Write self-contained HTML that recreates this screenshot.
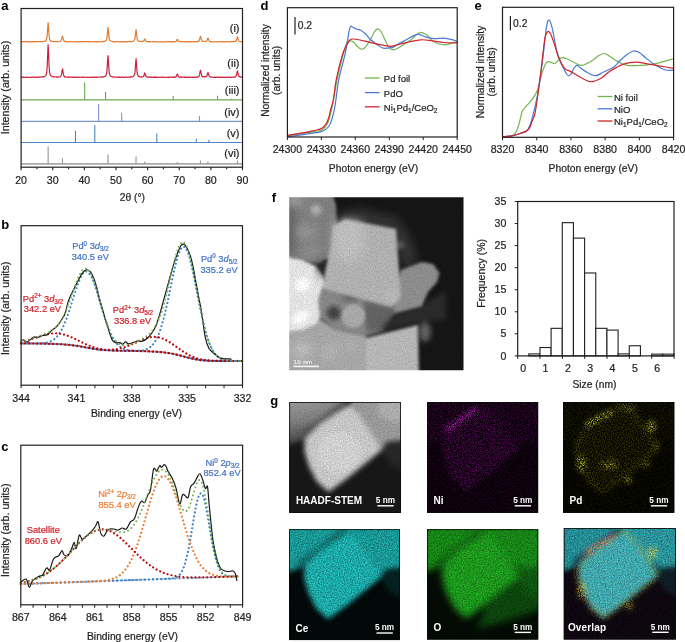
<!DOCTYPE html>
<html><head><meta charset="utf-8"><style>
html,body{margin:0;padding:0;background:#fff;}
body{width:685px;height:642px;overflow:hidden;position:relative;}
svg{position:absolute;left:0;top:0;font-family:"Liberation Sans", sans-serif;will-change:transform;}
</style></head><body>
<svg width="685" height="642" viewBox="0 0 685 642">
<defs><filter id="fh" x="-5%" y="-5%" width="110%" height="110%" color-interpolation-filters="sRGB"><feGaussianBlur in="SourceGraphic" stdDeviation="2.4" result="b"/><feTurbulence type="fractalNoise" baseFrequency="0.85" numOctaves="3" seed="11" result="t"/><feColorMatrix in="t" type="matrix" values="1 0 0 0 0  1 0 0 0 0  1 0 0 0 0  0 0 0 0 1" result="n"/><feComponentTransfer in="n" result="n2"><feFuncR type="linear" slope="0.3" intercept="0.35"/><feFuncG type="linear" slope="0.3" intercept="0.35"/><feFuncB type="linear" slope="0.3" intercept="0.35"/></feComponentTransfer><feComposite in="b" in2="n2" operator="arithmetic" k1="1.2" k2="0.4" k3="0" k4="0"/></filter><linearGradient id="gul" x1="0" y1="0" x2="0.25" y2="1"><stop offset="0" stop-color="#a0a0a0"/><stop offset="0.55" stop-color="#7a7a7a"/><stop offset="1" stop-color="#3a3a3a"/></linearGradient><filter id="fc" x="-5%" y="-5%" width="110%" height="110%" color-interpolation-filters="sRGB"><feGaussianBlur in="SourceGraphic" stdDeviation="2.8" result="b"/><feTurbulence type="fractalNoise" baseFrequency="0.85" numOctaves="3" seed="12" result="t"/><feColorMatrix in="t" type="matrix" values="1 0 0 0 0  1 0 0 0 0  1 0 0 0 0  0 0 0 0 1" result="n"/><feComponentTransfer in="n" result="n2"><feFuncR type="linear" slope="0.8" intercept="0.09999999999999998"/><feFuncG type="linear" slope="0.8" intercept="0.09999999999999998"/><feFuncB type="linear" slope="0.8" intercept="0.09999999999999998"/></feComponentTransfer><feComposite in="b" in2="n2" operator="arithmetic" k1="1.2" k2="0.4" k3="0" k4="0"/></filter><filter id="fo" x="-5%" y="-5%" width="110%" height="110%" color-interpolation-filters="sRGB"><feGaussianBlur in="SourceGraphic" stdDeviation="3.6" result="b"/><feTurbulence type="fractalNoise" baseFrequency="0.85" numOctaves="3" seed="13" result="t"/><feColorMatrix in="t" type="matrix" values="1 0 0 0 0  1 0 0 0 0  1 0 0 0 0  0 0 0 0 1" result="n"/><feComponentTransfer in="n" result="n2"><feFuncR type="linear" slope="0.8" intercept="0.09999999999999998"/><feFuncG type="linear" slope="0.8" intercept="0.09999999999999998"/><feFuncB type="linear" slope="0.8" intercept="0.09999999999999998"/></feComponentTransfer><feComposite in="b" in2="n2" operator="arithmetic" k1="1.2" k2="0.4" k3="0" k4="0"/></filter><filter id="fv" x="-5%" y="-5%" width="110%" height="110%" color-interpolation-filters="sRGB"><feGaussianBlur in="SourceGraphic" stdDeviation="2.8" result="b"/><feTurbulence type="fractalNoise" baseFrequency="0.85" numOctaves="3" seed="14" result="t"/><feColorMatrix in="t" type="matrix" values="1 0 0 0 0  1 0 0 0 0  1 0 0 0 0  0 0 0 0 1" result="n"/><feComponentTransfer in="n" result="n2"><feFuncR type="linear" slope="0.8" intercept="0.09999999999999998"/><feFuncG type="linear" slope="0.8" intercept="0.09999999999999998"/><feFuncB type="linear" slope="0.8" intercept="0.09999999999999998"/></feComponentTransfer><feComposite in="b" in2="n2" operator="arithmetic" k1="1.2" k2="0.4" k3="0" k4="0"/></filter><filter id="dn" x="-5%" y="-5%" width="110%" height="110%" color-interpolation-filters="sRGB"><feGaussianBlur in="SourceGraphic" stdDeviation="2.0" result="d"/><feTurbulence type="fractalNoise" baseFrequency="0.85" numOctaves="3" seed="21" result="t"/><feColorMatrix in="t" type="matrix" values="1 0 0 0 0  1 0 0 0 0  1 0 0 0 0  0 0 0 0 1" result="n"/><feComposite in="n" in2="d" operator="arithmetic" k1="6.0" k2="0" k3="-2.000" k4="0" result="m0"/><feGaussianBlur in="m0" stdDeviation="0.4" result="m"/><feColorMatrix in="m" type="matrix" values="0 0 0 0 0.8  0 0 0 0 0.1  0 0 0 0 0.8  1 0 0 0 0"/></filter><filter id="dp" x="-5%" y="-5%" width="110%" height="110%" color-interpolation-filters="sRGB"><feGaussianBlur in="SourceGraphic" stdDeviation="2.0" result="d"/><feTurbulence type="fractalNoise" baseFrequency="0.85" numOctaves="3" seed="22" result="t"/><feColorMatrix in="t" type="matrix" values="1 0 0 0 0  1 0 0 0 0  1 0 0 0 0  0 0 0 0 1" result="n"/><feComposite in="n" in2="d" operator="arithmetic" k1="6.0" k2="0" k3="-2.000" k4="0" result="m0"/><feGaussianBlur in="m0" stdDeviation="0.4" result="m"/><feColorMatrix in="m" type="matrix" values="0 0 0 0 0.8  0 0 0 0 0.78  0 0 0 0 0.08  1 0 0 0 0"/></filter><filter id="dn2" x="-5%" y="-5%" width="110%" height="110%" color-interpolation-filters="sRGB"><feGaussianBlur in="SourceGraphic" stdDeviation="2.0" result="d"/><feTurbulence type="fractalNoise" baseFrequency="0.85" numOctaves="3" seed="23" result="t"/><feColorMatrix in="t" type="matrix" values="1 0 0 0 0  1 0 0 0 0  1 0 0 0 0  0 0 0 0 1" result="n"/><feComposite in="n" in2="d" operator="arithmetic" k1="6.0" k2="0" k3="-2.000" k4="0" result="m0"/><feGaussianBlur in="m0" stdDeviation="0.4" result="m"/><feColorMatrix in="m" type="matrix" values="0 0 0 0 0.8  0 0 0 0 0.2  0 0 0 0 0.7  1 0 0 0 0"/></filter><filter id="dp2" x="-5%" y="-5%" width="110%" height="110%" color-interpolation-filters="sRGB"><feGaussianBlur in="SourceGraphic" stdDeviation="2.0" result="d"/><feTurbulence type="fractalNoise" baseFrequency="0.85" numOctaves="3" seed="24" result="t"/><feColorMatrix in="t" type="matrix" values="1 0 0 0 0  1 0 0 0 0  1 0 0 0 0  0 0 0 0 1" result="n"/><feComposite in="n" in2="d" operator="arithmetic" k1="6.0" k2="0" k3="-2.000" k4="0" result="m0"/><feGaussianBlur in="m0" stdDeviation="0.4" result="m"/><feColorMatrix in="m" type="matrix" values="0 0 0 0 0.95  0 0 0 0 0.8  0 0 0 0 0.2  1 0 0 0 0"/></filter><clipPath id="cf"><rect x="289.2" y="197.2" width="174.3" height="173.1"/></clipPath><filter id="bf4" x="-50%" y="-50%" width="200%" height="200%"><feGaussianBlur stdDeviation="4"/></filter><filter id="bf2" x="-50%" y="-50%" width="200%" height="200%"><feGaussianBlur stdDeviation="2"/></filter><filter id="bf6" x="-50%" y="-50%" width="200%" height="200%"><feGaussianBlur stdDeviation="6"/></filter><filter id="bf" x="-5%" y="-5%" width="110%" height="110%" color-interpolation-filters="sRGB"><feGaussianBlur in="SourceGraphic" stdDeviation="1.6" result="b"/><feTurbulence type="fractalNoise" baseFrequency="0.85" numOctaves="3" seed="31" result="t"/><feColorMatrix in="t" type="matrix" values="1 0 0 0 0  1 0 0 0 0  1 0 0 0 0  0 0 0 0 1" result="n"/><feComponentTransfer in="n" result="n2"><feFuncR type="linear" slope="0.25" intercept="0.375"/><feFuncG type="linear" slope="0.25" intercept="0.375"/><feFuncB type="linear" slope="0.25" intercept="0.375"/></feComponentTransfer><feComposite in="b" in2="n2" operator="arithmetic" k1="1.2" k2="0.4" k3="0" k4="0"/></filter><clipPath id="ch"><rect x="289.3" y="402" width="111.6" height="110.9"/></clipPath><clipPath id="cn"><rect x="427" y="402" width="111.2" height="110.9"/></clipPath><clipPath id="cp"><rect x="563" y="402" width="111.4" height="110.9"/></clipPath><clipPath id="cc"><rect x="289" y="529.3" width="111" height="110.8"/></clipPath><clipPath id="co"><rect x="427" y="529.3" width="111.2" height="110.2"/></clipPath><clipPath id="cv"><rect x="563.8" y="528.2" width="112" height="111.2"/></clipPath></defs>
<text x="1.2" y="9.9" font-size="13" text-anchor="start" fill="#000" font-weight="bold" >a</text>
<path d="M21.1,41.7 L21.6,41.61 L22.1,41.86 L22.6,41.57 L23.1,41.8 L23.6,41.72 L24.1,41.56 L24.6,41.79 L25.1,41.55 L25.6,41.75 L26.1,41.57 L26.6,41.58 L27.1,41.74 L27.6,41.94 L28.1,41.59 L28.6,41.64 L29.1,41.84 L29.6,42 L30.1,41.81 L30.6,41.72 L31.1,42.01 L31.6,41.54 L32.1,41.95 L32.6,41.66 L33.1,41.59 L33.6,41.57 L34.1,41.66 L34.6,41.92 L35.1,41.59 L35.6,41.79 L36.1,41.82 L36.6,41.68 L37.1,41.76 L37.6,41.51 L38.1,41.51 L38.6,41.57 L39.1,41.8 L39.6,41.66 L40.1,41.59 L40.6,41.71 L41.1,41.63 L41.6,41.53 L42.1,41.75 L42.6,41.67 L43.1,41.4 L43.6,41.5 L44.1,41.39 L44.6,41.44 L45.1,41.19 L45.6,40.68 L46.1,40.52 L46.6,39 L47.1,36.29 L47.6,29.8 L48.1,22.48 L48.6,28.17 L49.1,35.28 L49.6,38.96 L50.1,40.28 L50.6,40.75 L51.1,41.21 L51.6,41.13 L52.1,41.44 L52.6,41.48 L53.1,41.54 L53.6,41.52 L54.1,41.74 L54.6,41.82 L55.1,41.6 L55.6,41.71 L56.1,41.42 L56.6,41.74 L57.1,41.71 L57.6,41.88 L58.1,41.78 L58.6,41.49 L59.1,41.5 L59.6,41.59 L60.1,41.16 L60.6,41.19 L61.1,40.6 L61.6,39.38 L62.1,36.96 L62.6,36.28 L63.1,38.36 L63.6,40.21 L64.1,41.01 L64.6,41.53 L65.1,41.28 L65.6,41.54 L66.1,41.64 L66.6,41.85 L67.1,41.84 L67.6,41.88 L68.1,41.6 L68.6,41.68 L69.1,41.66 L69.6,41.93 L70.1,41.97 L70.6,41.57 L71.1,41.59 L71.6,41.62 L72.1,41.63 L72.6,41.75 L73.1,41.81 L73.6,41.65 L74.1,41.52 L74.6,41.73 L75.1,41.71 L75.6,41.8 L76.1,42 L76.6,41.87 L77.1,41.78 L77.6,41.83 L78.1,41.86 L78.6,41.55 L79.1,41.98 L79.6,41.92 L80.1,41.96 L80.6,41.93 L81.1,41.72 L81.6,41.73 L82.1,41.58 L82.6,41.85 L83.1,41.56 L83.6,41.56 L84.1,41.63 L84.6,41.61 L85.1,41.7 L85.6,41.55 L86.1,41.53 L86.6,41.6 L87.1,41.58 L87.6,41.71 L88.1,41.54 L88.6,41.96 L89.1,41.83 L89.6,41.6 L90.1,41.65 L90.6,41.7 L91.1,41.7 L91.6,41.58 L92.1,41.94 L92.6,42.02 L93.1,41.75 L93.6,41.76 L94.1,41.56 L94.6,41.56 L95.1,41.68 L95.6,41.64 L96.1,41.92 L96.6,41.58 L97.1,41.51 L97.6,41.97 L98.1,41.75 L98.6,41.55 L99.1,41.75 L99.6,41.48 L100.1,41.72 L100.6,41.93 L101.1,41.86 L101.6,41.76 L102.1,41.52 L102.6,41.55 L103.1,41.41 L103.6,41.66 L104.1,41.47 L104.6,41.49 L105.1,41.11 L105.6,40.81 L106.1,40.64 L106.6,39.68 L107.1,36.81 L107.6,30.94 L108.1,27.45 L108.6,33.19 L109.1,37.75 L109.6,39.91 L110.1,40.6 L110.6,40.81 L111.1,41.02 L111.6,41.28 L112.1,41.36 L112.6,41.64 L113.1,41.81 L113.6,41.59 L114.1,41.86 L114.6,41.91 L115.1,41.91 L115.6,41.63 L116.1,41.56 L116.6,41.58 L117.1,41.57 L117.6,41.58 L118.1,41.79 L118.6,41.93 L119.1,41.91 L119.6,41.73 L120.1,41.82 L120.6,41.89 L121.1,41.54 L121.6,41.83 L122.1,41.95 L122.6,41.89 L123.1,41.87 L123.6,41.73 L124.1,41.58 L124.6,41.89 L125.1,41.66 L125.6,41.89 L126.1,41.97 L126.6,41.68 L127.1,41.67 L127.6,41.94 L128.1,41.82 L128.6,41.53 L129.1,41.5 L129.6,41.5 L130.1,41.86 L130.6,41.79 L131.1,41.42 L131.6,41.72 L132.1,41.74 L132.6,41.49 L133.1,41.21 L133.6,41.1 L134.1,40.52 L134.6,39.61 L135.1,37.83 L135.6,32.84 L136.1,29.48 L136.6,34.38 L137.1,38.32 L137.6,40.32 L138.1,40.97 L138.6,40.98 L139.1,41.18 L139.6,41.31 L140.1,41.35 L140.6,41.56 L141.1,41.42 L141.6,41.51 L142.1,41.35 L142.6,41.68 L143.1,41.28 L143.6,40.99 L144.1,40.17 L144.6,39.13 L145.1,39.39 L145.6,40.85 L146.1,41.25 L146.6,41.5 L147.1,41.59 L147.6,41.4 L148.1,41.64 L148.6,41.54 L149.1,41.47 L149.6,41.87 L150.1,41.57 L150.6,41.73 L151.1,41.86 L151.6,41.78 L152.1,41.67 L152.6,41.77 L153.1,41.79 L153.6,41.91 L154.1,41.57 L154.6,41.8 L155.1,41.65 L155.6,41.66 L156.1,41.91 L156.6,41.78 L157.1,41.81 L157.6,41.91 L158.1,41.98 L158.6,41.75 L159.1,41.84 L159.6,41.78 L160.1,41.79 L160.6,41.88 L161.1,41.76 L161.6,41.8 L162.1,41.77 L162.6,42 L163.1,41.88 L163.6,41.97 L164.1,42 L164.6,41.66 L165.1,41.81 L165.6,42 L166.1,41.95 L166.6,41.6 L167.1,41.59 L167.6,41.75 L168.1,41.56 L168.6,41.65 L169.1,41.56 L169.6,41.86 L170.1,41.91 L170.6,41.97 L171.1,41.59 L171.6,41.87 L172.1,41.84 L172.6,41.57 L173.1,41.93 L173.6,41.96 L174.1,41.57 L174.6,41.9 L175.1,41.57 L175.6,41.52 L176.1,41.52 L176.6,40.8 L177.1,39.38 L177.6,39.53 L178.1,40.66 L178.6,41.2 L179.1,41.37 L179.6,41.53 L180.1,41.79 L180.6,41.47 L181.1,41.75 L181.6,41.71 L182.1,41.51 L182.6,41.67 L183.1,41.82 L183.6,41.77 L184.1,41.55 L184.6,42.01 L185.1,41.91 L185.6,42.01 L186.1,41.57 L186.6,41.65 L187.1,41.54 L187.6,41.91 L188.1,41.66 L188.6,41.58 L189.1,41.73 L189.6,41.97 L190.1,41.93 L190.6,41.64 L191.1,41.59 L191.6,41.97 L192.1,41.79 L192.6,41.85 L193.1,41.54 L193.6,41.52 L194.1,41.83 L194.6,41.69 L195.1,41.5 L195.6,41.92 L196.1,41.74 L196.6,41.8 L197.1,41.39 L197.6,41.71 L198.1,41.21 L198.6,41.4 L199.1,40.71 L199.6,39.37 L200.1,37.03 L200.6,36.47 L201.1,38.61 L201.6,40.22 L202.1,41.09 L202.6,41.21 L203.1,41.26 L203.6,41.35 L204.1,41.33 L204.6,41.41 L205.1,41.44 L205.6,41.39 L206.1,41.49 L206.6,40.95 L207.1,40.22 L207.6,38.45 L208.1,38.08 L208.6,39.54 L209.1,40.76 L209.6,41.09 L210.1,41.62 L210.6,41.62 L211.1,41.49 L211.6,41.67 L212.1,41.92 L212.6,41.52 L213.1,41.89 L213.6,41.71 L214.1,41.74 L214.6,41.92 L215.1,41.7 L215.6,41.76 L216.1,41.86 L216.6,42.01 L217.1,41.69 L217.6,41.94 L218.1,41.88 L218.6,41.84 L219.1,41.73 L219.6,41.7 L220.1,41.55 L220.6,41.59 L221.1,41.56 L221.6,41.9 L222.1,41.66 L222.6,41.61 L223.1,41.57 L223.6,41.95 L224.1,41.96 L224.6,41.86 L225.1,41.67 L225.6,41.65 L226.1,41.67 L226.6,41.76 L227.1,41.6 L227.6,41.75 L228.1,41.65 L228.6,42 L229.1,42 L229.6,41.79 L230.1,41.63 L230.6,41.99 L231.1,41.66 L231.6,41.67 L232.1,41.48 L232.6,41.66 L233.1,41.69 L233.6,41.68 L234.1,41.5 L234.6,41.59 L235.1,41.25 L235.6,41.22 L236.1,40.73 L236.6,39.84 L237.1,37.64 L237.6,36.98 L238.1,39.16 L238.6,40.53 L239.1,41.28 L239.6,41.47 L240.1,41.69 L240.6,41.71 L241.1,41.78 L241.6,41.89 L242.1,41.66" fill="none" stroke="#e27b32" stroke-width="1.2" stroke-linejoin="round" />
<path d="M21.1,77.19 L21.6,77.52 L22.1,77.1 L22.6,77.39 L23.1,77.35 L23.6,77.05 L24.1,77.44 L24.6,77.47 L25.1,77.34 L25.6,77.39 L26.1,77.43 L26.6,77.09 L27.1,77.28 L27.6,77.27 L28.1,77.43 L28.6,77.42 L29.1,77.43 L29.6,77.3 L30.1,77.45 L30.6,77.35 L31.1,77.35 L31.6,77.12 L32.1,77.01 L32.6,77.06 L33.1,77.17 L33.6,77.04 L34.1,77.4 L34.6,77.26 L35.1,77.29 L35.6,77.28 L36.1,77.3 L36.6,77.2 L37.1,76.95 L37.6,77.34 L38.1,77.3 L38.6,77.16 L39.1,77.17 L39.6,77.21 L40.1,76.89 L40.6,77.2 L41.1,76.93 L41.6,76.8 L42.1,76.85 L42.6,77.03 L43.1,76.69 L43.6,76.85 L44.1,76.82 L44.6,76.38 L45.1,76.02 L45.6,75.58 L46.1,74.82 L46.6,73.02 L47.1,68.1 L47.6,56.85 L48.1,44.68 L48.6,54.06 L49.1,66.53 L49.6,72.48 L50.1,74.41 L50.6,75.5 L51.1,75.75 L51.6,76.1 L52.1,76.42 L52.6,76.77 L53.1,76.89 L53.6,76.95 L54.1,76.82 L54.6,76.97 L55.1,76.98 L55.6,77 L56.1,76.84 L56.6,77.24 L57.1,76.89 L57.6,77.27 L58.1,77.24 L58.6,76.74 L59.1,76.91 L59.6,77.01 L60.1,76.93 L60.6,76.39 L61.1,75.64 L61.6,73.84 L62.1,70.66 L62.6,68.76 L63.1,72.52 L63.6,74.94 L64.1,76.22 L64.6,76.85 L65.1,76.65 L65.6,77.11 L66.1,77.03 L66.6,77.27 L67.1,77.22 L67.6,77.01 L68.1,77.36 L68.6,77.18 L69.1,76.96 L69.6,76.96 L70.1,77.21 L70.6,77.2 L71.1,77.13 L71.6,77.05 L72.1,77.16 L72.6,77.15 L73.1,77.41 L73.6,77 L74.1,77.38 L74.6,77.42 L75.1,77.06 L75.6,77.47 L76.1,77.36 L76.6,77.46 L77.1,77.16 L77.6,77.2 L78.1,77.21 L78.6,77.51 L79.1,77.31 L79.6,77.19 L80.1,77.23 L80.6,77.15 L81.1,77.04 L81.6,77.07 L82.1,77.43 L82.6,77.16 L83.1,77.48 L83.6,77.14 L84.1,77.15 L84.6,77.27 L85.1,77.11 L85.6,77.2 L86.1,77.49 L86.6,77.46 L87.1,77.42 L87.6,77.33 L88.1,77.47 L88.6,77.48 L89.1,77.29 L89.6,77.37 L90.1,77.03 L90.6,77.37 L91.1,77.23 L91.6,77.38 L92.1,77.33 L92.6,77.14 L93.1,77.02 L93.6,77.46 L94.1,77.06 L94.6,77.23 L95.1,77.16 L95.6,77.13 L96.1,77.35 L96.6,77.46 L97.1,77.1 L97.6,77.29 L98.1,77.11 L98.6,77.22 L99.1,77.13 L99.6,77.01 L100.1,76.99 L100.6,76.99 L101.1,77.32 L101.6,77.09 L102.1,76.92 L102.6,77.22 L103.1,77.21 L103.6,76.86 L104.1,76.59 L104.6,76.47 L105.1,76.18 L105.6,75.92 L106.1,75.1 L106.6,73.58 L107.1,69.35 L107.6,60.63 L108.1,55.48 L108.6,64.18 L109.1,71.32 L109.6,74.38 L110.1,75.61 L110.6,76.09 L111.1,76.39 L111.6,76.46 L112.1,76.7 L112.6,77.14 L113.1,76.79 L113.6,77.03 L114.1,77.13 L114.6,77.28 L115.1,76.98 L115.6,77.02 L116.1,77.03 L116.6,77.12 L117.1,77.15 L117.6,77.41 L118.1,77.37 L118.6,77.39 L119.1,76.97 L119.6,76.97 L120.1,77.32 L120.6,77.41 L121.1,77.2 L121.6,77.26 L122.1,76.97 L122.6,77.16 L123.1,77.43 L123.6,77.38 L124.1,77.39 L124.6,77.45 L125.1,77.08 L125.6,77.01 L126.1,77.03 L126.6,77.2 L127.1,77.28 L127.6,77.4 L128.1,77.28 L128.6,77.22 L129.1,77.27 L129.6,77.09 L130.1,77.11 L130.6,76.82 L131.1,77.14 L131.6,76.81 L132.1,77.06 L132.6,76.8 L133.1,76.44 L133.6,76.04 L134.1,75.54 L134.6,74.46 L135.1,71.12 L135.6,63.62 L136.1,58.68 L136.6,65.93 L137.1,72.2 L137.6,74.76 L138.1,75.68 L138.6,76.34 L139.1,76.31 L139.6,76.62 L140.1,76.8 L140.6,77.11 L141.1,76.99 L141.6,77.12 L142.1,76.89 L142.6,76.69 L143.1,76.51 L143.6,76.35 L144.1,74.93 L144.6,72.95 L145.1,73.55 L145.6,75.58 L146.1,76.57 L146.6,76.79 L147.1,76.86 L147.6,77.14 L148.1,77.32 L148.6,77.01 L149.1,76.94 L149.6,77.11 L150.1,77.16 L150.6,77.31 L151.1,77.07 L151.6,77.38 L152.1,77.36 L152.6,77.24 L153.1,77.1 L153.6,77.48 L154.1,77.16 L154.6,77.41 L155.1,77.12 L155.6,77.12 L156.1,77.39 L156.6,77.16 L157.1,77.49 L157.6,77.26 L158.1,77.11 L158.6,77.13 L159.1,77.23 L159.6,77.35 L160.1,77.5 L160.6,77.09 L161.1,77.22 L161.6,77.13 L162.1,77.51 L162.6,77.09 L163.1,77.05 L163.6,77.05 L164.1,77.22 L164.6,77.47 L165.1,77.46 L165.6,77.39 L166.1,77.52 L166.6,77.49 L167.1,77.19 L167.6,77.11 L168.1,77.49 L168.6,77.39 L169.1,77.03 L169.6,77.35 L170.1,77.2 L170.6,77.19 L171.1,77.17 L171.6,77.08 L172.1,76.99 L172.6,77.12 L173.1,77.15 L173.6,77.43 L174.1,76.99 L174.6,77.37 L175.1,76.92 L175.6,76.86 L176.1,76.77 L176.6,75.92 L177.1,74.29 L177.6,74.12 L178.1,75.77 L178.6,76.55 L179.1,77.15 L179.6,76.91 L180.1,77.07 L180.6,77.37 L181.1,76.97 L181.6,77.17 L182.1,77.39 L182.6,77.37 L183.1,77.02 L183.6,77.02 L184.1,77.03 L184.6,77.47 L185.1,77.14 L185.6,77.38 L186.1,77.46 L186.6,77.18 L187.1,77.15 L187.6,77.49 L188.1,77.32 L188.6,77.14 L189.1,77.37 L189.6,77.17 L190.1,77.14 L190.6,77 L191.1,77.38 L191.6,77.45 L192.1,77.31 L192.6,77.46 L193.1,76.99 L193.6,77.09 L194.1,77.2 L194.6,77.43 L195.1,77.41 L195.6,77.11 L196.1,77.01 L196.6,77.06 L197.1,77.04 L197.6,77.17 L198.1,76.65 L198.6,76.7 L199.1,76.04 L199.6,74.42 L200.1,71.23 L200.6,70.19 L201.1,73.23 L201.6,75.41 L202.1,76.3 L202.6,76.84 L203.1,76.64 L203.6,76.78 L204.1,77.1 L204.6,76.85 L205.1,76.73 L205.6,76.64 L206.1,76.73 L206.6,76.19 L207.1,75.38 L207.6,73.13 L208.1,72.56 L208.6,74.43 L209.1,75.85 L209.6,76.46 L210.1,76.9 L210.6,77.12 L211.1,77.06 L211.6,77 L212.1,77.13 L212.6,77.25 L213.1,77.29 L213.6,77.34 L214.1,77.4 L214.6,77.32 L215.1,77.05 L215.6,77.42 L216.1,77.15 L216.6,77.29 L217.1,77.2 L217.6,77.38 L218.1,77.11 L218.6,77.14 L219.1,77.14 L219.6,77.09 L220.1,77.46 L220.6,77.31 L221.1,77.18 L221.6,77.22 L222.1,77.52 L222.6,77.28 L223.1,77.14 L223.6,77.43 L224.1,77.35 L224.6,77.52 L225.1,77.07 L225.6,77.26 L226.1,77.43 L226.6,77.44 L227.1,77.47 L227.6,77.03 L228.1,77.16 L228.6,77.07 L229.1,77.1 L229.6,77.49 L230.1,77.29 L230.6,77.46 L231.1,77.17 L231.6,77.41 L232.1,77.18 L232.6,77.07 L233.1,77.31 L233.6,77.36 L234.1,76.89 L234.6,77.06 L235.1,76.96 L235.6,76.53 L236.1,76.07 L236.6,74.53 L237.1,71.83 L237.6,70.98 L238.1,73.91 L238.6,75.84 L239.1,76.39 L239.6,76.59 L240.1,76.9 L240.6,77.16 L241.1,76.97 L241.6,77.07 L242.1,77.04" fill="none" stroke="#cf1f3f" stroke-width="1.2" stroke-linejoin="round" />
<line x1="21.1" y1="99.8" x2="242.5" y2="99.8" stroke="#6aa84f" stroke-width="1.2" />
<line x1="84.67" y1="99.8" x2="84.67" y2="82.5" stroke="#6aa84f" stroke-width="1.1" />
<line x1="105.55" y1="99.8" x2="105.55" y2="92" stroke="#6aa84f" stroke-width="1.1" />
<line x1="173.23" y1="99.8" x2="173.23" y2="96.1" stroke="#6aa84f" stroke-width="1.1" />
<line x1="217.51" y1="99.8" x2="217.51" y2="95.7" stroke="#6aa84f" stroke-width="1.1" />
<line x1="231.75" y1="99.8" x2="231.75" y2="98.4" stroke="#6aa84f" stroke-width="1.1" />
<line x1="21.1" y1="121.3" x2="242.5" y2="121.3" stroke="#7b95c8" stroke-width="1.2" />
<line x1="98.59" y1="121.3" x2="98.59" y2="103.9" stroke="#7b95c8" stroke-width="1.1" />
<line x1="121.68" y1="121.3" x2="121.68" y2="112.8" stroke="#7b95c8" stroke-width="1.1" />
<line x1="199.49" y1="121.3" x2="199.49" y2="116" stroke="#7b95c8" stroke-width="1.1" />
<line x1="21.1" y1="142.5" x2="242.5" y2="142.5" stroke="#4a86c8" stroke-width="1.2" />
<line x1="75.5" y1="142.5" x2="75.5" y2="130.8" stroke="#4a86c8" stroke-width="1.1" />
<line x1="94.79" y1="142.5" x2="94.79" y2="125.1" stroke="#4a86c8" stroke-width="1.1" />
<line x1="156.79" y1="142.5" x2="156.79" y2="133.5" stroke="#4a86c8" stroke-width="1.1" />
<line x1="196.32" y1="142.5" x2="196.32" y2="138.8" stroke="#4a86c8" stroke-width="1.1" />
<line x1="208.97" y1="142.5" x2="208.97" y2="139.8" stroke="#4a86c8" stroke-width="1.1" />
<line x1="21.1" y1="163.8" x2="242.5" y2="163.8" stroke="#aaaaaa" stroke-width="1.8" />
<line x1="48.14" y1="163.8" x2="48.14" y2="146.4" stroke="#929292" stroke-width="1.1" />
<line x1="62.47" y1="163.8" x2="62.47" y2="158.3" stroke="#929292" stroke-width="1.1" />
<line x1="108.02" y1="163.8" x2="108.02" y2="154.5" stroke="#929292" stroke-width="1.1" />
<line x1="136.04" y1="163.8" x2="136.04" y2="156.5" stroke="#929292" stroke-width="1.1" />
<line x1="144.74" y1="163.8" x2="144.74" y2="161.5" stroke="#929292" stroke-width="1.1" />
<line x1="177.35" y1="163.8" x2="177.35" y2="162" stroke="#929292" stroke-width="1.1" />
<line x1="200.43" y1="163.8" x2="200.43" y2="160.6" stroke="#929292" stroke-width="1.1" />
<line x1="207.93" y1="163.8" x2="207.93" y2="161.5" stroke="#929292" stroke-width="1.1" />
<line x1="237.44" y1="163.8" x2="237.44" y2="160.6" stroke="#929292" stroke-width="1.1" />
<rect x="21.1" y="8.5" width="221.4" height="158.7" stroke="#231f20" stroke-width="1.2" fill="none" />
<line x1="21.1" y1="167.2" x2="21.1" y2="170.2" stroke="#231f20" stroke-width="1.1" />
<line x1="36.91" y1="167.2" x2="36.91" y2="169.2" stroke="#231f20" stroke-width="1.1" />
<line x1="52.73" y1="167.2" x2="52.73" y2="170.2" stroke="#231f20" stroke-width="1.1" />
<line x1="68.54" y1="167.2" x2="68.54" y2="169.2" stroke="#231f20" stroke-width="1.1" />
<line x1="84.36" y1="167.2" x2="84.36" y2="170.2" stroke="#231f20" stroke-width="1.1" />
<line x1="100.17" y1="167.2" x2="100.17" y2="169.2" stroke="#231f20" stroke-width="1.1" />
<line x1="115.99" y1="167.2" x2="115.99" y2="170.2" stroke="#231f20" stroke-width="1.1" />
<line x1="131.8" y1="167.2" x2="131.8" y2="169.2" stroke="#231f20" stroke-width="1.1" />
<line x1="147.61" y1="167.2" x2="147.61" y2="170.2" stroke="#231f20" stroke-width="1.1" />
<line x1="163.43" y1="167.2" x2="163.43" y2="169.2" stroke="#231f20" stroke-width="1.1" />
<line x1="179.24" y1="167.2" x2="179.24" y2="170.2" stroke="#231f20" stroke-width="1.1" />
<line x1="195.06" y1="167.2" x2="195.06" y2="169.2" stroke="#231f20" stroke-width="1.1" />
<line x1="210.87" y1="167.2" x2="210.87" y2="170.2" stroke="#231f20" stroke-width="1.1" />
<line x1="226.69" y1="167.2" x2="226.69" y2="169.2" stroke="#231f20" stroke-width="1.1" />
<line x1="242.5" y1="167.2" x2="242.5" y2="170.2" stroke="#231f20" stroke-width="1.1" />
<text x="21.1" y="184" font-size="10.6" text-anchor="middle" fill="#231f20" font-weight="normal" stroke="#231f20" stroke-width="0.22" >20</text>
<text x="52.73" y="184" font-size="10.6" text-anchor="middle" fill="#231f20" font-weight="normal" stroke="#231f20" stroke-width="0.22" >30</text>
<text x="84.36" y="184" font-size="10.6" text-anchor="middle" fill="#231f20" font-weight="normal" stroke="#231f20" stroke-width="0.22" >40</text>
<text x="115.99" y="184" font-size="10.6" text-anchor="middle" fill="#231f20" font-weight="normal" stroke="#231f20" stroke-width="0.22" >50</text>
<text x="147.61" y="184" font-size="10.6" text-anchor="middle" fill="#231f20" font-weight="normal" stroke="#231f20" stroke-width="0.22" >60</text>
<text x="179.24" y="184" font-size="10.6" text-anchor="middle" fill="#231f20" font-weight="normal" stroke="#231f20" stroke-width="0.22" >70</text>
<text x="210.87" y="184" font-size="10.6" text-anchor="middle" fill="#231f20" font-weight="normal" stroke="#231f20" stroke-width="0.22" >80</text>
<text x="242.5" y="184" font-size="10.6" text-anchor="middle" fill="#231f20" font-weight="normal" stroke="#231f20" stroke-width="0.22" >90</text>
<text x="239.5" y="32" font-size="11" text-anchor="end" fill="#231f20" font-weight="normal" stroke="#231f20" stroke-width="0.22" >(i)</text>
<text x="239.5" y="67.1" font-size="11" text-anchor="end" fill="#231f20" font-weight="normal" stroke="#231f20" stroke-width="0.22" >(ii)</text>
<text x="239.5" y="94.3" font-size="11" text-anchor="end" fill="#231f20" font-weight="normal" stroke="#231f20" stroke-width="0.22" >(iii)</text>
<text x="239.5" y="115.8" font-size="11" text-anchor="end" fill="#231f20" font-weight="normal" stroke="#231f20" stroke-width="0.22" >(iv)</text>
<text x="239.5" y="136.5" font-size="11" text-anchor="end" fill="#231f20" font-weight="normal" stroke="#231f20" stroke-width="0.22" >(v)</text>
<text x="239.5" y="156.5" font-size="11" text-anchor="end" fill="#231f20" font-weight="normal" stroke="#231f20" stroke-width="0.22" >(vi)</text>
<text x="132.4" y="201" font-size="10.3" text-anchor="middle" fill="#231f20" font-weight="normal" stroke="#231f20" stroke-width="0.22" >2θ (°)</text>
<text x="0" y="0" font-size="10.65" text-anchor="middle" fill="#231f20" font-weight="normal" stroke="#231f20" stroke-width="0.22" transform="translate(8.5,87.5) rotate(-90)">Intensity (arb. units)</text>
<text x="1.2" y="229.2" font-size="13" text-anchor="start" fill="#000" font-weight="bold" >b</text>
<path d="M21.1,343.4 L21.42,343.4 L21.73,343.4 L22.05,343.4 L22.37,343.41 L22.68,343.41 L23,343.41 L23.32,343.41 L23.63,343.41 L23.95,343.41 L24.27,343.42 L24.58,343.42 L24.9,343.42 L25.22,343.42 L25.53,343.42 L25.85,343.43 L26.17,343.43 L26.48,343.43 L26.8,343.43 L27.12,343.43 L27.43,343.44 L27.75,343.44 L28.07,343.44 L28.38,343.44 L28.7,343.45 L29.02,343.45 L29.34,343.45 L29.65,343.46 L29.97,343.46 L30.29,343.46 L30.6,343.46 L30.92,343.47 L31.24,343.47 L31.55,343.47 L31.87,343.48 L32.19,343.48 L32.5,343.48 L32.82,343.49 L33.14,343.49 L33.45,343.5 L33.77,343.5 L34.09,343.5 L34.4,343.51 L34.72,343.51 L35.04,343.52 L35.35,343.52 L35.67,343.52 L35.99,343.53 L36.3,343.53 L36.62,343.54 L36.94,343.54 L37.25,343.55 L37.57,343.55 L37.89,343.56 L38.2,343.56 L38.52,343.57 L38.84,343.57 L39.15,343.58 L39.47,343.58 L39.79,343.59 L40.1,343.59 L40.42,343.6 L40.74,343.6 L41.05,343.61 L41.37,343.62 L41.69,343.62 L42,343.63 L42.32,343.64 L42.64,343.64 L42.95,343.65 L43.27,343.65 L43.59,343.66 L43.91,343.67 L44.22,343.67 L44.54,343.68 L44.86,343.69 L45.17,343.7 L45.49,343.7 L45.81,343.71 L46.12,343.72 L46.44,343.73 L46.76,343.73 L47.07,343.74 L47.39,343.75 L47.71,343.76 L48.02,343.77 L48.34,343.77 L48.66,343.78 L48.97,343.79 L49.29,343.8 L49.61,343.81 L49.92,343.82 L50.24,343.83 L50.56,343.84 L50.87,343.85 L51.19,343.86 L51.51,343.86 L51.82,343.87 L52.14,343.88 L52.46,343.9 L52.77,343.91 L53.09,343.92 L53.41,343.93 L53.72,343.94 L54.04,343.95 L54.36,343.96 L54.67,343.97 L54.99,343.98 L55.31,344 L55.62,344.01 L55.94,344.02 L56.26,344.03 L56.57,344.05 L56.89,344.06 L57.21,344.07 L57.52,344.09 L57.84,344.1 L58.16,344.12 L58.48,344.13 L58.79,344.14 L59.11,344.16 L59.43,344.18 L59.74,344.19 L60.06,344.21 L60.38,344.22 L60.69,344.24 L61.01,344.26 L61.33,344.28 L61.64,344.29 L61.96,344.31 L62.28,344.33 L62.59,344.35 L62.91,344.37 L63.23,344.39 L63.54,344.41 L63.86,344.43 L64.18,344.46 L64.49,344.48 L64.81,344.5 L65.13,344.52 L65.44,344.55 L65.76,344.57 L66.08,344.6 L66.39,344.62 L66.71,344.65 L67.03,344.68 L67.34,344.7 L67.66,344.73 L67.98,344.76 L68.29,344.79 L68.61,344.82 L68.93,344.85 L69.24,344.88 L69.56,344.91 L69.88,344.95 L70.19,344.98 L70.51,345.01 L70.83,345.05 L71.14,345.08 L71.46,345.12 L71.78,345.16 L72.09,345.19 L72.41,345.23 L72.73,345.27 L73.05,345.31 L73.36,345.35 L73.68,345.39 L74,345.43 L74.31,345.48 L74.63,345.52 L74.95,345.56 L75.26,345.61 L75.58,345.65 L75.9,345.7 L76.21,345.74 L76.53,345.79 L76.85,345.84 L77.16,345.89 L77.48,345.94 L77.8,345.99 L78.11,346.04 L78.43,346.09 L78.75,346.14 L79.06,346.19 L79.38,346.24 L79.7,346.3 L80.01,346.35 L80.33,346.41 L80.65,346.46 L80.96,346.52 L81.28,346.57 L81.6,346.63 L81.91,346.68 L82.23,346.74 L82.55,346.8 L82.86,346.86 L83.18,346.91 L83.5,346.97 L83.81,347.03 L84.13,347.09 L84.45,347.15 L84.76,347.2 L85.08,347.26 L85.4,347.32 L85.71,347.38 L86.03,347.44 L86.35,347.5 L86.66,347.56 L86.98,347.62 L87.3,347.68 L87.62,347.74 L87.93,347.8 L88.25,347.85 L88.57,347.91 L88.88,347.97 L89.2,348.03 L89.52,348.09 L89.83,348.14 L90.15,348.2 L90.47,348.26 L90.78,348.31 L91.1,348.37 L91.42,348.43 L91.73,348.48 L92.05,348.54 L92.37,348.59 L92.68,348.64 L93,348.7 L93.32,348.75 L93.63,348.8 L93.95,348.85 L94.27,348.9 L94.58,348.95 L94.9,349 L95.22,349.05 L95.53,349.1 L95.85,349.15 L96.17,349.19 L96.48,349.24 L96.8,349.28 L97.12,349.33 L97.43,349.37 L97.75,349.41 L98.07,349.46 L98.38,349.5 L98.7,349.54 L99.02,349.58 L99.33,349.62 L99.65,349.66 L99.97,349.69 L100.28,349.73 L100.6,349.76 L100.92,349.8 L101.23,349.83 L101.55,349.87 L101.87,349.9 L102.18,349.93 L102.5,349.96 L102.82,349.99 L103.14,350.02 L103.45,350.05 L103.77,350.08 L104.09,350.1 L104.4,350.13 L104.72,350.16 L105.04,350.18 L105.35,350.2 L105.67,350.23 L105.99,350.25 L106.3,350.27 L106.62,350.29 L106.94,350.31 L107.25,350.33 L107.57,350.35 L107.89,350.37 L108.2,350.39 L108.52,350.41 L108.84,350.42 L109.15,350.44 L109.47,350.46 L109.79,350.47 L110.1,350.49 L110.42,350.5 L110.74,350.51 L111.05,350.53 L111.37,350.54 L111.69,350.55 L112,350.56 L112.32,350.58 L112.64,350.59 L112.95,350.6 L113.27,350.61 L113.59,350.62 L113.9,350.63 L114.22,350.63 L114.54,350.64 L114.85,350.65 L115.17,350.66 L115.49,350.67 L115.8,350.68 L116.12,350.68 L116.44,350.69 L116.75,350.7 L117.07,350.7 L117.39,350.71 L117.71,350.72 L118.02,350.72 L118.34,350.73 L118.66,350.73 L118.97,350.74 L119.29,350.74 L119.61,350.75 L119.92,350.75 L120.24,350.76 L120.56,350.76 L120.87,350.77 L121.19,350.77 L121.51,350.78 L121.82,350.78 L122.14,350.79 L122.46,350.79 L122.77,350.79 L123.09,350.8 L123.41,350.8 L123.72,350.81 L124.04,350.81 L124.36,350.81 L124.67,350.82 L124.99,350.82 L125.31,350.83 L125.62,350.83 L125.94,350.83 L126.26,350.84 L126.57,350.84 L126.89,350.85 L127.21,350.85 L127.52,350.86 L127.84,350.86 L128.16,350.86 L128.47,350.87 L128.79,350.87 L129.11,350.88 L129.42,350.88 L129.74,350.89 L130.06,350.89 L130.37,350.9 L130.69,350.9 L131.01,350.9 L131.32,350.91 L131.64,350.91 L131.96,350.92 L132.28,350.92 L132.59,350.93 L132.91,350.94 L133.23,350.94 L133.54,350.95 L133.86,350.95 L134.18,350.96 L134.49,350.96 L134.81,350.97 L135.13,350.98 L135.44,350.98 L135.76,350.99 L136.08,351 L136.39,351 L136.71,351.01 L137.03,351.02 L137.34,351.02 L137.66,351.03 L137.98,351.04 L138.29,351.04 L138.61,351.05 L138.93,351.06 L139.24,351.07 L139.56,351.07 L139.88,351.08 L140.19,351.09 L140.51,351.1 L140.83,351.11 L141.14,351.12 L141.46,351.12 L141.78,351.13 L142.09,351.14 L142.41,351.15 L142.73,351.16 L143.04,351.17 L143.36,351.18 L143.68,351.19 L143.99,351.2 L144.31,351.21 L144.63,351.22 L144.94,351.23 L145.26,351.24 L145.58,351.25 L145.89,351.26 L146.21,351.27 L146.53,351.28 L146.85,351.29 L147.16,351.31 L147.48,351.32 L147.8,351.33 L148.11,351.34 L148.43,351.35 L148.75,351.37 L149.06,351.38 L149.38,351.39 L149.7,351.41 L150.01,351.42 L150.33,351.43 L150.65,351.45 L150.96,351.46 L151.28,351.47 L151.6,351.49 L151.91,351.5 L152.23,351.52 L152.55,351.54 L152.86,351.55 L153.18,351.57 L153.5,351.58 L153.81,351.6 L154.13,351.62 L154.45,351.64 L154.76,351.65 L155.08,351.67 L155.4,351.69 L155.71,351.71 L156.03,351.73 L156.35,351.75 L156.66,351.77 L156.98,351.79 L157.3,351.81 L157.61,351.83 L157.93,351.86 L158.25,351.88 L158.56,351.9 L158.88,351.93 L159.2,351.95 L159.51,351.98 L159.83,352 L160.15,352.03 L160.46,352.06 L160.78,352.08 L161.1,352.11 L161.42,352.14 L161.73,352.17 L162.05,352.2 L162.37,352.23 L162.68,352.26 L163,352.3 L163.32,352.33 L163.63,352.37 L163.95,352.4 L164.27,352.44 L164.58,352.47 L164.9,352.51 L165.22,352.55 L165.53,352.59 L165.85,352.63 L166.17,352.67 L166.48,352.72 L166.8,352.76 L167.12,352.81 L167.43,352.85 L167.75,352.9 L168.07,352.95 L168.38,352.99 L168.7,353.04 L169.02,353.1 L169.33,353.15 L169.65,353.2 L169.97,353.26 L170.28,353.31 L170.6,353.37 L170.92,353.42 L171.23,353.48 L171.55,353.54 L171.87,353.6 L172.18,353.66 L172.5,353.73 L172.82,353.79 L173.13,353.86 L173.45,353.92 L173.77,353.99 L174.08,354.06 L174.4,354.13 L174.72,354.2 L175.03,354.27 L175.35,354.34 L175.67,354.41 L175.98,354.49 L176.3,354.56 L176.62,354.64 L176.94,354.71 L177.25,354.79 L177.57,354.87 L177.89,354.95 L178.2,355.02 L178.52,355.1 L178.84,355.19 L179.15,355.27 L179.47,355.35 L179.79,355.43 L180.1,355.51 L180.42,355.6 L180.74,355.68 L181.05,355.77 L181.37,355.85 L181.69,355.93 L182,356.02 L182.32,356.11 L182.64,356.19 L182.95,356.28 L183.27,356.36 L183.59,356.45 L183.9,356.53 L184.22,356.62 L184.54,356.7 L184.85,356.79 L185.17,356.87 L185.49,356.96 L185.8,357.04 L186.12,357.13 L186.44,357.21 L186.75,357.3 L187.07,357.38 L187.39,357.46 L187.7,357.54 L188.02,357.63 L188.34,357.71 L188.65,357.79 L188.97,357.87 L189.29,357.94 L189.6,358.02 L189.92,358.1 L190.24,358.18 L190.55,358.25 L190.87,358.33 L191.19,358.4 L191.51,358.47 L191.82,358.54 L192.14,358.61 L192.46,358.68 L192.77,358.75 L193.09,358.82 L193.41,358.89 L193.72,358.95 L194.04,359.01 L194.36,359.08 L194.67,359.14 L194.99,359.2 L195.31,359.26 L195.62,359.32 L195.94,359.37 L196.26,359.43 L196.57,359.48 L196.89,359.54 L197.21,359.59 L197.52,359.64 L197.84,359.69 L198.16,359.74 L198.47,359.78 L198.79,359.83 L199.11,359.87 L199.42,359.92 L199.74,359.96 L200.06,360 L200.37,360.04 L200.69,360.08 L201.01,360.12 L201.32,360.15 L201.64,360.19 L201.96,360.22 L202.27,360.26 L202.59,360.29 L202.91,360.32 L203.22,360.35 L203.54,360.38 L203.86,360.41 L204.17,360.43 L204.49,360.46 L204.81,360.48 L205.12,360.51 L205.44,360.53 L205.76,360.55 L206.08,360.58 L206.39,360.6 L206.71,360.62 L207.03,360.63 L207.34,360.65 L207.66,360.67 L207.98,360.69 L208.29,360.7 L208.61,360.72 L208.93,360.73 L209.24,360.75 L209.56,360.76 L209.88,360.77 L210.19,360.79 L210.51,360.8 L210.83,360.81 L211.14,360.82 L211.46,360.83 L211.78,360.84 L212.09,360.85 L212.41,360.86 L212.73,360.87 L213.04,360.87 L213.36,360.88 L213.68,360.89 L213.99,360.89 L214.31,360.9 L214.63,360.91 L214.94,360.91 L215.26,360.92 L215.58,360.92 L215.89,360.93 L216.21,360.93 L216.53,360.94 L216.84,360.94 L217.16,360.94 L217.48,360.95 L217.79,360.95 L218.11,360.96 L218.43,360.96 L218.74,360.96 L219.06,360.96 L219.38,360.97 L219.69,360.97 L220.01,360.97 L220.33,360.97 L220.65,360.97 L220.96,360.98 L221.28,360.98 L221.6,360.98 L221.91,360.98 L222.23,360.98 L222.55,360.98 L222.86,360.98 L223.18,360.99 L223.5,360.99 L223.81,360.99 L224.13,360.99 L224.45,360.99 L224.76,360.99 L225.08,360.99 L225.4,360.99 L225.71,360.99 L226.03,360.99 L226.35,360.99 L226.66,360.99 L226.98,360.99 L227.3,361 L227.61,361 L227.93,361 L228.25,361 L228.56,361 L228.88,361 L229.2,361 L229.51,361 L229.83,361 L230.15,361 L230.46,361 L230.78,361 L231.1,361 L231.41,361 L231.73,361 L232.05,361 L232.36,361 L232.68,361 L233,361 L233.31,361 L233.63,361 L233.95,361 L234.26,361 L234.58,361 L234.9,361 L235.22,361 L235.53,361 L235.85,361 L236.17,361 L236.48,361 L236.8,361 L237.12,361 L237.43,361 L237.75,361 L238.07,361 L238.38,361 L238.7,361 L239.02,361 L239.33,361 L239.65,361 L239.97,361 L240.28,361 L240.6,361 L240.92,361 L241.23,361 L241.55,361 L241.87,361 L242.18,361 L242.5,361" fill="none" stroke="#bfbfbf" stroke-width="0.8" stroke-linejoin="round" />
<path d="M21.1,343.4 L21.42,343.4 L21.73,343.4 L22.05,343.4 L22.37,343.4 L22.68,343.41 L23,343.41 L23.32,343.41 L23.63,343.41 L23.95,343.41 L24.27,343.41 L24.58,343.41 L24.9,343.42 L25.22,343.42 L25.53,343.42 L25.85,343.42 L26.17,343.42 L26.48,343.42 L26.8,343.43 L27.12,343.43 L27.43,343.43 L27.75,343.43 L28.07,343.43 L28.38,343.43 L28.7,343.44 L29.02,343.44 L29.34,343.44 L29.65,343.44 L29.97,343.44 L30.29,343.44 L30.6,343.45 L30.92,343.45 L31.24,343.45 L31.55,343.45 L31.87,343.45 L32.19,343.45 L32.5,343.45 L32.82,343.45 L33.14,343.45 L33.45,343.45 L33.77,343.45 L34.09,343.45 L34.4,343.45 L34.72,343.45 L35.04,343.45 L35.35,343.45 L35.67,343.44 L35.99,343.44 L36.3,343.44 L36.62,343.43 L36.94,343.43 L37.25,343.43 L37.57,343.42 L37.89,343.41 L38.2,343.41 L38.52,343.4 L38.84,343.39 L39.15,343.38 L39.47,343.37 L39.79,343.36 L40.1,343.34 L40.42,343.33 L40.74,343.31 L41.05,343.3 L41.37,343.28 L41.69,343.26 L42,343.23 L42.32,343.21 L42.64,343.18 L42.95,343.16 L43.27,343.13 L43.59,343.09 L43.91,343.06 L44.22,343.02 L44.54,342.98 L44.86,342.93 L45.17,342.89 L45.49,342.84 L45.81,342.78 L46.12,342.72 L46.44,342.66 L46.76,342.6 L47.07,342.53 L47.39,342.45 L47.71,342.37 L48.02,342.29 L48.34,342.2 L48.66,342.1 L48.97,342 L49.29,341.89 L49.61,341.78 L49.92,341.66 L50.24,341.53 L50.56,341.4 L50.87,341.26 L51.19,341.11 L51.51,340.95 L51.82,340.79 L52.14,340.62 L52.46,340.43 L52.77,340.24 L53.09,340.04 L53.41,339.83 L53.72,339.6 L54.04,339.37 L54.36,339.13 L54.67,338.87 L54.99,338.61 L55.31,338.33 L55.62,338.04 L55.94,337.73 L56.26,337.42 L56.57,337.09 L56.89,336.74 L57.21,336.39 L57.52,336.01 L57.84,335.63 L58.16,335.23 L58.48,334.81 L58.79,334.38 L59.11,333.93 L59.43,333.47 L59.74,332.99 L60.06,332.49 L60.38,331.98 L60.69,331.45 L61.01,330.91 L61.33,330.34 L61.64,329.76 L61.96,329.16 L62.28,328.55 L62.59,327.92 L62.91,327.27 L63.23,326.6 L63.54,325.92 L63.86,325.21 L64.18,324.49 L64.49,323.76 L64.81,323 L65.13,322.23 L65.44,321.45 L65.76,320.64 L66.08,319.82 L66.39,318.99 L66.71,318.14 L67.03,317.28 L67.34,316.4 L67.66,315.5 L67.98,314.6 L68.29,313.68 L68.61,312.75 L68.93,311.8 L69.24,310.85 L69.56,309.88 L69.88,308.91 L70.19,307.93 L70.51,306.94 L70.83,305.94 L71.14,304.94 L71.46,303.93 L71.78,302.92 L72.09,301.9 L72.41,300.88 L72.73,299.86 L73.05,298.84 L73.36,297.83 L73.68,296.81 L74,295.8 L74.31,294.79 L74.63,293.79 L74.95,292.8 L75.26,291.81 L75.58,290.83 L75.9,289.87 L76.21,288.91 L76.53,287.97 L76.85,287.05 L77.16,286.14 L77.48,285.24 L77.8,284.37 L78.11,283.52 L78.43,282.68 L78.75,281.87 L79.06,281.08 L79.38,280.32 L79.7,279.58 L80.01,278.86 L80.33,278.18 L80.65,277.52 L80.96,276.9 L81.28,276.3 L81.6,275.74 L81.91,275.21 L82.23,274.71 L82.55,274.25 L82.86,273.82 L83.18,273.43 L83.5,273.07 L83.81,272.76 L84.13,272.48 L84.45,272.23 L84.76,272.03 L85.08,271.87 L85.4,271.74 L85.71,271.66 L86.03,271.61 L86.35,271.61 L86.66,271.64 L86.98,271.71 L87.3,271.83 L87.62,271.98 L87.93,272.18 L88.25,272.41 L88.57,272.68 L88.88,273 L89.2,273.35 L89.52,273.73 L89.83,274.16 L90.15,274.62 L90.47,275.12 L90.78,275.65 L91.1,276.22 L91.42,276.82 L91.73,277.46 L92.05,278.13 L92.37,278.82 L92.68,279.55 L93,280.31 L93.32,281.09 L93.63,281.91 L93.95,282.74 L94.27,283.61 L94.58,284.49 L94.9,285.4 L95.22,286.33 L95.53,287.28 L95.85,288.25 L96.17,289.23 L96.48,290.23 L96.8,291.25 L97.12,292.28 L97.43,293.32 L97.75,294.37 L98.07,295.43 L98.38,296.5 L98.7,297.58 L99.02,298.66 L99.33,299.75 L99.65,300.84 L99.97,301.93 L100.28,303.03 L100.6,304.12 L100.92,305.21 L101.23,306.31 L101.55,307.39 L101.87,308.48 L102.18,309.55 L102.5,310.62 L102.82,311.69 L103.14,312.74 L103.45,313.79 L103.77,314.82 L104.09,315.85 L104.4,316.86 L104.72,317.87 L105.04,318.85 L105.35,319.83 L105.67,320.79 L105.99,321.74 L106.3,322.67 L106.62,323.59 L106.94,324.49 L107.25,325.37 L107.57,326.24 L107.89,327.09 L108.2,327.92 L108.52,328.74 L108.84,329.53 L109.15,330.31 L109.47,331.07 L109.79,331.81 L110.1,332.54 L110.42,333.24 L110.74,333.93 L111.05,334.6 L111.37,335.25 L111.69,335.88 L112,336.5 L112.32,337.09 L112.64,337.67 L112.95,338.23 L113.27,338.78 L113.59,339.3 L113.9,339.81 L114.22,340.3 L114.54,340.78 L114.85,341.24 L115.17,341.68 L115.49,342.1 L115.8,342.52 L116.12,342.91 L116.44,343.29 L116.75,343.66 L117.07,344.01 L117.39,344.35 L117.71,344.68 L118.02,344.99 L118.34,345.29 L118.66,345.57 L118.97,345.85 L119.29,346.11 L119.61,346.36 L119.92,346.6 L120.24,346.83 L120.56,347.05 L120.87,347.26 L121.19,347.46 L121.51,347.65 L121.82,347.83 L122.14,348.01 L122.46,348.17 L122.77,348.33 L123.09,348.47 L123.41,348.62 L123.72,348.75 L124.04,348.88 L124.36,349 L124.67,349.11 L124.99,349.22 L125.31,349.33 L125.62,349.42 L125.94,349.52 L126.26,349.61 L126.57,349.69 L126.89,349.77 L127.21,349.84 L127.52,349.91 L127.84,349.98 L128.16,350.04 L128.47,350.1 L128.79,350.16 L129.11,350.21 L129.42,350.26 L129.74,350.31 L130.06,350.35 L130.37,350.39 L130.69,350.44 L131.01,350.47 L131.32,350.51 L131.64,350.54 L131.96,350.57 L132.28,350.61 L132.59,350.63 L132.91,350.66 L133.23,350.69 L133.54,350.71 L133.86,350.74 L134.18,350.76 L134.49,350.78 L134.81,350.8 L135.13,350.82 L135.44,350.84 L135.76,350.85 L136.08,350.87 L136.39,350.89 L136.71,350.9 L137.03,350.92 L137.34,350.93 L137.66,350.95 L137.98,350.96 L138.29,350.98 L138.61,350.99 L138.93,351 L139.24,351.01 L139.56,351.03 L139.88,351.04 L140.19,351.05 L140.51,351.06 L140.83,351.07 L141.14,351.08 L141.46,351.1 L141.78,351.11 L142.09,351.12 L142.41,351.13 L142.73,351.14 L143.04,351.15 L143.36,351.16 L143.68,351.17 L143.99,351.18 L144.31,351.2 L144.63,351.21 L144.94,351.22 L145.26,351.23 L145.58,351.24 L145.89,351.25 L146.21,351.26 L146.53,351.28 L146.85,351.29 L147.16,351.3 L147.48,351.31 L147.8,351.33 L148.11,351.34 L148.43,351.35 L148.75,351.36 L149.06,351.38 L149.38,351.39 L149.7,351.4 L150.01,351.42 L150.33,351.43 L150.65,351.44 L150.96,351.46 L151.28,351.47 L151.6,351.49 L151.91,351.5 L152.23,351.52 L152.55,351.53 L152.86,351.55 L153.18,351.57 L153.5,351.58 L153.81,351.6 L154.13,351.62 L154.45,351.64 L154.76,351.65 L155.08,351.67 L155.4,351.69 L155.71,351.71 L156.03,351.73 L156.35,351.75 L156.66,351.77 L156.98,351.79 L157.3,351.81 L157.61,351.83 L157.93,351.86 L158.25,351.88 L158.56,351.9 L158.88,351.93 L159.2,351.95 L159.51,351.98 L159.83,352 L160.15,352.03 L160.46,352.06 L160.78,352.08 L161.1,352.11 L161.42,352.14 L161.73,352.17 L162.05,352.2 L162.37,352.23 L162.68,352.26 L163,352.3 L163.32,352.33 L163.63,352.37 L163.95,352.4 L164.27,352.44 L164.58,352.47 L164.9,352.51 L165.22,352.55 L165.53,352.59 L165.85,352.63 L166.17,352.67 L166.48,352.72 L166.8,352.76 L167.12,352.81 L167.43,352.85 L167.75,352.9 L168.07,352.95 L168.38,352.99 L168.7,353.04 L169.02,353.1 L169.33,353.15 L169.65,353.2 L169.97,353.26 L170.28,353.31 L170.6,353.37 L170.92,353.42 L171.23,353.48 L171.55,353.54 L171.87,353.6 L172.18,353.66 L172.5,353.73 L172.82,353.79 L173.13,353.86 L173.45,353.92 L173.77,353.99 L174.08,354.06 L174.4,354.13 L174.72,354.2 L175.03,354.27 L175.35,354.34 L175.67,354.41 L175.98,354.49 L176.3,354.56 L176.62,354.64 L176.94,354.71 L177.25,354.79 L177.57,354.87 L177.89,354.95 L178.2,355.02 L178.52,355.1 L178.84,355.19 L179.15,355.27 L179.47,355.35 L179.79,355.43 L180.1,355.51 L180.42,355.6 L180.74,355.68 L181.05,355.77 L181.37,355.85 L181.69,355.93 L182,356.02 L182.32,356.11 L182.64,356.19 L182.95,356.28 L183.27,356.36 L183.59,356.45 L183.9,356.53 L184.22,356.62 L184.54,356.7 L184.85,356.79 L185.17,356.87 L185.49,356.96 L185.8,357.04 L186.12,357.13 L186.44,357.21 L186.75,357.3 L187.07,357.38 L187.39,357.46 L187.7,357.54 L188.02,357.63 L188.34,357.71 L188.65,357.79 L188.97,357.87 L189.29,357.94 L189.6,358.02 L189.92,358.1 L190.24,358.18 L190.55,358.25 L190.87,358.33 L191.19,358.4 L191.51,358.47 L191.82,358.54 L192.14,358.61 L192.46,358.68 L192.77,358.75 L193.09,358.82 L193.41,358.89 L193.72,358.95 L194.04,359.01 L194.36,359.08 L194.67,359.14 L194.99,359.2 L195.31,359.26 L195.62,359.32 L195.94,359.37 L196.26,359.43 L196.57,359.48 L196.89,359.54 L197.21,359.59 L197.52,359.64 L197.84,359.69 L198.16,359.74 L198.47,359.78 L198.79,359.83 L199.11,359.87 L199.42,359.92 L199.74,359.96 L200.06,360 L200.37,360.04 L200.69,360.08 L201.01,360.12 L201.32,360.15 L201.64,360.19 L201.96,360.22 L202.27,360.26 L202.59,360.29 L202.91,360.32 L203.22,360.35 L203.54,360.38 L203.86,360.41 L204.17,360.43 L204.49,360.46 L204.81,360.48 L205.12,360.51 L205.44,360.53 L205.76,360.55 L206.08,360.58 L206.39,360.6 L206.71,360.62 L207.03,360.63 L207.34,360.65 L207.66,360.67 L207.98,360.69 L208.29,360.7 L208.61,360.72 L208.93,360.73 L209.24,360.75 L209.56,360.76 L209.88,360.77 L210.19,360.79 L210.51,360.8 L210.83,360.81 L211.14,360.82 L211.46,360.83 L211.78,360.84 L212.09,360.85 L212.41,360.86 L212.73,360.87 L213.04,360.87 L213.36,360.88 L213.68,360.89 L213.99,360.89 L214.31,360.9 L214.63,360.91 L214.94,360.91 L215.26,360.92 L215.58,360.92 L215.89,360.93 L216.21,360.93 L216.53,360.94 L216.84,360.94 L217.16,360.94 L217.48,360.95 L217.79,360.95 L218.11,360.96 L218.43,360.96 L218.74,360.96 L219.06,360.96 L219.38,360.97 L219.69,360.97 L220.01,360.97 L220.33,360.97 L220.65,360.97 L220.96,360.98 L221.28,360.98 L221.6,360.98 L221.91,360.98 L222.23,360.98 L222.55,360.98 L222.86,360.98 L223.18,360.99 L223.5,360.99 L223.81,360.99 L224.13,360.99 L224.45,360.99 L224.76,360.99 L225.08,360.99 L225.4,360.99 L225.71,360.99 L226.03,360.99 L226.35,360.99 L226.66,360.99 L226.98,360.99 L227.3,361 L227.61,361 L227.93,361 L228.25,361 L228.56,361 L228.88,361 L229.2,361 L229.51,361 L229.83,361 L230.15,361 L230.46,361 L230.78,361 L231.1,361 L231.41,361 L231.73,361 L232.05,361 L232.36,361 L232.68,361 L233,361 L233.31,361 L233.63,361 L233.95,361 L234.26,361 L234.58,361 L234.9,361 L235.22,361 L235.53,361 L235.85,361 L236.17,361 L236.48,361 L236.8,361 L237.12,361 L237.43,361 L237.75,361 L238.07,361 L238.38,361 L238.7,361 L239.02,361 L239.33,361 L239.65,361 L239.97,361 L240.28,361 L240.6,361 L240.92,361 L241.23,361 L241.55,361 L241.87,361 L242.18,361 L242.5,361" fill="none" stroke="#3d85c6" stroke-width="2.2" stroke-dasharray="0.01 4.0" stroke-linejoin="round" stroke-linecap="round" stroke-dashoffset="2"/>
<path d="M21.1,343.4 L21.42,343.4 L21.73,343.4 L22.05,343.4 L22.37,343.41 L22.68,343.41 L23,343.41 L23.32,343.41 L23.63,343.41 L23.95,343.41 L24.27,343.42 L24.58,343.42 L24.9,343.42 L25.22,343.42 L25.53,343.42 L25.85,343.43 L26.17,343.43 L26.48,343.43 L26.8,343.43 L27.12,343.43 L27.43,343.44 L27.75,343.44 L28.07,343.44 L28.38,343.44 L28.7,343.45 L29.02,343.45 L29.34,343.45 L29.65,343.46 L29.97,343.46 L30.29,343.46 L30.6,343.46 L30.92,343.47 L31.24,343.47 L31.55,343.47 L31.87,343.48 L32.19,343.48 L32.5,343.48 L32.82,343.49 L33.14,343.49 L33.45,343.5 L33.77,343.5 L34.09,343.5 L34.4,343.51 L34.72,343.51 L35.04,343.52 L35.35,343.52 L35.67,343.52 L35.99,343.53 L36.3,343.53 L36.62,343.54 L36.94,343.54 L37.25,343.55 L37.57,343.55 L37.89,343.56 L38.2,343.56 L38.52,343.57 L38.84,343.57 L39.15,343.58 L39.47,343.58 L39.79,343.59 L40.1,343.59 L40.42,343.6 L40.74,343.6 L41.05,343.61 L41.37,343.62 L41.69,343.62 L42,343.63 L42.32,343.64 L42.64,343.64 L42.95,343.65 L43.27,343.65 L43.59,343.66 L43.91,343.67 L44.22,343.67 L44.54,343.68 L44.86,343.69 L45.17,343.7 L45.49,343.7 L45.81,343.71 L46.12,343.72 L46.44,343.73 L46.76,343.73 L47.07,343.74 L47.39,343.75 L47.71,343.76 L48.02,343.77 L48.34,343.77 L48.66,343.78 L48.97,343.79 L49.29,343.8 L49.61,343.81 L49.92,343.82 L50.24,343.83 L50.56,343.84 L50.87,343.85 L51.19,343.86 L51.51,343.86 L51.82,343.87 L52.14,343.88 L52.46,343.9 L52.77,343.91 L53.09,343.92 L53.41,343.93 L53.72,343.94 L54.04,343.95 L54.36,343.96 L54.67,343.97 L54.99,343.98 L55.31,344 L55.62,344.01 L55.94,344.02 L56.26,344.03 L56.57,344.05 L56.89,344.06 L57.21,344.07 L57.52,344.09 L57.84,344.1 L58.16,344.12 L58.48,344.13 L58.79,344.14 L59.11,344.16 L59.43,344.18 L59.74,344.19 L60.06,344.21 L60.38,344.22 L60.69,344.24 L61.01,344.26 L61.33,344.28 L61.64,344.29 L61.96,344.31 L62.28,344.33 L62.59,344.35 L62.91,344.37 L63.23,344.39 L63.54,344.41 L63.86,344.43 L64.18,344.46 L64.49,344.48 L64.81,344.5 L65.13,344.52 L65.44,344.55 L65.76,344.57 L66.08,344.6 L66.39,344.62 L66.71,344.65 L67.03,344.68 L67.34,344.7 L67.66,344.73 L67.98,344.76 L68.29,344.79 L68.61,344.82 L68.93,344.85 L69.24,344.88 L69.56,344.91 L69.88,344.95 L70.19,344.98 L70.51,345.01 L70.83,345.05 L71.14,345.08 L71.46,345.12 L71.78,345.16 L72.09,345.19 L72.41,345.23 L72.73,345.27 L73.05,345.31 L73.36,345.35 L73.68,345.39 L74,345.43 L74.31,345.48 L74.63,345.52 L74.95,345.56 L75.26,345.61 L75.58,345.65 L75.9,345.7 L76.21,345.74 L76.53,345.79 L76.85,345.84 L77.16,345.89 L77.48,345.94 L77.8,345.99 L78.11,346.04 L78.43,346.09 L78.75,346.14 L79.06,346.19 L79.38,346.24 L79.7,346.3 L80.01,346.35 L80.33,346.41 L80.65,346.46 L80.96,346.52 L81.28,346.57 L81.6,346.63 L81.91,346.68 L82.23,346.74 L82.55,346.8 L82.86,346.86 L83.18,346.91 L83.5,346.97 L83.81,347.03 L84.13,347.09 L84.45,347.15 L84.76,347.2 L85.08,347.26 L85.4,347.32 L85.71,347.38 L86.03,347.44 L86.35,347.5 L86.66,347.56 L86.98,347.62 L87.3,347.68 L87.62,347.74 L87.93,347.8 L88.25,347.85 L88.57,347.91 L88.88,347.97 L89.2,348.03 L89.52,348.09 L89.83,348.14 L90.15,348.2 L90.47,348.26 L90.78,348.31 L91.1,348.37 L91.42,348.43 L91.73,348.48 L92.05,348.54 L92.37,348.59 L92.68,348.64 L93,348.7 L93.32,348.75 L93.63,348.8 L93.95,348.85 L94.27,348.9 L94.58,348.95 L94.9,349 L95.22,349.05 L95.53,349.1 L95.85,349.15 L96.17,349.19 L96.48,349.24 L96.8,349.28 L97.12,349.33 L97.43,349.37 L97.75,349.41 L98.07,349.46 L98.38,349.5 L98.7,349.54 L99.02,349.58 L99.33,349.62 L99.65,349.66 L99.97,349.69 L100.28,349.73 L100.6,349.76 L100.92,349.8 L101.23,349.83 L101.55,349.87 L101.87,349.9 L102.18,349.93 L102.5,349.96 L102.82,349.99 L103.14,350.02 L103.45,350.05 L103.77,350.08 L104.09,350.1 L104.4,350.13 L104.72,350.16 L105.04,350.18 L105.35,350.2 L105.67,350.23 L105.99,350.25 L106.3,350.27 L106.62,350.29 L106.94,350.31 L107.25,350.33 L107.57,350.35 L107.89,350.37 L108.2,350.39 L108.52,350.41 L108.84,350.42 L109.15,350.44 L109.47,350.46 L109.79,350.47 L110.1,350.49 L110.42,350.5 L110.74,350.51 L111.05,350.53 L111.37,350.54 L111.69,350.55 L112,350.56 L112.32,350.58 L112.64,350.59 L112.95,350.6 L113.27,350.61 L113.59,350.62 L113.9,350.63 L114.22,350.63 L114.54,350.64 L114.85,350.65 L115.17,350.66 L115.49,350.67 L115.8,350.68 L116.12,350.68 L116.44,350.69 L116.75,350.7 L117.07,350.7 L117.39,350.71 L117.71,350.72 L118.02,350.72 L118.34,350.73 L118.66,350.73 L118.97,350.74 L119.29,350.74 L119.61,350.75 L119.92,350.75 L120.24,350.76 L120.56,350.76 L120.87,350.77 L121.19,350.77 L121.51,350.78 L121.82,350.78 L122.14,350.78 L122.46,350.79 L122.77,350.79 L123.09,350.8 L123.41,350.8 L123.72,350.8 L124.04,350.81 L124.36,350.81 L124.67,350.81 L124.99,350.82 L125.31,350.82 L125.62,350.82 L125.94,350.83 L126.26,350.83 L126.57,350.83 L126.89,350.84 L127.21,350.84 L127.52,350.84 L127.84,350.85 L128.16,350.85 L128.47,350.85 L128.79,350.85 L129.11,350.86 L129.42,350.86 L129.74,350.86 L130.06,350.86 L130.37,350.86 L130.69,350.87 L131.01,350.87 L131.32,350.87 L131.64,350.87 L131.96,350.87 L132.28,350.87 L132.59,350.87 L132.91,350.87 L133.23,350.87 L133.54,350.87 L133.86,350.87 L134.18,350.86 L134.49,350.86 L134.81,350.86 L135.13,350.85 L135.44,350.85 L135.76,350.84 L136.08,350.83 L136.39,350.83 L136.71,350.82 L137.03,350.81 L137.34,350.8 L137.66,350.78 L137.98,350.77 L138.29,350.75 L138.61,350.74 L138.93,350.72 L139.24,350.7 L139.56,350.67 L139.88,350.65 L140.19,350.62 L140.51,350.59 L140.83,350.56 L141.14,350.52 L141.46,350.48 L141.78,350.44 L142.09,350.39 L142.41,350.34 L142.73,350.29 L143.04,350.23 L143.36,350.17 L143.68,350.11 L143.99,350.03 L144.31,349.96 L144.63,349.88 L144.94,349.79 L145.26,349.69 L145.58,349.59 L145.89,349.49 L146.21,349.37 L146.53,349.25 L146.85,349.12 L147.16,348.98 L147.48,348.83 L147.8,348.68 L148.11,348.51 L148.43,348.33 L148.75,348.15 L149.06,347.95 L149.38,347.74 L149.7,347.52 L150.01,347.29 L150.33,347.04 L150.65,346.78 L150.96,346.51 L151.28,346.22 L151.6,345.92 L151.91,345.6 L152.23,345.27 L152.55,344.92 L152.86,344.55 L153.18,344.16 L153.5,343.76 L153.81,343.34 L154.13,342.9 L154.45,342.43 L154.76,341.95 L155.08,341.45 L155.4,340.92 L155.71,340.38 L156.03,339.81 L156.35,339.22 L156.66,338.6 L156.98,337.96 L157.3,337.3 L157.61,336.61 L157.93,335.89 L158.25,335.15 L158.56,334.39 L158.88,333.6 L159.2,332.78 L159.51,331.93 L159.83,331.06 L160.15,330.16 L160.46,329.24 L160.78,328.29 L161.1,327.31 L161.42,326.3 L161.73,325.26 L162.05,324.2 L162.37,323.11 L162.68,322 L163,320.86 L163.32,319.69 L163.63,318.49 L163.95,317.27 L164.27,316.03 L164.58,314.76 L164.9,313.47 L165.22,312.16 L165.53,310.82 L165.85,309.46 L166.17,308.08 L166.48,306.68 L166.8,305.27 L167.12,303.83 L167.43,302.38 L167.75,300.92 L168.07,299.44 L168.38,297.95 L168.7,296.45 L169.02,294.94 L169.33,293.42 L169.65,291.89 L169.97,290.36 L170.28,288.83 L170.6,287.29 L170.92,285.76 L171.23,284.23 L171.55,282.7 L171.87,281.18 L172.18,279.67 L172.5,278.16 L172.82,276.67 L173.13,275.2 L173.45,273.73 L173.77,272.29 L174.08,270.87 L174.4,269.47 L174.72,268.09 L175.03,266.74 L175.35,265.42 L175.67,264.13 L175.98,262.87 L176.3,261.64 L176.62,260.46 L176.94,259.3 L177.25,258.19 L177.57,257.13 L177.89,256.1 L178.2,255.12 L178.52,254.19 L178.84,253.3 L179.15,252.47 L179.47,251.69 L179.79,250.96 L180.1,250.29 L180.42,249.67 L180.74,249.1 L181.05,248.6 L181.37,248.15 L181.69,247.77 L182,247.44 L182.32,247.17 L182.64,246.97 L182.95,246.83 L183.27,246.75 L183.59,246.73 L183.9,246.77 L184.22,246.88 L184.54,247.05 L184.85,247.28 L185.17,247.58 L185.49,247.94 L185.8,248.35 L186.12,248.83 L186.44,249.37 L186.75,249.97 L187.07,250.62 L187.39,251.33 L187.7,252.1 L188.02,252.93 L188.34,253.8 L188.65,254.73 L188.97,255.71 L189.29,256.74 L189.6,257.82 L189.92,258.94 L190.24,260.11 L190.55,261.31 L190.87,262.56 L191.19,263.85 L191.51,265.18 L191.82,266.54 L192.14,267.93 L192.46,269.36 L192.77,270.81 L193.09,272.29 L193.41,273.8 L193.72,275.33 L194.04,276.88 L194.36,278.44 L194.67,280.03 L194.99,281.63 L195.31,283.24 L195.62,284.86 L195.94,286.49 L196.26,288.12 L196.57,289.76 L196.89,291.4 L197.21,293.05 L197.52,294.69 L197.84,296.33 L198.16,297.96 L198.47,299.59 L198.79,301.21 L199.11,302.82 L199.42,304.42 L199.74,306 L200.06,307.57 L200.37,309.13 L200.69,310.67 L201.01,312.19 L201.32,313.69 L201.64,315.17 L201.96,316.64 L202.27,318.07 L202.59,319.49 L202.91,320.88 L203.22,322.25 L203.54,323.59 L203.86,324.9 L204.17,326.19 L204.49,327.46 L204.81,328.69 L205.12,329.9 L205.44,331.08 L205.76,332.23 L206.08,333.35 L206.39,334.44 L206.71,335.51 L207.03,336.54 L207.34,337.55 L207.66,338.53 L207.98,339.48 L208.29,340.4 L208.61,341.29 L208.93,342.16 L209.24,343 L209.56,343.81 L209.88,344.59 L210.19,345.35 L210.51,346.08 L210.83,346.78 L211.14,347.46 L211.46,348.11 L211.78,348.74 L212.09,349.35 L212.41,349.93 L212.73,350.49 L213.04,351.02 L213.36,351.54 L213.68,352.03 L213.99,352.5 L214.31,352.95 L214.63,353.38 L214.94,353.8 L215.26,354.19 L215.58,354.57 L215.89,354.93 L216.21,355.27 L216.53,355.59 L216.84,355.9 L217.16,356.2 L217.48,356.48 L217.79,356.75 L218.11,357 L218.43,357.24 L218.74,357.47 L219.06,357.69 L219.38,357.89 L219.69,358.08 L220.01,358.27 L220.33,358.44 L220.65,358.6 L220.96,358.76 L221.28,358.9 L221.6,359.04 L221.91,359.17 L222.23,359.29 L222.55,359.41 L222.86,359.51 L223.18,359.62 L223.5,359.71 L223.81,359.8 L224.13,359.88 L224.45,359.96 L224.76,360.04 L225.08,360.1 L225.4,360.17 L225.71,360.23 L226.03,360.28 L226.35,360.34 L226.66,360.39 L226.98,360.43 L227.3,360.47 L227.61,360.51 L227.93,360.55 L228.25,360.59 L228.56,360.62 L228.88,360.65 L229.2,360.67 L229.51,360.7 L229.83,360.72 L230.15,360.75 L230.46,360.77 L230.78,360.79 L231.1,360.8 L231.41,360.82 L231.73,360.83 L232.05,360.85 L232.36,360.86 L232.68,360.87 L233,360.88 L233.31,360.89 L233.63,360.9 L233.95,360.91 L234.26,360.92 L234.58,360.93 L234.9,360.93 L235.22,360.94 L235.53,360.94 L235.85,360.95 L236.17,360.95 L236.48,360.96 L236.8,360.96 L237.12,360.96 L237.43,360.97 L237.75,360.97 L238.07,360.97 L238.38,360.98 L238.7,360.98 L239.02,360.98 L239.33,360.98 L239.65,360.98 L239.97,360.99 L240.28,360.99 L240.6,360.99 L240.92,360.99 L241.23,360.99 L241.55,360.99 L241.87,360.99 L242.18,360.99 L242.5,360.99" fill="none" stroke="#3d85c6" stroke-width="2.2" stroke-dasharray="0.01 4.0" stroke-linejoin="round" stroke-linecap="round" stroke-dashoffset="2"/>
<path d="M21.1,341.57 L21.42,341.52 L21.73,341.46 L22.05,341.4 L22.37,341.34 L22.68,341.28 L23,341.21 L23.32,341.15 L23.63,341.08 L23.95,341.01 L24.27,340.95 L24.58,340.88 L24.9,340.8 L25.22,340.73 L25.53,340.66 L25.85,340.58 L26.17,340.51 L26.48,340.43 L26.8,340.35 L27.12,340.27 L27.43,340.19 L27.75,340.11 L28.07,340.02 L28.38,339.94 L28.7,339.85 L29.02,339.76 L29.34,339.68 L29.65,339.59 L29.97,339.5 L30.29,339.41 L30.6,339.31 L30.92,339.22 L31.24,339.12 L31.55,339.03 L31.87,338.93 L32.19,338.84 L32.5,338.74 L32.82,338.64 L33.14,338.54 L33.45,338.44 L33.77,338.34 L34.09,338.24 L34.4,338.14 L34.72,338.03 L35.04,337.93 L35.35,337.83 L35.67,337.73 L35.99,337.62 L36.3,337.52 L36.62,337.41 L36.94,337.31 L37.25,337.21 L37.57,337.1 L37.89,337 L38.2,336.89 L38.52,336.79 L38.84,336.69 L39.15,336.58 L39.47,336.48 L39.79,336.38 L40.1,336.28 L40.42,336.17 L40.74,336.07 L41.05,335.97 L41.37,335.88 L41.69,335.78 L42,335.68 L42.32,335.58 L42.64,335.49 L42.95,335.39 L43.27,335.3 L43.59,335.21 L43.91,335.12 L44.22,335.03 L44.54,334.94 L44.86,334.86 L45.17,334.78 L45.49,334.69 L45.81,334.61 L46.12,334.53 L46.44,334.46 L46.76,334.38 L47.07,334.31 L47.39,334.24 L47.71,334.17 L48.02,334.11 L48.34,334.04 L48.66,333.98 L48.97,333.92 L49.29,333.87 L49.61,333.81 L49.92,333.76 L50.24,333.71 L50.56,333.67 L50.87,333.62 L51.19,333.58 L51.51,333.54 L51.82,333.51 L52.14,333.48 L52.46,333.45 L52.77,333.42 L53.09,333.4 L53.41,333.38 L53.72,333.36 L54.04,333.35 L54.36,333.34 L54.67,333.33 L54.99,333.33 L55.31,333.33 L55.62,333.33 L55.94,333.34 L56.26,333.34 L56.57,333.36 L56.89,333.37 L57.21,333.39 L57.52,333.41 L57.84,333.44 L58.16,333.47 L58.48,333.5 L58.79,333.53 L59.11,333.57 L59.43,333.61 L59.74,333.66 L60.06,333.71 L60.38,333.76 L60.69,333.81 L61.01,333.87 L61.33,333.93 L61.64,334 L61.96,334.06 L62.28,334.13 L62.59,334.21 L62.91,334.28 L63.23,334.36 L63.54,334.45 L63.86,334.53 L64.18,334.62 L64.49,334.71 L64.81,334.8 L65.13,334.9 L65.44,335 L65.76,335.1 L66.08,335.21 L66.39,335.31 L66.71,335.42 L67.03,335.53 L67.34,335.65 L67.66,335.76 L67.98,335.88 L68.29,336 L68.61,336.13 L68.93,336.25 L69.24,336.38 L69.56,336.51 L69.88,336.64 L70.19,336.77 L70.51,336.91 L70.83,337.04 L71.14,337.18 L71.46,337.32 L71.78,337.46 L72.09,337.61 L72.41,337.75 L72.73,337.9 L73.05,338.04 L73.36,338.19 L73.68,338.34 L74,338.49 L74.31,338.64 L74.63,338.79 L74.95,338.95 L75.26,339.1 L75.58,339.25 L75.9,339.41 L76.21,339.56 L76.53,339.72 L76.85,339.88 L77.16,340.03 L77.48,340.19 L77.8,340.35 L78.11,340.5 L78.43,340.66 L78.75,340.82 L79.06,340.98 L79.38,341.13 L79.7,341.29 L80.01,341.45 L80.33,341.61 L80.65,341.76 L80.96,341.92 L81.28,342.07 L81.6,342.23 L81.91,342.38 L82.23,342.54 L82.55,342.69 L82.86,342.84 L83.18,343 L83.5,343.15 L83.81,343.3 L84.13,343.44 L84.45,343.59 L84.76,343.74 L85.08,343.89 L85.4,344.03 L85.71,344.17 L86.03,344.32 L86.35,344.46 L86.66,344.6 L86.98,344.73 L87.3,344.87 L87.62,345.01 L87.93,345.14 L88.25,345.27 L88.57,345.4 L88.88,345.53 L89.2,345.66 L89.52,345.79 L89.83,345.91 L90.15,346.04 L90.47,346.16 L90.78,346.28 L91.1,346.39 L91.42,346.51 L91.73,346.62 L92.05,346.74 L92.37,346.85 L92.68,346.96 L93,347.06 L93.32,347.17 L93.63,347.27 L93.95,347.37 L94.27,347.47 L94.58,347.57 L94.9,347.67 L95.22,347.76 L95.53,347.85 L95.85,347.94 L96.17,348.03 L96.48,348.12 L96.8,348.2 L97.12,348.28 L97.43,348.37 L97.75,348.44 L98.07,348.52 L98.38,348.6 L98.7,348.67 L99.02,348.74 L99.33,348.81 L99.65,348.88 L99.97,348.95 L100.28,349.01 L100.6,349.08 L100.92,349.14 L101.23,349.2 L101.55,349.26 L101.87,349.31 L102.18,349.37 L102.5,349.42 L102.82,349.47 L103.14,349.52 L103.45,349.57 L103.77,349.62 L104.09,349.67 L104.4,349.71 L104.72,349.75 L105.04,349.79 L105.35,349.84 L105.67,349.87 L105.99,349.91 L106.3,349.95 L106.62,349.98 L106.94,350.02 L107.25,350.05 L107.57,350.08 L107.89,350.11 L108.2,350.14 L108.52,350.17 L108.84,350.2 L109.15,350.23 L109.47,350.25 L109.79,350.28 L110.1,350.3 L110.42,350.32 L110.74,350.35 L111.05,350.37 L111.37,350.39 L111.69,350.41 L112,350.42 L112.32,350.44 L112.64,350.46 L112.95,350.48 L113.27,350.49 L113.59,350.51 L113.9,350.52 L114.22,350.54 L114.54,350.55 L114.85,350.56 L115.17,350.58 L115.49,350.59 L115.8,350.6 L116.12,350.61 L116.44,350.62 L116.75,350.63 L117.07,350.64 L117.39,350.65 L117.71,350.66 L118.02,350.67 L118.34,350.68 L118.66,350.69 L118.97,350.69 L119.29,350.7 L119.61,350.71 L119.92,350.72 L120.24,350.72 L120.56,350.73 L120.87,350.74 L121.19,350.74 L121.51,350.75 L121.82,350.76 L122.14,350.76 L122.46,350.77 L122.77,350.77 L123.09,350.78 L123.41,350.78 L123.72,350.79 L124.04,350.79 L124.36,350.8 L124.67,350.8 L124.99,350.81 L125.31,350.81 L125.62,350.82 L125.94,350.82 L126.26,350.83 L126.57,350.83 L126.89,350.84 L127.21,350.84 L127.52,350.85 L127.84,350.85 L128.16,350.86 L128.47,350.86 L128.79,350.87 L129.11,350.87 L129.42,350.88 L129.74,350.88 L130.06,350.89 L130.37,350.89 L130.69,350.9 L131.01,350.9 L131.32,350.91 L131.64,350.91 L131.96,350.92 L132.28,350.92 L132.59,350.93 L132.91,350.93 L133.23,350.94 L133.54,350.94 L133.86,350.95 L134.18,350.96 L134.49,350.96 L134.81,350.97 L135.13,350.97 L135.44,350.98 L135.76,350.99 L136.08,350.99 L136.39,351 L136.71,351.01 L137.03,351.01 L137.34,351.02 L137.66,351.03 L137.98,351.04 L138.29,351.04 L138.61,351.05 L138.93,351.06 L139.24,351.07 L139.56,351.07 L139.88,351.08 L140.19,351.09 L140.51,351.1 L140.83,351.11 L141.14,351.11 L141.46,351.12 L141.78,351.13 L142.09,351.14 L142.41,351.15 L142.73,351.16 L143.04,351.17 L143.36,351.18 L143.68,351.19 L143.99,351.2 L144.31,351.21 L144.63,351.22 L144.94,351.23 L145.26,351.24 L145.58,351.25 L145.89,351.26 L146.21,351.27 L146.53,351.28 L146.85,351.29 L147.16,351.31 L147.48,351.32 L147.8,351.33 L148.11,351.34 L148.43,351.35 L148.75,351.37 L149.06,351.38 L149.38,351.39 L149.7,351.41 L150.01,351.42 L150.33,351.43 L150.65,351.45 L150.96,351.46 L151.28,351.47 L151.6,351.49 L151.91,351.5 L152.23,351.52 L152.55,351.54 L152.86,351.55 L153.18,351.57 L153.5,351.58 L153.81,351.6 L154.13,351.62 L154.45,351.64 L154.76,351.65 L155.08,351.67 L155.4,351.69 L155.71,351.71 L156.03,351.73 L156.35,351.75 L156.66,351.77 L156.98,351.79 L157.3,351.81 L157.61,351.83 L157.93,351.86 L158.25,351.88 L158.56,351.9 L158.88,351.93 L159.2,351.95 L159.51,351.98 L159.83,352 L160.15,352.03 L160.46,352.06 L160.78,352.08 L161.1,352.11 L161.42,352.14 L161.73,352.17 L162.05,352.2 L162.37,352.23 L162.68,352.26 L163,352.3 L163.32,352.33 L163.63,352.37 L163.95,352.4 L164.27,352.44 L164.58,352.47 L164.9,352.51 L165.22,352.55 L165.53,352.59 L165.85,352.63 L166.17,352.67 L166.48,352.72 L166.8,352.76 L167.12,352.81 L167.43,352.85 L167.75,352.9 L168.07,352.95 L168.38,352.99 L168.7,353.04 L169.02,353.1 L169.33,353.15 L169.65,353.2 L169.97,353.26 L170.28,353.31 L170.6,353.37 L170.92,353.42 L171.23,353.48 L171.55,353.54 L171.87,353.6 L172.18,353.66 L172.5,353.73 L172.82,353.79 L173.13,353.86 L173.45,353.92 L173.77,353.99 L174.08,354.06 L174.4,354.13 L174.72,354.2 L175.03,354.27 L175.35,354.34 L175.67,354.41 L175.98,354.49 L176.3,354.56 L176.62,354.64 L176.94,354.71 L177.25,354.79 L177.57,354.87 L177.89,354.95 L178.2,355.02 L178.52,355.1 L178.84,355.19 L179.15,355.27 L179.47,355.35 L179.79,355.43 L180.1,355.51 L180.42,355.6 L180.74,355.68 L181.05,355.77 L181.37,355.85 L181.69,355.93 L182,356.02 L182.32,356.11 L182.64,356.19 L182.95,356.28 L183.27,356.36 L183.59,356.45 L183.9,356.53 L184.22,356.62 L184.54,356.7 L184.85,356.79 L185.17,356.87 L185.49,356.96 L185.8,357.04 L186.12,357.13 L186.44,357.21 L186.75,357.3 L187.07,357.38 L187.39,357.46 L187.7,357.54 L188.02,357.63 L188.34,357.71 L188.65,357.79 L188.97,357.87 L189.29,357.94 L189.6,358.02 L189.92,358.1 L190.24,358.18 L190.55,358.25 L190.87,358.33 L191.19,358.4 L191.51,358.47 L191.82,358.54 L192.14,358.61 L192.46,358.68 L192.77,358.75 L193.09,358.82 L193.41,358.89 L193.72,358.95 L194.04,359.01 L194.36,359.08 L194.67,359.14 L194.99,359.2 L195.31,359.26 L195.62,359.32 L195.94,359.37 L196.26,359.43 L196.57,359.48 L196.89,359.54 L197.21,359.59 L197.52,359.64 L197.84,359.69 L198.16,359.74 L198.47,359.78 L198.79,359.83 L199.11,359.87 L199.42,359.92 L199.74,359.96 L200.06,360 L200.37,360.04 L200.69,360.08 L201.01,360.12 L201.32,360.15 L201.64,360.19 L201.96,360.22 L202.27,360.26 L202.59,360.29 L202.91,360.32 L203.22,360.35 L203.54,360.38 L203.86,360.41 L204.17,360.43 L204.49,360.46 L204.81,360.48 L205.12,360.51 L205.44,360.53 L205.76,360.55 L206.08,360.58 L206.39,360.6 L206.71,360.62 L207.03,360.63 L207.34,360.65 L207.66,360.67 L207.98,360.69 L208.29,360.7 L208.61,360.72 L208.93,360.73 L209.24,360.75 L209.56,360.76 L209.88,360.77 L210.19,360.79 L210.51,360.8 L210.83,360.81 L211.14,360.82 L211.46,360.83 L211.78,360.84 L212.09,360.85 L212.41,360.86 L212.73,360.87 L213.04,360.87 L213.36,360.88 L213.68,360.89 L213.99,360.89 L214.31,360.9 L214.63,360.91 L214.94,360.91 L215.26,360.92 L215.58,360.92 L215.89,360.93 L216.21,360.93 L216.53,360.94 L216.84,360.94 L217.16,360.94 L217.48,360.95 L217.79,360.95 L218.11,360.96 L218.43,360.96 L218.74,360.96 L219.06,360.96 L219.38,360.97 L219.69,360.97 L220.01,360.97 L220.33,360.97 L220.65,360.97 L220.96,360.98 L221.28,360.98 L221.6,360.98 L221.91,360.98 L222.23,360.98 L222.55,360.98 L222.86,360.98 L223.18,360.99 L223.5,360.99 L223.81,360.99 L224.13,360.99 L224.45,360.99 L224.76,360.99 L225.08,360.99 L225.4,360.99 L225.71,360.99 L226.03,360.99 L226.35,360.99 L226.66,360.99 L226.98,360.99 L227.3,361 L227.61,361 L227.93,361 L228.25,361 L228.56,361 L228.88,361 L229.2,361 L229.51,361 L229.83,361 L230.15,361 L230.46,361 L230.78,361 L231.1,361 L231.41,361 L231.73,361 L232.05,361 L232.36,361 L232.68,361 L233,361 L233.31,361 L233.63,361 L233.95,361 L234.26,361 L234.58,361 L234.9,361 L235.22,361 L235.53,361 L235.85,361 L236.17,361 L236.48,361 L236.8,361 L237.12,361 L237.43,361 L237.75,361 L238.07,361 L238.38,361 L238.7,361 L239.02,361 L239.33,361 L239.65,361 L239.97,361 L240.28,361 L240.6,361 L240.92,361 L241.23,361 L241.55,361 L241.87,361 L242.18,361 L242.5,361" fill="none" stroke="#c00000" stroke-width="2.2" stroke-dasharray="0.01 4.0" stroke-linejoin="round" stroke-linecap="round"/>
<path d="M21.1,343.4 L21.42,343.4 L21.73,343.4 L22.05,343.4 L22.37,343.41 L22.68,343.41 L23,343.41 L23.32,343.41 L23.63,343.41 L23.95,343.41 L24.27,343.42 L24.58,343.42 L24.9,343.42 L25.22,343.42 L25.53,343.42 L25.85,343.43 L26.17,343.43 L26.48,343.43 L26.8,343.43 L27.12,343.43 L27.43,343.44 L27.75,343.44 L28.07,343.44 L28.38,343.44 L28.7,343.45 L29.02,343.45 L29.34,343.45 L29.65,343.46 L29.97,343.46 L30.29,343.46 L30.6,343.46 L30.92,343.47 L31.24,343.47 L31.55,343.47 L31.87,343.48 L32.19,343.48 L32.5,343.48 L32.82,343.49 L33.14,343.49 L33.45,343.5 L33.77,343.5 L34.09,343.5 L34.4,343.51 L34.72,343.51 L35.04,343.52 L35.35,343.52 L35.67,343.52 L35.99,343.53 L36.3,343.53 L36.62,343.54 L36.94,343.54 L37.25,343.55 L37.57,343.55 L37.89,343.56 L38.2,343.56 L38.52,343.57 L38.84,343.57 L39.15,343.58 L39.47,343.58 L39.79,343.59 L40.1,343.59 L40.42,343.6 L40.74,343.6 L41.05,343.61 L41.37,343.62 L41.69,343.62 L42,343.63 L42.32,343.64 L42.64,343.64 L42.95,343.65 L43.27,343.65 L43.59,343.66 L43.91,343.67 L44.22,343.67 L44.54,343.68 L44.86,343.69 L45.17,343.7 L45.49,343.7 L45.81,343.71 L46.12,343.72 L46.44,343.73 L46.76,343.73 L47.07,343.74 L47.39,343.75 L47.71,343.76 L48.02,343.77 L48.34,343.77 L48.66,343.78 L48.97,343.79 L49.29,343.8 L49.61,343.81 L49.92,343.82 L50.24,343.83 L50.56,343.84 L50.87,343.85 L51.19,343.86 L51.51,343.86 L51.82,343.87 L52.14,343.88 L52.46,343.9 L52.77,343.91 L53.09,343.92 L53.41,343.93 L53.72,343.94 L54.04,343.95 L54.36,343.96 L54.67,343.97 L54.99,343.98 L55.31,344 L55.62,344.01 L55.94,344.02 L56.26,344.03 L56.57,344.05 L56.89,344.06 L57.21,344.07 L57.52,344.09 L57.84,344.1 L58.16,344.12 L58.48,344.13 L58.79,344.14 L59.11,344.16 L59.43,344.18 L59.74,344.19 L60.06,344.21 L60.38,344.22 L60.69,344.24 L61.01,344.26 L61.33,344.28 L61.64,344.29 L61.96,344.31 L62.28,344.33 L62.59,344.35 L62.91,344.37 L63.23,344.39 L63.54,344.41 L63.86,344.43 L64.18,344.46 L64.49,344.48 L64.81,344.5 L65.13,344.52 L65.44,344.55 L65.76,344.57 L66.08,344.6 L66.39,344.62 L66.71,344.65 L67.03,344.68 L67.34,344.7 L67.66,344.73 L67.98,344.76 L68.29,344.79 L68.61,344.82 L68.93,344.85 L69.24,344.88 L69.56,344.91 L69.88,344.95 L70.19,344.98 L70.51,345.01 L70.83,345.05 L71.14,345.08 L71.46,345.12 L71.78,345.16 L72.09,345.19 L72.41,345.23 L72.73,345.27 L73.05,345.31 L73.36,345.35 L73.68,345.39 L74,345.43 L74.31,345.47 L74.63,345.52 L74.95,345.56 L75.26,345.61 L75.58,345.65 L75.9,345.7 L76.21,345.74 L76.53,345.79 L76.85,345.84 L77.16,345.89 L77.48,345.93 L77.8,345.98 L78.11,346.03 L78.43,346.09 L78.75,346.14 L79.06,346.19 L79.38,346.24 L79.7,346.29 L80.01,346.35 L80.33,346.4 L80.65,346.46 L80.96,346.51 L81.28,346.57 L81.6,346.62 L81.91,346.68 L82.23,346.73 L82.55,346.79 L82.86,346.85 L83.18,346.91 L83.5,346.96 L83.81,347.02 L84.13,347.08 L84.45,347.14 L84.76,347.2 L85.08,347.25 L85.4,347.31 L85.71,347.37 L86.03,347.43 L86.35,347.49 L86.66,347.55 L86.98,347.6 L87.3,347.66 L87.62,347.72 L87.93,347.78 L88.25,347.83 L88.57,347.89 L88.88,347.95 L89.2,348.01 L89.52,348.06 L89.83,348.12 L90.15,348.17 L90.47,348.23 L90.78,348.28 L91.1,348.34 L91.42,348.39 L91.73,348.44 L92.05,348.5 L92.37,348.55 L92.68,348.6 L93,348.65 L93.32,348.7 L93.63,348.75 L93.95,348.8 L94.27,348.84 L94.58,348.89 L94.9,348.94 L95.22,348.98 L95.53,349.02 L95.85,349.07 L96.17,349.11 L96.48,349.15 L96.8,349.19 L97.12,349.23 L97.43,349.27 L97.75,349.3 L98.07,349.34 L98.38,349.38 L98.7,349.41 L99.02,349.44 L99.33,349.47 L99.65,349.5 L99.97,349.53 L100.28,349.56 L100.6,349.59 L100.92,349.61 L101.23,349.64 L101.55,349.66 L101.87,349.68 L102.18,349.7 L102.5,349.72 L102.82,349.74 L103.14,349.76 L103.45,349.77 L103.77,349.79 L104.09,349.8 L104.4,349.81 L104.72,349.82 L105.04,349.83 L105.35,349.84 L105.67,349.84 L105.99,349.85 L106.3,349.85 L106.62,349.85 L106.94,349.85 L107.25,349.85 L107.57,349.85 L107.89,349.84 L108.2,349.84 L108.52,349.83 L108.84,349.82 L109.15,349.81 L109.47,349.8 L109.79,349.79 L110.1,349.77 L110.42,349.75 L110.74,349.74 L111.05,349.72 L111.37,349.7 L111.69,349.67 L112,349.65 L112.32,349.62 L112.64,349.59 L112.95,349.56 L113.27,349.53 L113.59,349.5 L113.9,349.46 L114.22,349.43 L114.54,349.39 L114.85,349.35 L115.17,349.31 L115.49,349.26 L115.8,349.22 L116.12,349.17 L116.44,349.12 L116.75,349.07 L117.07,349.02 L117.39,348.96 L117.71,348.91 L118.02,348.85 L118.34,348.79 L118.66,348.72 L118.97,348.66 L119.29,348.59 L119.61,348.53 L119.92,348.46 L120.24,348.38 L120.56,348.31 L120.87,348.23 L121.19,348.16 L121.51,348.08 L121.82,347.99 L122.14,347.91 L122.46,347.82 L122.77,347.74 L123.09,347.65 L123.41,347.55 L123.72,347.46 L124.04,347.36 L124.36,347.27 L124.67,347.17 L124.99,347.06 L125.31,346.96 L125.62,346.85 L125.94,346.75 L126.26,346.64 L126.57,346.53 L126.89,346.41 L127.21,346.3 L127.52,346.18 L127.84,346.06 L128.16,345.94 L128.47,345.82 L128.79,345.7 L129.11,345.57 L129.42,345.45 L129.74,345.32 L130.06,345.19 L130.37,345.06 L130.69,344.93 L131.01,344.79 L131.32,344.66 L131.64,344.52 L131.96,344.38 L132.28,344.25 L132.59,344.11 L132.91,343.97 L133.23,343.82 L133.54,343.68 L133.86,343.54 L134.18,343.39 L134.49,343.25 L134.81,343.11 L135.13,342.96 L135.44,342.81 L135.76,342.67 L136.08,342.52 L136.39,342.37 L136.71,342.23 L137.03,342.08 L137.34,341.93 L137.66,341.79 L137.98,341.64 L138.29,341.5 L138.61,341.35 L138.93,341.21 L139.24,341.06 L139.56,340.92 L139.88,340.78 L140.19,340.63 L140.51,340.49 L140.83,340.36 L141.14,340.22 L141.46,340.08 L141.78,339.95 L142.09,339.81 L142.41,339.68 L142.73,339.55 L143.04,339.43 L143.36,339.3 L143.68,339.18 L143.99,339.05 L144.31,338.94 L144.63,338.82 L144.94,338.71 L145.26,338.59 L145.58,338.49 L145.89,338.38 L146.21,338.28 L146.53,338.18 L146.85,338.08 L147.16,337.99 L147.48,337.9 L147.8,337.81 L148.11,337.73 L148.43,337.65 L148.75,337.57 L149.06,337.5 L149.38,337.43 L149.7,337.37 L150.01,337.31 L150.33,337.25 L150.65,337.2 L150.96,337.15 L151.28,337.11 L151.6,337.07 L151.91,337.03 L152.23,337 L152.55,336.97 L152.86,336.95 L153.18,336.93 L153.5,336.92 L153.81,336.91 L154.13,336.91 L154.45,336.91 L154.76,336.92 L155.08,336.93 L155.4,336.94 L155.71,336.96 L156.03,336.99 L156.35,337.01 L156.66,337.05 L156.98,337.09 L157.3,337.13 L157.61,337.18 L157.93,337.23 L158.25,337.29 L158.56,337.35 L158.88,337.42 L159.2,337.49 L159.51,337.57 L159.83,337.65 L160.15,337.74 L160.46,337.83 L160.78,337.93 L161.1,338.03 L161.42,338.13 L161.73,338.24 L162.05,338.35 L162.37,338.47 L162.68,338.59 L163,338.72 L163.32,338.85 L163.63,338.98 L163.95,339.12 L164.27,339.26 L164.58,339.41 L164.9,339.56 L165.22,339.71 L165.53,339.87 L165.85,340.03 L166.17,340.19 L166.48,340.36 L166.8,340.53 L167.12,340.71 L167.43,340.89 L167.75,341.07 L168.07,341.25 L168.38,341.44 L168.7,341.63 L169.02,341.82 L169.33,342.01 L169.65,342.21 L169.97,342.41 L170.28,342.61 L170.6,342.81 L170.92,343.02 L171.23,343.23 L171.55,343.44 L171.87,343.65 L172.18,343.86 L172.5,344.08 L172.82,344.3 L173.13,344.51 L173.45,344.73 L173.77,344.95 L174.08,345.18 L174.4,345.4 L174.72,345.62 L175.03,345.85 L175.35,346.07 L175.67,346.3 L175.98,346.52 L176.3,346.75 L176.62,346.97 L176.94,347.2 L177.25,347.43 L177.57,347.65 L177.89,347.88 L178.2,348.11 L178.52,348.33 L178.84,348.56 L179.15,348.78 L179.47,349.01 L179.79,349.23 L180.1,349.45 L180.42,349.67 L180.74,349.89 L181.05,350.11 L181.37,350.33 L181.69,350.55 L182,350.76 L182.32,350.98 L182.64,351.19 L182.95,351.4 L183.27,351.61 L183.59,351.82 L183.9,352.02 L184.22,352.23 L184.54,352.43 L184.85,352.63 L185.17,352.83 L185.49,353.02 L185.8,353.22 L186.12,353.41 L186.44,353.6 L186.75,353.78 L187.07,353.97 L187.39,354.15 L187.7,354.33 L188.02,354.51 L188.34,354.68 L188.65,354.85 L188.97,355.02 L189.29,355.19 L189.6,355.35 L189.92,355.51 L190.24,355.67 L190.55,355.82 L190.87,355.98 L191.19,356.13 L191.51,356.27 L191.82,356.42 L192.14,356.56 L192.46,356.7 L192.77,356.83 L193.09,356.97 L193.41,357.1 L193.72,357.22 L194.04,357.35 L194.36,357.47 L194.67,357.59 L194.99,357.71 L195.31,357.82 L195.62,357.93 L195.94,358.04 L196.26,358.14 L196.57,358.25 L196.89,358.35 L197.21,358.44 L197.52,358.54 L197.84,358.63 L198.16,358.72 L198.47,358.8 L198.79,358.89 L199.11,358.97 L199.42,359.05 L199.74,359.13 L200.06,359.2 L200.37,359.27 L200.69,359.34 L201.01,359.41 L201.32,359.48 L201.64,359.54 L201.96,359.6 L202.27,359.66 L202.59,359.72 L202.91,359.78 L203.22,359.83 L203.54,359.88 L203.86,359.93 L204.17,359.98 L204.49,360.02 L204.81,360.07 L205.12,360.11 L205.44,360.15 L205.76,360.19 L206.08,360.23 L206.39,360.27 L206.71,360.3 L207.03,360.34 L207.34,360.37 L207.66,360.4 L207.98,360.43 L208.29,360.46 L208.61,360.48 L208.93,360.51 L209.24,360.54 L209.56,360.56 L209.88,360.58 L210.19,360.6 L210.51,360.62 L210.83,360.64 L211.14,360.66 L211.46,360.68 L211.78,360.7 L212.09,360.72 L212.41,360.73 L212.73,360.75 L213.04,360.76 L213.36,360.77 L213.68,360.79 L213.99,360.8 L214.31,360.81 L214.63,360.82 L214.94,360.83 L215.26,360.84 L215.58,360.85 L215.89,360.86 L216.21,360.87 L216.53,360.88 L216.84,360.88 L217.16,360.89 L217.48,360.9 L217.79,360.9 L218.11,360.91 L218.43,360.91 L218.74,360.92 L219.06,360.92 L219.38,360.93 L219.69,360.93 L220.01,360.94 L220.33,360.94 L220.65,360.95 L220.96,360.95 L221.28,360.95 L221.6,360.96 L221.91,360.96 L222.23,360.96 L222.55,360.96 L222.86,360.97 L223.18,360.97 L223.5,360.97 L223.81,360.97 L224.13,360.97 L224.45,360.98 L224.76,360.98 L225.08,360.98 L225.4,360.98 L225.71,360.98 L226.03,360.98 L226.35,360.98 L226.66,360.99 L226.98,360.99 L227.3,360.99 L227.61,360.99 L227.93,360.99 L228.25,360.99 L228.56,360.99 L228.88,360.99 L229.2,360.99 L229.51,360.99 L229.83,360.99 L230.15,360.99 L230.46,360.99 L230.78,360.99 L231.1,360.99 L231.41,361 L231.73,361 L232.05,361 L232.36,361 L232.68,361 L233,361 L233.31,361 L233.63,361 L233.95,361 L234.26,361 L234.58,361 L234.9,361 L235.22,361 L235.53,361 L235.85,361 L236.17,361 L236.48,361 L236.8,361 L237.12,361 L237.43,361 L237.75,361 L238.07,361 L238.38,361 L238.7,361 L239.02,361 L239.33,361 L239.65,361 L239.97,361 L240.28,361 L240.6,361 L240.92,361 L241.23,361 L241.55,361 L241.87,361 L242.18,361 L242.5,361" fill="none" stroke="#c00000" stroke-width="2.2" stroke-dasharray="0.01 4.0" stroke-linejoin="round" stroke-linecap="round"/>
<path d="M21.1,343.4 L21.42,343.4 L21.73,343.4 L22.05,343.4 L22.37,343.41 L22.68,343.41 L23,343.41 L23.32,343.41 L23.63,343.41 L23.95,343.41 L24.27,343.42 L24.58,343.42 L24.9,343.42 L25.22,343.42 L25.53,343.42 L25.85,343.43 L26.17,343.43 L26.48,343.43 L26.8,343.43 L27.12,343.43 L27.43,343.44 L27.75,343.44 L28.07,343.44 L28.38,343.44 L28.7,343.45 L29.02,343.45 L29.34,343.45 L29.65,343.46 L29.97,343.46 L30.29,343.46 L30.6,343.46 L30.92,343.47 L31.24,343.47 L31.55,343.47 L31.87,343.48 L32.19,343.48 L32.5,343.48 L32.82,343.49 L33.14,343.49 L33.45,343.5 L33.77,343.5 L34.09,343.5 L34.4,343.51 L34.72,343.51 L35.04,343.52 L35.35,343.52 L35.67,343.52 L35.99,343.53 L36.3,343.53 L36.62,343.54 L36.94,343.54 L37.25,343.55 L37.57,343.55 L37.89,343.56 L38.2,343.56 L38.52,343.57 L38.84,343.57 L39.15,343.58 L39.47,343.58 L39.79,343.59 L40.1,343.59 L40.42,343.6 L40.74,343.6 L41.05,343.61 L41.37,343.62 L41.69,343.62 L42,343.63 L42.32,343.64 L42.64,343.64 L42.95,343.65 L43.27,343.65 L43.59,343.66 L43.91,343.67 L44.22,343.67 L44.54,343.68 L44.86,343.69 L45.17,343.7 L45.49,343.7 L45.81,343.71 L46.12,343.72 L46.44,343.73 L46.76,343.73 L47.07,343.74 L47.39,343.75 L47.71,343.76 L48.02,343.77 L48.34,343.77 L48.66,343.78 L48.97,343.79 L49.29,343.8 L49.61,343.81 L49.92,343.82 L50.24,343.83 L50.56,343.84 L50.87,343.85 L51.19,343.86 L51.51,343.86 L51.82,343.87 L52.14,343.88 L52.46,343.9 L52.77,343.91 L53.09,343.92 L53.41,343.93 L53.72,343.94 L54.04,343.95 L54.36,343.96 L54.67,343.97 L54.99,343.98 L55.31,344 L55.62,344.01 L55.94,344.02 L56.26,344.03 L56.57,344.05 L56.89,344.06 L57.21,344.07 L57.52,344.09 L57.84,344.1 L58.16,344.12 L58.48,344.13 L58.79,344.14 L59.11,344.16 L59.43,344.18 L59.74,344.19 L60.06,344.21 L60.38,344.22 L60.69,344.24 L61.01,344.26 L61.33,344.28 L61.64,344.29 L61.96,344.31 L62.28,344.33 L62.59,344.35 L62.91,344.37 L63.23,344.39 L63.54,344.41 L63.86,344.43 L64.18,344.46 L64.49,344.48 L64.81,344.5 L65.13,344.52 L65.44,344.55 L65.76,344.57 L66.08,344.6 L66.39,344.62 L66.71,344.65 L67.03,344.68 L67.34,344.7 L67.66,344.73 L67.98,344.76 L68.29,344.79 L68.61,344.82 L68.93,344.85 L69.24,344.88 L69.56,344.91 L69.88,344.95 L70.19,344.98 L70.51,345.01 L70.83,345.05 L71.14,345.08 L71.46,345.12 L71.78,345.16 L72.09,345.19 L72.41,345.23 L72.73,345.27 L73.05,345.31 L73.36,345.35 L73.68,345.39 L74,345.43 L74.31,345.48 L74.63,345.52 L74.95,345.56 L75.26,345.61 L75.58,345.65 L75.9,345.7 L76.21,345.74 L76.53,345.79 L76.85,345.84 L77.16,345.89 L77.48,345.94 L77.8,345.99 L78.11,346.04 L78.43,346.09 L78.75,346.14 L79.06,346.19 L79.38,346.24 L79.7,346.3 L80.01,346.35 L80.33,346.41 L80.65,346.46 L80.96,346.52 L81.28,346.57 L81.6,346.63 L81.91,346.68 L82.23,346.74 L82.55,346.8 L82.86,346.86 L83.18,346.91 L83.5,346.97 L83.81,347.03 L84.13,347.09 L84.45,347.15 L84.76,347.2 L85.08,347.26 L85.4,347.32 L85.71,347.38 L86.03,347.44 L86.35,347.5 L86.66,347.56 L86.98,347.62 L87.3,347.68 L87.62,347.74 L87.93,347.8 L88.25,347.85 L88.57,347.91 L88.88,347.97 L89.2,348.03 L89.52,348.09 L89.83,348.14 L90.15,348.2 L90.47,348.26 L90.78,348.31 L91.1,348.37 L91.42,348.43 L91.73,348.48 L92.05,348.54 L92.37,348.59 L92.68,348.64 L93,348.7 L93.32,348.75 L93.63,348.8 L93.95,348.85 L94.27,348.9 L94.58,348.95 L94.9,349 L95.22,349.05 L95.53,349.1 L95.85,349.15 L96.17,349.19 L96.48,349.24 L96.8,349.28 L97.12,349.33 L97.43,349.37 L97.75,349.41 L98.07,349.46 L98.38,349.5 L98.7,349.54 L99.02,349.58 L99.33,349.62 L99.65,349.66 L99.97,349.69 L100.28,349.73 L100.6,349.76 L100.92,349.8 L101.23,349.83 L101.55,349.87 L101.87,349.9 L102.18,349.93 L102.5,349.96 L102.82,349.99 L103.14,350.02 L103.45,350.05 L103.77,350.08 L104.09,350.1 L104.4,350.13 L104.72,350.16 L105.04,350.18 L105.35,350.2 L105.67,350.23 L105.99,350.25 L106.3,350.27 L106.62,350.29 L106.94,350.31 L107.25,350.33 L107.57,350.35 L107.89,350.37 L108.2,350.39 L108.52,350.41 L108.84,350.42 L109.15,350.44 L109.47,350.46 L109.79,350.47 L110.1,350.49 L110.42,350.5 L110.74,350.51 L111.05,350.53 L111.37,350.54 L111.69,350.55 L112,350.56 L112.32,350.58 L112.64,350.59 L112.95,350.6 L113.27,350.61 L113.59,350.62 L113.9,350.63 L114.22,350.63 L114.54,350.64 L114.85,350.65 L115.17,350.66 L115.49,350.67 L115.8,350.68 L116.12,350.68 L116.44,350.69 L116.75,350.7 L117.07,350.7 L117.39,350.71 L117.71,350.72 L118.02,350.72 L118.34,350.73 L118.66,350.73 L118.97,350.74 L119.29,350.74 L119.61,350.75 L119.92,350.75 L120.24,350.76 L120.56,350.76 L120.87,350.77 L121.19,350.77 L121.51,350.78 L121.82,350.78 L122.14,350.79 L122.46,350.79 L122.77,350.79 L123.09,350.8 L123.41,350.8 L123.72,350.81 L124.04,350.81 L124.36,350.81 L124.67,350.82 L124.99,350.82 L125.31,350.83 L125.62,350.83 L125.94,350.83 L126.26,350.84 L126.57,350.84 L126.89,350.85 L127.21,350.85 L127.52,350.86 L127.84,350.86 L128.16,350.86 L128.47,350.87 L128.79,350.87 L129.11,350.88 L129.42,350.88 L129.74,350.89 L130.06,350.89 L130.37,350.9 L130.69,350.9 L131.01,350.9 L131.32,350.91 L131.64,350.91 L131.96,350.92 L132.28,350.92 L132.59,350.93 L132.91,350.94 L133.23,350.94 L133.54,350.95 L133.86,350.95 L134.18,350.96 L134.49,350.96 L134.81,350.97 L135.13,350.98 L135.44,350.98 L135.76,350.99 L136.08,351 L136.39,351 L136.71,351.01 L137.03,351.02 L137.34,351.02 L137.66,351.03 L137.98,351.04 L138.29,351.04 L138.61,351.05 L138.93,351.06 L139.24,351.07 L139.56,351.07 L139.88,351.08 L140.19,351.09 L140.51,351.1 L140.83,351.11 L141.14,351.12 L141.46,351.12 L141.78,351.13 L142.09,351.14 L142.41,351.15 L142.73,351.16 L143.04,351.17 L143.36,351.18 L143.68,351.19 L143.99,351.2 L144.31,351.21 L144.63,351.22 L144.94,351.23 L145.26,351.24 L145.58,351.25 L145.89,351.26 L146.21,351.27 L146.53,351.28 L146.85,351.29 L147.16,351.31 L147.48,351.32 L147.8,351.33 L148.11,351.34 L148.43,351.35 L148.75,351.37 L149.06,351.38 L149.38,351.39 L149.7,351.41 L150.01,351.42 L150.33,351.43 L150.65,351.45 L150.96,351.46 L151.28,351.47 L151.6,351.49 L151.91,351.5 L152.23,351.52 L152.55,351.54 L152.86,351.55 L153.18,351.57 L153.5,351.58 L153.81,351.6 L154.13,351.62 L154.45,351.64 L154.76,351.65 L155.08,351.67 L155.4,351.69 L155.71,351.71 L156.03,351.73 L156.35,351.75 L156.66,351.77 L156.98,351.79 L157.3,351.81 L157.61,351.83 L157.93,351.86 L158.25,351.88 L158.56,351.9 L158.88,351.93 L159.2,351.95 L159.51,351.98 L159.83,352 L160.15,352.03 L160.46,352.06 L160.78,352.08 L161.1,352.11 L161.42,352.14 L161.73,352.17 L162.05,352.2 L162.37,352.23 L162.68,352.26 L163,352.3 L163.32,352.33 L163.63,352.37 L163.95,352.4 L164.27,352.44 L164.58,352.47 L164.9,352.51 L165.22,352.55 L165.53,352.59 L165.85,352.63 L166.17,352.67 L166.48,352.72 L166.8,352.76 L167.12,352.81 L167.43,352.85 L167.75,352.9 L168.07,352.95 L168.38,352.99 L168.7,353.04 L169.02,353.1 L169.33,353.15 L169.65,353.2 L169.97,353.26 L170.28,353.31 L170.6,353.37 L170.92,353.42 L171.23,353.48 L171.55,353.54 L171.87,353.6 L172.18,353.66 L172.5,353.73 L172.82,353.79 L173.13,353.86 L173.45,353.92 L173.77,353.99 L174.08,354.06 L174.4,354.13 L174.72,354.2 L175.03,354.27 L175.35,354.34 L175.67,354.41 L175.98,354.49 L176.3,354.56 L176.62,354.64 L176.94,354.71 L177.25,354.79 L177.57,354.87 L177.89,354.95 L178.2,355.02 L178.52,355.1 L178.84,355.19 L179.15,355.27 L179.47,355.35 L179.79,355.43 L180.1,355.51 L180.42,355.6 L180.74,355.68 L181.05,355.77 L181.37,355.85 L181.69,355.93 L182,356.02 L182.32,356.11 L182.64,356.19 L182.95,356.28 L183.27,356.36 L183.59,356.45 L183.9,356.53 L184.22,356.62 L184.54,356.7 L184.85,356.79 L185.17,356.87 L185.49,356.96 L185.8,357.04 L186.12,357.13 L186.44,357.21 L186.75,357.3 L187.07,357.38 L187.39,357.46 L187.7,357.54 L188.02,357.63 L188.34,357.71 L188.65,357.79 L188.97,357.87 L189.29,357.94 L189.6,358.02 L189.92,358.1 L190.24,358.18 L190.55,358.25 L190.87,358.33 L191.19,358.4 L191.51,358.47 L191.82,358.54 L192.14,358.61 L192.46,358.68 L192.77,358.75 L193.09,358.82 L193.41,358.89 L193.72,358.95 L194.04,359.01 L194.36,359.08 L194.67,359.14 L194.99,359.2 L195.31,359.26 L195.62,359.32 L195.94,359.37 L196.26,359.43 L196.57,359.48 L196.89,359.54 L197.21,359.59 L197.52,359.64 L197.84,359.69 L198.16,359.74 L198.47,359.78 L198.79,359.83 L199.11,359.87 L199.42,359.92 L199.74,359.96 L200.06,360 L200.37,360.04 L200.69,360.08 L201.01,360.12 L201.32,360.15 L201.64,360.19 L201.96,360.22 L202.27,360.26 L202.59,360.29 L202.91,360.32 L203.22,360.35 L203.54,360.38 L203.86,360.41 L204.17,360.43 L204.49,360.46 L204.81,360.48 L205.12,360.51 L205.44,360.53 L205.76,360.55 L206.08,360.58 L206.39,360.6 L206.71,360.62 L207.03,360.63 L207.34,360.65 L207.66,360.67 L207.98,360.69 L208.29,360.7 L208.61,360.72 L208.93,360.73 L209.24,360.75 L209.56,360.76 L209.88,360.77 L210.19,360.79 L210.51,360.8 L210.83,360.81 L211.14,360.82 L211.46,360.83 L211.78,360.84 L212.09,360.85 L212.41,360.86 L212.73,360.87 L213.04,360.87 L213.36,360.88 L213.68,360.89 L213.99,360.89 L214.31,360.9 L214.63,360.91 L214.94,360.91 L215.26,360.92 L215.58,360.92 L215.89,360.93 L216.21,360.93 L216.53,360.94 L216.84,360.94 L217.16,360.94 L217.48,360.95 L217.79,360.95 L218.11,360.96 L218.43,360.96 L218.74,360.96 L219.06,360.96 L219.38,360.97 L219.69,360.97 L220.01,360.97 L220.33,360.97 L220.65,360.97 L220.96,360.98 L221.28,360.98 L221.6,360.98 L221.91,360.98 L222.23,360.98 L222.55,360.98 L222.86,360.98 L223.18,360.99 L223.5,360.99 L223.81,360.99 L224.13,360.99 L224.45,360.99 L224.76,360.99 L225.08,360.99 L225.4,360.99 L225.71,360.99 L226.03,360.99 L226.35,360.99 L226.66,360.99 L226.98,360.99 L227.3,361 L227.61,361 L227.93,361 L228.25,361 L228.56,361 L228.88,361 L229.2,361 L229.51,361 L229.83,361 L230.15,361 L230.46,361 L230.78,361 L231.1,361 L231.41,361 L231.73,361 L232.05,361 L232.36,361 L232.68,361 L233,361 L233.31,361 L233.63,361 L233.95,361 L234.26,361 L234.58,361 L234.9,361 L235.22,361 L235.53,361 L235.85,361 L236.17,361 L236.48,361 L236.8,361 L237.12,361 L237.43,361 L237.75,361 L238.07,361 L238.38,361 L238.7,361 L239.02,361 L239.33,361 L239.65,361 L239.97,361 L240.28,361 L240.6,361 L240.92,361 L241.23,361 L241.55,361 L241.87,361 L242.18,361 L242.5,361" fill="none" stroke="#c00000" stroke-width="2.2" stroke-dasharray="0.01 4.0" stroke-linejoin="round" stroke-linecap="round"/>
<path d="M21.4,340.1 C21.78,340.1 22.7,339.8 23.7,340.1 C24.7,340.4 26.18,342.05 27.4,341.9 C28.62,341.75 29.93,340.02 31,339.2 C32.07,338.38 32.73,337.25 33.8,337 C34.87,336.75 36.18,337.88 37.4,337.7 C38.62,337.52 39.43,336.42 41.1,335.9 C42.77,335.38 45.58,335.57 47.4,334.6 C49.22,333.63 50.78,331.17 52,330.1 C53.22,329.03 53.63,329.12 54.7,328.2 C55.77,327.28 57.18,326.12 58.4,324.6 C59.62,323.08 60.87,320.98 62,319.1 C63.13,317.22 64.2,316.13 65.2,313.3 C66.2,310.47 67.05,305.13 68,302.1 C68.95,299.07 69.83,297.45 70.9,295.1 C71.97,292.75 73.23,290.35 74.4,288 C75.57,285.65 76.62,283.45 77.9,281 C79.18,278.55 80.7,275.17 82.1,273.3 C83.5,271.43 85.02,270.15 86.3,269.8 C87.58,269.45 88.75,270.27 89.8,271.2 C90.85,272.13 91.55,273.07 92.6,275.4 C93.65,277.73 94.82,280.75 96.1,285.2 C97.38,289.65 98.9,296.95 100.3,302.1 C101.7,307.25 103.1,311.43 104.5,316.1 C105.9,320.77 107.42,326.13 108.7,330.1 C109.98,334.07 111.03,337.8 112.2,339.9 C113.37,342 114.42,342.23 115.7,342.7 C116.98,343.17 118.73,342.45 119.9,342.7 C121.07,342.95 121.78,344.35 122.7,344.2 C123.62,344.05 124.43,341.87 125.4,341.8 C126.37,341.73 127.3,343.63 128.5,343.8 C129.7,343.97 131.07,343.3 132.6,342.8 C134.13,342.3 136.17,341.03 137.7,340.8 C139.23,340.57 140.1,341.92 141.8,341.4 C143.5,340.88 145.85,339.68 147.9,337.7 C149.95,335.72 152.42,332.45 154.1,329.5 C155.78,326.55 156.1,326 158,320 C159.9,314 163.3,301.4 165.5,293.5 C167.7,285.6 169.45,278.62 171.2,272.6 C172.95,266.58 174.42,261.83 176,257.4 C177.58,252.97 179.43,248.2 180.7,246 C181.97,243.8 182.65,244.03 183.6,244.2 C184.55,244.37 185.3,245.12 186.4,247 C187.5,248.88 189.08,252.18 190.2,255.5 C191.32,258.82 192.15,262.47 193.1,266.9 C194.05,271.33 194.97,277.03 195.9,282.1 C196.83,287.17 197.75,292.23 198.7,297.3 C199.65,302.37 200.5,305.82 201.6,312.5 C202.7,319.18 204.08,331.43 205.3,337.4 C206.52,343.37 207.38,345.57 208.9,348.3 C210.42,351.03 212.57,352.22 214.4,353.8 C216.23,355.38 218.07,356.95 219.9,357.8 C221.73,358.65 223.72,358.72 225.4,358.9 C227.08,359.08 228.98,358.78 230,358.9 C231.02,359.02 231.25,359.48 231.5,359.6" fill="none" stroke="#1a1a1a" stroke-width="1.2" stroke-linejoin="round" />
<path d="M21.1,341.57 L21.42,341.52 L21.73,341.46 L22.05,341.4 L22.37,341.34 L22.68,341.27 L23,341.21 L23.32,341.15 L23.63,341.08 L23.95,341.01 L24.27,340.94 L24.58,340.87 L24.9,340.8 L25.22,340.73 L25.53,340.65 L25.85,340.58 L26.17,340.5 L26.48,340.42 L26.8,340.34 L27.12,340.26 L27.43,340.18 L27.75,340.1 L28.07,340.01 L28.38,339.93 L28.7,339.84 L29.02,339.75 L29.34,339.66 L29.65,339.57 L29.97,339.48 L30.29,339.39 L30.6,339.29 L30.92,339.2 L31.24,339.1 L31.55,339 L31.87,338.91 L32.19,338.81 L32.5,338.71 L32.82,338.6 L33.14,338.5 L33.45,338.4 L33.77,338.29 L34.09,338.19 L34.4,338.08 L34.72,337.97 L35.04,337.87 L35.35,337.76 L35.67,337.65 L35.99,337.54 L36.3,337.42 L36.62,337.31 L36.94,337.2 L37.25,337.08 L37.57,336.97 L37.89,336.85 L38.2,336.74 L38.52,336.62 L38.84,336.5 L39.15,336.39 L39.47,336.27 L39.79,336.15 L40.1,336.03 L40.42,335.91 L40.74,335.78 L41.05,335.66 L41.37,335.54 L41.69,335.41 L42,335.29 L42.32,335.16 L42.64,335.03 L42.95,334.9 L43.27,334.77 L43.59,334.64 L43.91,334.51 L44.22,334.38 L44.54,334.24 L44.86,334.1 L45.17,333.97 L45.49,333.83 L45.81,333.68 L46.12,333.54 L46.44,333.39 L46.76,333.25 L47.07,333.1 L47.39,332.94 L47.71,332.79 L48.02,332.63 L48.34,332.47 L48.66,332.3 L48.97,332.13 L49.29,331.96 L49.61,331.78 L49.92,331.6 L50.24,331.42 L50.56,331.23 L50.87,331.04 L51.19,330.84 L51.51,330.63 L51.82,330.42 L52.14,330.21 L52.46,329.99 L52.77,329.76 L53.09,329.52 L53.41,329.28 L53.72,329.03 L54.04,328.77 L54.36,328.51 L54.67,328.23 L54.99,327.95 L55.31,327.66 L55.62,327.36 L55.94,327.05 L56.26,326.73 L56.57,326.4 L56.89,326.06 L57.21,325.7 L57.52,325.34 L57.84,324.97 L58.16,324.58 L58.48,324.18 L58.79,323.77 L59.11,323.34 L59.43,322.91 L59.74,322.46 L60.06,321.99 L60.38,321.52 L60.69,321.02 L61.01,320.52 L61.33,320 L61.64,319.46 L61.96,318.91 L62.28,318.35 L62.59,317.77 L62.91,317.18 L63.23,316.57 L63.54,315.95 L63.86,315.31 L64.18,314.66 L64.49,313.99 L64.81,313.31 L65.13,312.61 L65.44,311.9 L65.76,311.17 L66.08,310.43 L66.39,309.68 L66.71,308.91 L67.03,308.13 L67.34,307.34 L67.66,306.53 L67.98,305.72 L68.29,304.89 L68.61,304.05 L68.93,303.2 L69.24,302.35 L69.56,301.48 L69.88,300.6 L70.19,299.72 L70.51,298.83 L70.83,297.94 L71.14,297.04 L71.46,296.13 L71.78,295.22 L72.09,294.31 L72.41,293.4 L72.73,292.49 L73.05,291.58 L73.36,290.67 L73.68,289.76 L74,288.86 L74.31,287.96 L74.63,287.06 L74.95,286.18 L75.26,285.3 L75.58,284.43 L75.9,283.58 L76.21,282.73 L76.53,281.9 L76.85,281.08 L77.16,280.28 L77.48,279.5 L77.8,278.73 L78.11,277.98 L78.43,277.25 L78.75,276.55 L79.06,275.86 L79.38,275.2 L79.7,274.57 L80.01,273.96 L80.33,273.38 L80.65,272.82 L80.96,272.3 L81.28,271.8 L81.6,271.34 L81.91,270.9 L82.23,270.5 L82.55,270.14 L82.86,269.8 L83.18,269.5 L83.5,269.24 L83.81,269.01 L84.13,268.82 L84.45,268.67 L84.76,268.56 L85.08,268.48 L85.4,268.44 L85.71,268.44 L86.03,268.47 L86.35,268.55 L86.66,268.66 L86.98,268.82 L87.3,269.01 L87.62,269.24 L87.93,269.51 L88.25,269.81 L88.57,270.16 L88.88,270.54 L89.2,270.96 L89.52,271.41 L89.83,271.9 L90.15,272.43 L90.47,272.99 L90.78,273.58 L91.1,274.21 L91.42,274.87 L91.73,275.56 L92.05,276.29 L92.37,277.04 L92.68,277.82 L93,278.63 L93.32,279.46 L93.63,280.32 L93.95,281.21 L94.27,282.12 L94.58,283.05 L94.9,284 L95.22,284.97 L95.53,285.96 L95.85,286.96 L96.17,287.99 L96.48,289.02 L96.8,290.07 L97.12,291.14 L97.43,292.21 L97.75,293.29 L98.07,294.38 L98.38,295.48 L98.7,296.58 L99.02,297.69 L99.33,298.8 L99.65,299.92 L99.97,301.03 L100.28,302.14 L100.6,303.26 L100.92,304.37 L101.23,305.47 L101.55,306.58 L101.87,307.67 L102.18,308.76 L102.5,309.84 L102.82,310.92 L103.14,311.98 L103.45,313.03 L103.77,314.08 L104.09,315.11 L104.4,316.12 L104.72,317.13 L105.04,318.12 L105.35,319.09 L105.67,320.05 L105.99,321 L106.3,321.93 L106.62,322.84 L106.94,323.73 L107.25,324.61 L107.57,325.46 L107.89,326.3 L108.2,327.12 L108.52,327.92 L108.84,328.71 L109.15,329.47 L109.47,330.21 L109.79,330.93 L110.1,331.64 L110.42,332.32 L110.74,332.99 L111.05,333.63 L111.37,334.25 L111.69,334.86 L112,335.44 L112.32,336.01 L112.64,336.55 L112.95,337.08 L113.27,337.59 L113.59,338.08 L113.9,338.55 L114.22,339 L114.54,339.43 L114.85,339.84 L115.17,340.24 L115.49,340.62 L115.8,340.98 L116.12,341.33 L116.44,341.66 L116.75,341.97 L117.07,342.27 L117.39,342.55 L117.71,342.81 L118.02,343.06 L118.34,343.3 L118.66,343.52 L118.97,343.73 L119.29,343.92 L119.61,344.1 L119.92,344.27 L120.24,344.42 L120.56,344.56 L120.87,344.69 L121.19,344.81 L121.51,344.92 L121.82,345.02 L122.14,345.1 L122.46,345.18 L122.77,345.24 L123.09,345.3 L123.41,345.34 L123.72,345.38 L124.04,345.41 L124.36,345.43 L124.67,345.44 L124.99,345.45 L125.31,345.44 L125.62,345.43 L125.94,345.41 L126.26,345.39 L126.57,345.35 L126.89,345.31 L127.21,345.27 L127.52,345.22 L127.84,345.16 L128.16,345.1 L128.47,345.03 L128.79,344.96 L129.11,344.88 L129.42,344.8 L129.74,344.71 L130.06,344.62 L130.37,344.52 L130.69,344.42 L131.01,344.32 L131.32,344.21 L131.64,344.1 L131.96,343.99 L132.28,343.87 L132.59,343.75 L132.91,343.62 L133.23,343.5 L133.54,343.37 L133.86,343.23 L134.18,343.1 L134.49,342.96 L134.81,342.82 L135.13,342.68 L135.44,342.53 L135.76,342.38 L136.08,342.24 L136.39,342.08 L136.71,341.93 L137.03,341.78 L137.34,341.62 L137.66,341.46 L137.98,341.3 L138.29,341.14 L138.61,340.97 L138.93,340.81 L139.24,340.64 L139.56,340.47 L139.88,340.3 L140.19,340.12 L140.51,339.95 L140.83,339.77 L141.14,339.59 L141.46,339.41 L141.78,339.23 L142.09,339.04 L142.41,338.85 L142.73,338.66 L143.04,338.47 L143.36,338.28 L143.68,338.08 L143.99,337.88 L144.31,337.67 L144.63,337.47 L144.94,337.25 L145.26,337.04 L145.58,336.82 L145.89,336.6 L146.21,336.37 L146.53,336.14 L146.85,335.9 L147.16,335.66 L147.48,335.41 L147.8,335.15 L148.11,334.89 L148.43,334.63 L148.75,334.35 L149.06,334.07 L149.38,333.78 L149.7,333.48 L150.01,333.18 L150.33,332.86 L150.65,332.53 L150.96,332.2 L151.28,331.85 L151.6,331.5 L151.91,331.13 L152.23,330.75 L152.55,330.36 L152.86,329.95 L153.18,329.53 L153.5,329.1 L153.81,328.65 L154.13,328.19 L154.45,327.71 L154.76,327.21 L155.08,326.7 L155.4,326.17 L155.71,325.63 L156.03,325.06 L156.35,324.48 L156.66,323.88 L156.98,323.26 L157.3,322.62 L157.61,321.95 L157.93,321.27 L158.25,320.57 L158.56,319.84 L158.88,319.09 L159.2,318.32 L159.51,317.53 L159.83,316.71 L160.15,315.88 L160.46,315.01 L160.78,314.13 L161.1,313.22 L161.42,312.29 L161.73,311.33 L162.05,310.35 L162.37,309.35 L162.68,308.32 L163,307.27 L163.32,306.2 L163.63,305.11 L163.95,303.99 L164.27,302.85 L164.58,301.7 L164.9,300.52 L165.22,299.32 L165.53,298.1 L165.85,296.86 L166.17,295.6 L166.48,294.33 L166.8,293.04 L167.12,291.74 L167.43,290.42 L167.75,289.09 L168.07,287.74 L168.38,286.39 L168.7,285.03 L169.02,283.66 L169.33,282.28 L169.65,280.9 L169.97,279.52 L170.28,278.13 L170.6,276.74 L170.92,275.36 L171.23,273.98 L171.55,272.6 L171.87,271.23 L172.18,269.87 L172.5,268.52 L172.82,267.18 L173.13,265.85 L173.45,264.55 L173.77,263.26 L174.08,261.99 L174.4,260.74 L174.72,259.52 L175.03,258.32 L175.35,257.15 L175.67,256.01 L175.98,254.91 L176.3,253.83 L176.62,252.79 L176.94,251.79 L177.25,250.83 L177.57,249.91 L177.89,249.04 L178.2,248.2 L178.52,247.42 L178.84,246.68 L179.15,245.99 L179.47,245.35 L179.79,244.76 L180.1,244.22 L180.42,243.74 L180.74,243.32 L181.05,242.95 L181.37,242.63 L181.69,242.38 L182,242.18 L182.32,242.04 L182.64,241.97 L182.95,241.95 L183.27,241.99 L183.59,242.1 L183.9,242.26 L184.22,242.49 L184.54,242.78 L184.85,243.12 L185.17,243.53 L185.49,244 L185.8,244.53 L186.12,245.11 L186.44,245.75 L186.75,246.45 L187.07,247.21 L187.39,248.02 L187.7,248.89 L188.02,249.81 L188.34,250.78 L188.65,251.8 L188.97,252.87 L189.29,253.98 L189.6,255.14 L189.92,256.35 L190.24,257.6 L190.55,258.89 L190.87,260.22 L191.19,261.58 L191.51,262.98 L191.82,264.42 L192.14,265.88 L192.46,267.37 L192.77,268.9 L193.09,270.44 L193.41,272.01 L193.72,273.6 L194.04,275.21 L194.36,276.84 L194.67,278.48 L194.99,280.13 L195.31,281.8 L195.62,283.47 L195.94,285.15 L196.26,286.84 L196.57,288.52 L196.89,290.21 L197.21,291.9 L197.52,293.59 L197.84,295.27 L198.16,296.94 L198.47,298.61 L198.79,300.27 L199.11,301.92 L199.42,303.55 L199.74,305.17 L200.06,306.78 L200.37,308.36 L200.69,309.93 L201.01,311.49 L201.32,313.02 L201.64,314.53 L201.96,316.02 L202.27,317.48 L202.59,318.92 L202.91,320.34 L203.22,321.73 L203.54,323.09 L203.86,324.43 L204.17,325.74 L204.49,327.02 L204.81,328.28 L205.12,329.5 L205.44,330.7 L205.76,331.87 L206.08,333.01 L206.39,334.11 L206.71,335.19 L207.03,336.25 L207.34,337.27 L207.66,338.26 L207.98,339.22 L208.29,340.16 L208.61,341.06 L208.93,341.94 L209.24,342.79 L209.56,343.61 L209.88,344.4 L210.19,345.16 L210.51,345.9 L210.83,346.62 L211.14,347.3 L211.46,347.96 L211.78,348.6 L212.09,349.21 L212.41,349.8 L212.73,350.37 L213.04,350.91 L213.36,351.43 L213.68,351.93 L213.99,352.4 L214.31,352.86 L214.63,353.3 L214.94,353.71 L215.26,354.11 L215.58,354.49 L215.89,354.86 L216.21,355.2 L216.53,355.53 L216.84,355.85 L217.16,356.14 L217.48,356.43 L217.79,356.7 L218.11,356.95 L218.43,357.2 L218.74,357.43 L219.06,357.65 L219.38,357.85 L219.69,358.05 L220.01,358.23 L220.33,358.41 L220.65,358.57 L220.96,358.73 L221.28,358.88 L221.6,359.02 L221.91,359.15 L222.23,359.27 L222.55,359.39 L222.86,359.5 L223.18,359.6 L223.5,359.69 L223.81,359.78 L224.13,359.87 L224.45,359.95 L224.76,360.02 L225.08,360.09 L225.4,360.16 L225.71,360.22 L226.03,360.27 L226.35,360.33 L226.66,360.38 L226.98,360.42 L227.3,360.47 L227.61,360.51 L227.93,360.54 L228.25,360.58 L228.56,360.61 L228.88,360.64 L229.2,360.67 L229.51,360.7 L229.83,360.72 L230.15,360.74 L230.46,360.76 L230.78,360.78 L231.1,360.8 L231.41,360.82 L231.73,360.83 L232.05,360.84 L232.36,360.86 L232.68,360.87 L233,360.88 L233.31,360.89 L233.63,360.9 L233.95,360.91 L234.26,360.92 L234.58,360.92 L234.9,360.93 L235.22,360.94 L235.53,360.94 L235.85,360.95 L236.17,360.95 L236.48,360.96 L236.8,360.96 L237.12,360.96 L237.43,360.97 L237.75,360.97 L238.07,360.97 L238.38,360.98 L238.7,360.98 L239.02,360.98 L239.33,360.98 L239.65,360.98 L239.97,360.99 L240.28,360.99 L240.6,360.99 L240.92,360.99 L241.23,360.99 L241.55,360.99 L241.87,360.99 L242.18,360.99 L242.5,360.99" fill="none" stroke="#70ad47" stroke-width="1.9" stroke-dasharray="0.01 4.2" stroke-linejoin="round" stroke-linecap="round"/>
<rect x="21.1" y="225.7" width="221.4" height="159.5" stroke="#231f20" stroke-width="1.2" fill="none" />
<line x1="21.1" y1="385.2" x2="21.1" y2="388.2" stroke="#231f20" stroke-width="1.0" />
<line x1="39.55" y1="385.2" x2="39.55" y2="388.2" stroke="#231f20" stroke-width="1.0" />
<line x1="58" y1="385.2" x2="58" y2="388.2" stroke="#231f20" stroke-width="1.0" />
<line x1="76.45" y1="385.2" x2="76.45" y2="388.2" stroke="#231f20" stroke-width="1.0" />
<line x1="94.9" y1="385.2" x2="94.9" y2="388.2" stroke="#231f20" stroke-width="1.0" />
<line x1="113.35" y1="385.2" x2="113.35" y2="388.2" stroke="#231f20" stroke-width="1.0" />
<line x1="131.8" y1="385.2" x2="131.8" y2="388.2" stroke="#231f20" stroke-width="1.0" />
<line x1="150.25" y1="385.2" x2="150.25" y2="388.2" stroke="#231f20" stroke-width="1.0" />
<line x1="168.7" y1="385.2" x2="168.7" y2="388.2" stroke="#231f20" stroke-width="1.0" />
<line x1="187.15" y1="385.2" x2="187.15" y2="388.2" stroke="#231f20" stroke-width="1.0" />
<line x1="205.6" y1="385.2" x2="205.6" y2="388.2" stroke="#231f20" stroke-width="1.0" />
<line x1="224.05" y1="385.2" x2="224.05" y2="388.2" stroke="#231f20" stroke-width="1.0" />
<line x1="242.5" y1="385.2" x2="242.5" y2="388.2" stroke="#231f20" stroke-width="1.0" />
<text x="21.1" y="402.2" font-size="10.6" text-anchor="middle" fill="#231f20" font-weight="normal" stroke="#231f20" stroke-width="0.22" >344</text>
<text x="76.45" y="402.2" font-size="10.6" text-anchor="middle" fill="#231f20" font-weight="normal" stroke="#231f20" stroke-width="0.22" >341</text>
<text x="131.8" y="402.2" font-size="10.6" text-anchor="middle" fill="#231f20" font-weight="normal" stroke="#231f20" stroke-width="0.22" >338</text>
<text x="187.15" y="402.2" font-size="10.6" text-anchor="middle" fill="#231f20" font-weight="normal" stroke="#231f20" stroke-width="0.22" >335</text>
<text x="242.5" y="402.2" font-size="10.6" text-anchor="middle" fill="#231f20" font-weight="normal" stroke="#231f20" stroke-width="0.22" >332</text>
<text x="136.5" y="417" font-size="10.3" text-anchor="middle" fill="#231f20" font-weight="normal" stroke="#231f20" stroke-width="0.22" >Binding energy (eV)</text>
<text x="0" y="0" font-size="10.65" text-anchor="middle" fill="#231f20" font-weight="normal" stroke="#231f20" stroke-width="0.22" transform="translate(8.5,308.4) rotate(-90)">Intensity (arb. units)</text>
<text x="90.5" y="249.4" font-size="9.3" text-anchor="middle" fill="#4472c4" font-weight="normal" stroke="#4472c4" stroke-width="0.22" >Pd<tspan font-size="6.3" dy="-3.6">0</tspan><tspan dy="3.6"> 3</tspan><tspan font-style="italic">d</tspan><tspan font-size="6.3" dy="2">3/2</tspan></text>
<text x="90.3" y="260.4" font-size="9.3" text-anchor="middle" fill="#4472c4" font-weight="normal" stroke="#4472c4" stroke-width="0.22" >340.5 eV</text>
<text x="219.2" y="261.8" font-size="9.3" text-anchor="middle" fill="#4472c4" font-weight="normal" stroke="#4472c4" stroke-width="0.22" >Pd<tspan font-size="6.3" dy="-3.6">0</tspan><tspan dy="3.6"> 3</tspan><tspan font-style="italic">d</tspan><tspan font-size="6.3" dy="2">5/2</tspan></text>
<text x="219" y="273.2" font-size="9.3" text-anchor="middle" fill="#4472c4" font-weight="normal" stroke="#4472c4" stroke-width="0.22" >335.2 eV</text>
<text x="43" y="301.9" font-size="9.3" text-anchor="middle" fill="#d0222c" font-weight="normal" stroke="#d0222c" stroke-width="0.22" >Pd<tspan font-size="6.3" dy="-3.6">2+</tspan><tspan dy="3.6"> 3</tspan><tspan font-style="italic">d</tspan><tspan font-size="6.3" dy="2">3/2</tspan></text>
<text x="42.4" y="311.9" font-size="9.3" text-anchor="middle" fill="#d0222c" font-weight="normal" stroke="#d0222c" stroke-width="0.22" >342.2 eV</text>
<text x="133" y="313.4" font-size="9.3" text-anchor="middle" fill="#d0222c" font-weight="normal" stroke="#d0222c" stroke-width="0.22" >Pd<tspan font-size="6.3" dy="-3.6">2+</tspan><tspan dy="3.6"> 3</tspan><tspan font-style="italic">d</tspan><tspan font-size="6.3" dy="2">5/2</tspan></text>
<text x="132.6" y="324.4" font-size="9.3" text-anchor="middle" fill="#d0222c" font-weight="normal" stroke="#d0222c" stroke-width="0.22" >336.8 eV</text>
<text x="1.2" y="450.6" font-size="13" text-anchor="start" fill="#000" font-weight="bold" >c</text>
<path d="M20.8,584 L21.11,583.99 L21.42,583.98 L21.73,583.97 L22.04,583.96 L22.35,583.95 L22.66,583.93 L22.98,583.92 L23.29,583.91 L23.6,583.9 L23.91,583.89 L24.22,583.88 L24.53,583.87 L24.84,583.86 L25.15,583.85 L25.46,583.84 L25.77,583.83 L26.08,583.81 L26.39,583.8 L26.7,583.79 L27.01,583.78 L27.33,583.77 L27.64,583.76 L27.95,583.75 L28.26,583.74 L28.57,583.73 L28.88,583.72 L29.19,583.7 L29.5,583.69 L29.81,583.68 L30.12,583.67 L30.43,583.66 L30.74,583.65 L31.05,583.64 L31.36,583.63 L31.68,583.62 L31.99,583.61 L32.3,583.6 L32.61,583.58 L32.92,583.57 L33.23,583.56 L33.54,583.55 L33.85,583.54 L34.16,583.53 L34.47,583.52 L34.78,583.51 L35.09,583.5 L35.4,583.49 L35.72,583.48 L36.03,583.46 L36.34,583.45 L36.65,583.44 L36.96,583.43 L37.27,583.42 L37.58,583.41 L37.89,583.4 L38.2,583.39 L38.51,583.38 L38.82,583.37 L39.13,583.36 L39.44,583.34 L39.75,583.33 L40.07,583.32 L40.38,583.31 L40.69,583.3 L41,583.29 L41.31,583.28 L41.62,583.27 L41.93,583.26 L42.24,583.25 L42.55,583.24 L42.86,583.22 L43.17,583.21 L43.48,583.2 L43.79,583.19 L44.1,583.18 L44.42,583.17 L44.73,583.16 L45.04,583.15 L45.35,583.14 L45.66,583.13 L45.97,583.11 L46.28,583.1 L46.59,583.09 L46.9,583.08 L47.21,583.07 L47.52,583.06 L47.83,583.05 L48.14,583.04 L48.45,583.03 L48.77,583.02 L49.08,583.01 L49.39,582.99 L49.7,582.98 L50.01,582.97 L50.32,582.96 L50.63,582.95 L50.94,582.94 L51.25,582.93 L51.56,582.92 L51.87,582.91 L52.18,582.9 L52.49,582.89 L52.81,582.87 L53.12,582.86 L53.43,582.85 L53.74,582.84 L54.05,582.83 L54.36,582.82 L54.67,582.81 L54.98,582.8 L55.29,582.79 L55.6,582.78 L55.91,582.77 L56.22,582.75 L56.53,582.74 L56.84,582.73 L57.16,582.72 L57.47,582.71 L57.78,582.7 L58.09,582.69 L58.4,582.68 L58.71,582.67 L59.02,582.66 L59.33,582.65 L59.64,582.63 L59.95,582.62 L60.26,582.61 L60.57,582.6 L60.88,582.59 L61.19,582.58 L61.51,582.57 L61.82,582.56 L62.13,582.55 L62.44,582.54 L62.75,582.52 L63.06,582.51 L63.37,582.5 L63.68,582.49 L63.99,582.48 L64.3,582.47 L64.61,582.46 L64.92,582.45 L65.23,582.44 L65.55,582.43 L65.86,582.42 L66.17,582.4 L66.48,582.39 L66.79,582.38 L67.1,582.37 L67.41,582.36 L67.72,582.35 L68.03,582.34 L68.34,582.33 L68.65,582.32 L68.96,582.31 L69.27,582.3 L69.58,582.28 L69.9,582.27 L70.21,582.26 L70.52,582.25 L70.83,582.24 L71.14,582.23 L71.45,582.22 L71.76,582.21 L72.07,582.2 L72.38,582.19 L72.69,582.18 L73,582.16 L73.31,582.15 L73.62,582.14 L73.93,582.13 L74.25,582.12 L74.56,582.11 L74.87,582.1 L75.18,582.09 L75.49,582.08 L75.8,582.07 L76.11,582.05 L76.42,582.04 L76.73,582.03 L77.04,582.02 L77.35,582.01 L77.66,582 L77.97,581.99 L78.28,581.98 L78.6,581.97 L78.91,581.96 L79.22,581.95 L79.53,581.93 L79.84,581.92 L80.15,581.91 L80.46,581.9 L80.77,581.89 L81.08,581.88 L81.39,581.87 L81.7,581.86 L82.01,581.85 L82.32,581.84 L82.64,581.83 L82.95,581.81 L83.26,581.8 L83.57,581.79 L83.88,581.78 L84.19,581.77 L84.5,581.76 L84.81,581.75 L85.12,581.74 L85.43,581.73 L85.74,581.72 L86.05,581.71 L86.36,581.69 L86.67,581.68 L86.99,581.67 L87.3,581.66 L87.61,581.65 L87.92,581.64 L88.23,581.63 L88.54,581.62 L88.85,581.61 L89.16,581.6 L89.47,581.59 L89.78,581.57 L90.09,581.56 L90.4,581.55 L90.71,581.54 L91.02,581.53 L91.34,581.52 L91.65,581.51 L91.96,581.5 L92.27,581.49 L92.58,581.48 L92.89,581.46 L93.2,581.45 L93.51,581.44 L93.82,581.43 L94.13,581.42 L94.44,581.41 L94.75,581.4 L95.06,581.39 L95.38,581.38 L95.69,581.37 L96,581.36 L96.31,581.34 L96.62,581.33 L96.93,581.32 L97.24,581.31 L97.55,581.3 L97.86,581.29 L98.17,581.28 L98.48,581.27 L98.79,581.26 L99.1,581.25 L99.41,581.24 L99.73,581.22 L100.04,581.21 L100.35,581.2 L100.66,581.19 L100.97,581.18 L101.28,581.17 L101.59,581.16 L101.9,581.15 L102.21,581.14 L102.52,581.13 L102.83,581.12 L103.14,581.1 L103.45,581.09 L103.76,581.08 L104.08,581.07 L104.39,581.06 L104.7,581.05 L105.01,581.04 L105.32,581.03 L105.63,581.02 L105.94,581.01 L106.25,580.99 L106.56,580.98 L106.87,580.97 L107.18,580.96 L107.49,580.95 L107.8,580.94 L108.12,580.93 L108.43,580.92 L108.74,580.91 L109.05,580.9 L109.36,580.89 L109.67,580.87 L109.98,580.86 L110.29,580.85 L110.6,580.84 L110.91,580.83 L111.22,580.82 L111.53,580.81 L111.84,580.8 L112.15,580.79 L112.47,580.78 L112.78,580.77 L113.09,580.75 L113.4,580.74 L113.71,580.73 L114.02,580.72 L114.33,580.71 L114.64,580.7 L114.95,580.69 L115.26,580.68 L115.57,580.67 L115.88,580.66 L116.19,580.65 L116.5,580.63 L116.82,580.62 L117.13,580.61 L117.44,580.6 L117.75,580.59 L118.06,580.58 L118.37,580.57 L118.68,580.56 L118.99,580.55 L119.3,580.54 L119.61,580.53 L119.92,580.51 L120.23,580.5 L120.54,580.49 L120.85,580.48 L121.17,580.47 L121.48,580.46 L121.79,580.45 L122.1,580.44 L122.41,580.43 L122.72,580.42 L123.03,580.4 L123.34,580.39 L123.65,580.38 L123.96,580.37 L124.27,580.36 L124.58,580.35 L124.89,580.34 L125.21,580.33 L125.52,580.32 L125.83,580.31 L126.14,580.3 L126.45,580.28 L126.76,580.27 L127.07,580.26 L127.38,580.25 L127.69,580.24 L128,580.23 L128.31,580.22 L128.62,580.21 L128.93,580.2 L129.24,580.19 L129.56,580.18 L129.87,580.16 L130.18,580.15 L130.49,580.14 L130.8,580.13 L131.11,580.12 L131.42,580.11 L131.73,580.1 L132.04,580.09 L132.35,580.08 L132.66,580.07 L132.97,580.06 L133.28,580.04 L133.59,580.03 L133.91,580.02 L134.22,580.01 L134.53,580 L134.84,579.99 L135.15,579.98 L135.46,579.97 L135.77,579.96 L136.08,579.95 L136.39,579.94 L136.7,579.92 L137.01,579.91 L137.32,579.9 L137.63,579.89 L137.95,579.88 L138.26,579.87 L138.57,579.86 L138.88,579.85 L139.19,579.84 L139.5,579.83 L139.81,579.81 L140.12,579.8 L140.43,579.79 L140.74,579.78 L141.05,579.77 L141.36,579.76 L141.67,579.75 L141.98,579.74 L142.3,579.73 L142.61,579.72 L142.92,579.71 L143.23,579.69 L143.54,579.68 L143.85,579.67 L144.16,579.66 L144.47,579.65 L144.78,579.64 L145.09,579.63 L145.4,579.62 L145.71,579.61 L146.02,579.6 L146.33,579.59 L146.65,579.57 L146.96,579.56 L147.27,579.55 L147.58,579.54 L147.89,579.53 L148.2,579.52 L148.51,579.51 L148.82,579.5 L149.13,579.49 L149.44,579.48 L149.75,579.47 L150.06,579.45 L150.37,579.44 L150.68,579.43 L151,579.42 L151.31,579.41 L151.62,579.4 L151.93,579.39 L152.24,579.38 L152.55,579.37 L152.86,579.36 L153.17,579.34 L153.48,579.33 L153.79,579.32 L154.1,579.31 L154.41,579.3 L154.72,579.29 L155.04,579.28 L155.35,579.27 L155.66,579.26 L155.97,579.25 L156.28,579.24 L156.59,579.22 L156.9,579.21 L157.21,579.2 L157.52,579.19 L157.83,579.18 L158.14,579.17 L158.45,579.16 L158.76,579.15 L159.07,579.14 L159.39,579.13 L159.7,579.12 L160.01,579.1 L160.32,579.09 L160.63,579.08 L160.94,579.07 L161.25,579.06 L161.56,579.05 L161.87,579.04 L162.18,579.03 L162.49,579.02 L162.8,579.01 L163.11,579 L163.42,578.98 L163.74,578.97 L164.05,578.96 L164.36,578.95 L164.67,578.94 L164.98,578.93 L165.29,578.92 L165.6,578.91 L165.91,578.9 L166.22,578.89 L166.53,578.88 L166.84,578.86 L167.15,578.85 L167.46,578.84 L167.78,578.83 L168.09,578.82 L168.4,578.81 L168.71,578.8 L169.02,578.79 L169.33,578.78 L169.64,578.77 L169.95,578.75 L170.26,578.74 L170.57,578.73 L170.88,578.72 L171.19,578.71 L171.5,578.7 L171.81,578.69 L172.13,578.68 L172.44,578.67 L172.75,578.66 L173.06,578.65 L173.37,578.63 L173.68,578.62 L173.99,578.61 L174.3,578.6 L174.61,578.59 L174.92,578.58 L175.23,578.57 L175.54,578.56 L175.85,578.55 L176.16,578.54 L176.48,578.53 L176.79,578.51 L177.1,578.5 L177.41,578.49 L177.72,578.48 L178.03,578.47 L178.34,578.46 L178.65,578.45 L178.96,578.44 L179.27,578.43 L179.58,578.42 L179.89,578.41 L180.2,578.39 L180.52,578.38 L180.83,578.37 L181.14,578.36 L181.45,578.35 L181.76,578.34 L182.07,578.33 L182.38,578.32 L182.69,578.31 L183,578.3 L183.31,578.28 L183.62,578.27 L183.93,578.26 L184.24,578.25 L184.55,578.24 L184.87,578.23 L185.18,578.22 L185.49,578.21 L185.8,578.2 L186.11,578.19 L186.42,578.18 L186.73,578.16 L187.04,578.15 L187.35,578.14 L187.66,578.13 L187.97,578.12 L188.28,578.11 L188.59,578.1 L188.9,578.09 L189.22,578.08 L189.53,578.07 L189.84,578.06 L190.15,578.04 L190.46,578.03 L190.77,578.02 L191.08,578.01 L191.39,578 L191.7,577.99 L192.01,577.98 L192.32,577.97 L192.63,577.96 L192.94,577.95 L193.25,577.94 L193.57,577.92 L193.88,577.91 L194.19,577.9 L194.5,577.89 L194.81,577.88 L195.12,577.87 L195.43,577.86 L195.74,577.85 L196.05,577.84 L196.36,577.83 L196.67,577.82 L196.98,577.8 L197.29,577.79 L197.61,577.78 L197.92,577.77 L198.23,577.76 L198.54,577.75 L198.85,577.74 L199.16,577.73 L199.47,577.72 L199.78,577.71 L200.09,577.69 L200.4,577.68 L200.71,577.67 L201.02,577.66 L201.33,577.65 L201.64,577.64 L201.96,577.63 L202.27,577.62 L202.58,577.61 L202.89,577.6 L203.2,577.59 L203.51,577.57 L203.82,577.56 L204.13,577.55 L204.44,577.54 L204.75,577.53 L205.06,577.52 L205.37,577.51 L205.68,577.5 L205.99,577.49 L206.31,577.48 L206.62,577.47 L206.93,577.45 L207.24,577.44 L207.55,577.43 L207.86,577.42 L208.17,577.41 L208.48,577.4 L208.79,577.39 L209.1,577.38 L209.41,577.37 L209.72,577.36 L210.03,577.35 L210.35,577.33 L210.66,577.32 L210.97,577.31 L211.28,577.3 L211.59,577.29 L211.9,577.28 L212.21,577.27 L212.52,577.26 L212.83,577.25 L213.14,577.24 L213.45,577.23 L213.76,577.21 L214.07,577.2 L214.38,577.19 L214.7,577.18 L215.01,577.17 L215.32,577.16 L215.63,577.15 L215.94,577.14 L216.25,577.13 L216.56,577.12 L216.87,577.1 L217.18,577.09 L217.49,577.08 L217.8,577.07 L218.11,577.06 L218.42,577.05 L218.73,577.04 L219.05,577.03 L219.36,577.02 L219.67,577.01 L219.98,577 L220.29,576.98 L220.6,576.97 L220.91,576.96 L221.22,576.95 L221.53,576.94 L221.84,576.93 L222.15,576.92 L222.46,576.91 L222.77,576.9 L223.08,576.89 L223.4,576.88 L223.71,576.86 L224.02,576.85 L224.33,576.84 L224.64,576.83 L224.95,576.82 L225.26,576.81 L225.57,576.8 L225.88,576.79 L226.19,576.78 L226.5,576.77 L226.81,576.76 L227.12,576.74 L227.44,576.73 L227.75,576.72 L228.06,576.71 L228.37,576.7 L228.68,576.69 L228.99,576.68 L229.3,576.67 L229.61,576.66 L229.92,576.65 L230.23,576.63 L230.54,576.62 L230.85,576.61 L231.16,576.6 L231.47,576.59 L231.79,576.58 L232.1,576.57 L232.41,576.56 L232.72,576.55 L233.03,576.54 L233.34,576.53 L233.65,576.51 L233.96,576.5 L234.27,576.49 L234.58,576.48 L234.89,576.47 L235.2,576.46 L235.51,576.45 L235.82,576.44 L236.14,576.43 L236.45,576.42 L236.76,576.41 L237.07,576.39 L237.38,576.38 L237.69,576.37 L238,576.36" fill="none" stroke="#b0b0b0" stroke-width="1.0" stroke-linejoin="round" />
<path d="M20.8,584 L21.11,583.99 L21.42,583.98 L21.73,583.97 L22.04,583.96 L22.35,583.95 L22.66,583.93 L22.98,583.92 L23.29,583.91 L23.6,583.9 L23.91,583.89 L24.22,583.88 L24.53,583.87 L24.84,583.86 L25.15,583.85 L25.46,583.84 L25.77,583.83 L26.08,583.81 L26.39,583.8 L26.7,583.79 L27.01,583.78 L27.33,583.77 L27.64,583.76 L27.95,583.75 L28.26,583.74 L28.57,583.73 L28.88,583.72 L29.19,583.7 L29.5,583.69 L29.81,583.68 L30.12,583.67 L30.43,583.66 L30.74,583.65 L31.05,583.64 L31.36,583.63 L31.68,583.62 L31.99,583.61 L32.3,583.6 L32.61,583.58 L32.92,583.57 L33.23,583.56 L33.54,583.55 L33.85,583.54 L34.16,583.53 L34.47,583.52 L34.78,583.51 L35.09,583.5 L35.4,583.49 L35.72,583.48 L36.03,583.46 L36.34,583.45 L36.65,583.44 L36.96,583.43 L37.27,583.42 L37.58,583.41 L37.89,583.4 L38.2,583.39 L38.51,583.38 L38.82,583.37 L39.13,583.36 L39.44,583.34 L39.75,583.33 L40.07,583.32 L40.38,583.31 L40.69,583.3 L41,583.29 L41.31,583.28 L41.62,583.27 L41.93,583.26 L42.24,583.25 L42.55,583.24 L42.86,583.22 L43.17,583.21 L43.48,583.2 L43.79,583.19 L44.1,583.18 L44.42,583.17 L44.73,583.16 L45.04,583.15 L45.35,583.14 L45.66,583.13 L45.97,583.11 L46.28,583.1 L46.59,583.09 L46.9,583.08 L47.21,583.07 L47.52,583.06 L47.83,583.05 L48.14,583.04 L48.45,583.03 L48.77,583.02 L49.08,583.01 L49.39,582.99 L49.7,582.98 L50.01,582.97 L50.32,582.96 L50.63,582.95 L50.94,582.94 L51.25,582.93 L51.56,582.92 L51.87,582.91 L52.18,582.9 L52.49,582.89 L52.81,582.87 L53.12,582.86 L53.43,582.85 L53.74,582.84 L54.05,582.83 L54.36,582.82 L54.67,582.81 L54.98,582.8 L55.29,582.79 L55.6,582.78 L55.91,582.77 L56.22,582.75 L56.53,582.74 L56.84,582.73 L57.16,582.72 L57.47,582.71 L57.78,582.7 L58.09,582.69 L58.4,582.68 L58.71,582.67 L59.02,582.66 L59.33,582.65 L59.64,582.63 L59.95,582.62 L60.26,582.61 L60.57,582.6 L60.88,582.59 L61.19,582.58 L61.51,582.57 L61.82,582.56 L62.13,582.55 L62.44,582.54 L62.75,582.52 L63.06,582.51 L63.37,582.5 L63.68,582.49 L63.99,582.48 L64.3,582.47 L64.61,582.46 L64.92,582.45 L65.23,582.44 L65.55,582.43 L65.86,582.42 L66.17,582.4 L66.48,582.39 L66.79,582.38 L67.1,582.37 L67.41,582.36 L67.72,582.35 L68.03,582.34 L68.34,582.33 L68.65,582.32 L68.96,582.31 L69.27,582.3 L69.58,582.28 L69.9,582.27 L70.21,582.26 L70.52,582.25 L70.83,582.24 L71.14,582.23 L71.45,582.22 L71.76,582.21 L72.07,582.2 L72.38,582.19 L72.69,582.18 L73,582.16 L73.31,582.15 L73.62,582.14 L73.93,582.13 L74.25,582.12 L74.56,582.11 L74.87,582.1 L75.18,582.09 L75.49,582.08 L75.8,582.07 L76.11,582.05 L76.42,582.04 L76.73,582.03 L77.04,582.02 L77.35,582.01 L77.66,582 L77.97,581.99 L78.28,581.98 L78.6,581.97 L78.91,581.96 L79.22,581.95 L79.53,581.93 L79.84,581.92 L80.15,581.91 L80.46,581.9 L80.77,581.89 L81.08,581.88 L81.39,581.87 L81.7,581.86 L82.01,581.85 L82.32,581.84 L82.64,581.83 L82.95,581.81 L83.26,581.8 L83.57,581.79 L83.88,581.78 L84.19,581.77 L84.5,581.76 L84.81,581.75 L85.12,581.74 L85.43,581.73 L85.74,581.72 L86.05,581.71 L86.36,581.69 L86.67,581.68 L86.99,581.67 L87.3,581.66 L87.61,581.65 L87.92,581.64 L88.23,581.63 L88.54,581.62 L88.85,581.61 L89.16,581.6 L89.47,581.59 L89.78,581.57 L90.09,581.56 L90.4,581.55 L90.71,581.54 L91.02,581.53 L91.34,581.52 L91.65,581.51 L91.96,581.5 L92.27,581.49 L92.58,581.48 L92.89,581.46 L93.2,581.45 L93.51,581.44 L93.82,581.43 L94.13,581.42 L94.44,581.41 L94.75,581.4 L95.06,581.39 L95.38,581.38 L95.69,581.37 L96,581.36 L96.31,581.34 L96.62,581.33 L96.93,581.32 L97.24,581.31 L97.55,581.3 L97.86,581.29 L98.17,581.28 L98.48,581.27 L98.79,581.26 L99.1,581.25 L99.41,581.24 L99.73,581.22 L100.04,581.21 L100.35,581.2 L100.66,581.19 L100.97,581.18 L101.28,581.17 L101.59,581.16 L101.9,581.15 L102.21,581.14 L102.52,581.13 L102.83,581.12 L103.14,581.1 L103.45,581.09 L103.76,581.08 L104.08,581.07 L104.39,581.06 L104.7,581.05 L105.01,581.04 L105.32,581.03 L105.63,581.02 L105.94,581.01 L106.25,580.99 L106.56,580.98 L106.87,580.97 L107.18,580.96 L107.49,580.95 L107.8,580.94 L108.12,580.93 L108.43,580.92 L108.74,580.91 L109.05,580.9 L109.36,580.89 L109.67,580.87 L109.98,580.86 L110.29,580.85 L110.6,580.84 L110.91,580.83 L111.22,580.82 L111.53,580.81 L111.84,580.8 L112.15,580.79 L112.47,580.78 L112.78,580.77 L113.09,580.75 L113.4,580.74 L113.71,580.73 L114.02,580.72 L114.33,580.71 L114.64,580.7 L114.95,580.69 L115.26,580.68 L115.57,580.67 L115.88,580.66 L116.19,580.65 L116.5,580.63 L116.82,580.62 L117.13,580.61 L117.44,580.6 L117.75,580.59 L118.06,580.58 L118.37,580.57 L118.68,580.56 L118.99,580.55 L119.3,580.54 L119.61,580.53 L119.92,580.51 L120.23,580.5 L120.54,580.49 L120.85,580.48 L121.17,580.47 L121.48,580.46 L121.79,580.45 L122.1,580.44 L122.41,580.43 L122.72,580.42 L123.03,580.4 L123.34,580.39 L123.65,580.38 L123.96,580.37 L124.27,580.36 L124.58,580.35 L124.89,580.34 L125.21,580.33 L125.52,580.32 L125.83,580.31 L126.14,580.3 L126.45,580.28 L126.76,580.27 L127.07,580.26 L127.38,580.25 L127.69,580.24 L128,580.23 L128.31,580.22 L128.62,580.21 L128.93,580.2 L129.24,580.19 L129.56,580.18 L129.87,580.16 L130.18,580.15 L130.49,580.14 L130.8,580.13 L131.11,580.12 L131.42,580.11 L131.73,580.1 L132.04,580.09 L132.35,580.08 L132.66,580.07 L132.97,580.06 L133.28,580.04 L133.59,580.03 L133.91,580.02 L134.22,580.01 L134.53,580 L134.84,579.99 L135.15,579.98 L135.46,579.97 L135.77,579.96 L136.08,579.95 L136.39,579.94 L136.7,579.92 L137.01,579.91 L137.32,579.9 L137.63,579.89 L137.95,579.88 L138.26,579.87 L138.57,579.86 L138.88,579.85 L139.19,579.84 L139.5,579.83 L139.81,579.81 L140.12,579.8 L140.43,579.79 L140.74,579.78 L141.05,579.77 L141.36,579.76 L141.67,579.75 L141.98,579.74 L142.3,579.73 L142.61,579.72 L142.92,579.71 L143.23,579.69 L143.54,579.68 L143.85,579.67 L144.16,579.66 L144.47,579.65 L144.78,579.64 L145.09,579.63 L145.4,579.62 L145.71,579.61 L146.02,579.6 L146.33,579.59 L146.65,579.57 L146.96,579.56 L147.27,579.55 L147.58,579.54 L147.89,579.53 L148.2,579.52 L148.51,579.51 L148.82,579.5 L149.13,579.49 L149.44,579.48 L149.75,579.47 L150.06,579.45 L150.37,579.44 L150.68,579.43 L151,579.42 L151.31,579.41 L151.62,579.4 L151.93,579.39 L152.24,579.38 L152.55,579.37 L152.86,579.36 L153.17,579.34 L153.48,579.33 L153.79,579.32 L154.1,579.31 L154.41,579.3 L154.72,579.29 L155.04,579.28 L155.35,579.27 L155.66,579.26 L155.97,579.25 L156.28,579.24 L156.59,579.22 L156.9,579.21 L157.21,579.2 L157.52,579.19 L157.83,579.18 L158.14,579.17 L158.45,579.16 L158.76,579.15 L159.07,579.14 L159.39,579.13 L159.7,579.12 L160.01,579.1 L160.32,579.09 L160.63,579.08 L160.94,579.07 L161.25,579.06 L161.56,579.05 L161.87,579.04 L162.18,579.03 L162.49,579.02 L162.8,579.01 L163.11,579 L163.42,578.98 L163.74,578.97 L164.05,578.96 L164.36,578.95 L164.67,578.94 L164.98,578.93 L165.29,578.92 L165.6,578.91 L165.91,578.9 L166.22,578.89 L166.53,578.88 L166.84,578.86 L167.15,578.85 L167.46,578.84 L167.78,578.83 L168.09,578.82 L168.4,578.81 L168.71,578.8 L169.02,578.79 L169.33,578.78 L169.64,578.77 L169.95,578.75 L170.26,578.74 L170.57,578.73 L170.88,578.72 L171.19,578.71 L171.5,578.7 L171.81,578.69 L172.13,578.68 L172.44,578.67 L172.75,578.66 L173.06,578.65 L173.37,578.63 L173.68,578.62 L173.99,578.61 L174.3,578.6 L174.61,578.59 L174.92,578.58 L175.23,578.57 L175.54,578.56 L175.85,578.55 L176.16,578.54 L176.48,578.53 L176.79,578.51 L177.1,578.5 L177.41,578.49 L177.72,578.48 L178.03,578.47 L178.34,578.46 L178.65,578.45 L178.96,578.44 L179.27,578.43 L179.58,578.42 L179.89,578.41 L180.2,578.39 L180.52,578.38 L180.83,578.37 L181.14,578.36 L181.45,578.35 L181.76,578.34 L182.07,578.33 L182.38,578.32 L182.69,578.31 L183,578.3 L183.31,578.28 L183.62,578.27 L183.93,578.26 L184.24,578.25 L184.55,578.24 L184.87,578.23 L185.18,578.22 L185.49,578.21 L185.8,578.2 L186.11,578.19 L186.42,578.18 L186.73,578.16 L187.04,578.15 L187.35,578.14 L187.66,578.13 L187.97,578.12 L188.28,578.11 L188.59,578.1 L188.9,578.09 L189.22,578.08 L189.53,578.07 L189.84,578.06 L190.15,578.04 L190.46,578.03 L190.77,578.02 L191.08,578.01 L191.39,578 L191.7,577.99 L192.01,577.98 L192.32,577.97 L192.63,577.96 L192.94,577.95 L193.25,577.94 L193.57,577.92 L193.88,577.91 L194.19,577.9 L194.5,577.89 L194.81,577.88 L195.12,577.87 L195.43,577.86 L195.74,577.85 L196.05,577.84 L196.36,577.83 L196.67,577.82 L196.98,577.8 L197.29,577.79 L197.61,577.78 L197.92,577.77 L198.23,577.76 L198.54,577.75 L198.85,577.74 L199.16,577.73 L199.47,577.72 L199.78,577.71 L200.09,577.69 L200.4,577.68 L200.71,577.67 L201.02,577.66 L201.33,577.65 L201.64,577.64 L201.96,577.63 L202.27,577.62 L202.58,577.61 L202.89,577.6 L203.2,577.59 L203.51,577.57 L203.82,577.56 L204.13,577.55 L204.44,577.54 L204.75,577.53 L205.06,577.52 L205.37,577.51 L205.68,577.5 L205.99,577.49 L206.31,577.48 L206.62,577.47 L206.93,577.45 L207.24,577.44 L207.55,577.43 L207.86,577.42 L208.17,577.41 L208.48,577.4 L208.79,577.39 L209.1,577.38 L209.41,577.37 L209.72,577.36 L210.03,577.35 L210.35,577.33 L210.66,577.32 L210.97,577.31 L211.28,577.3 L211.59,577.29 L211.9,577.28 L212.21,577.27 L212.52,577.26 L212.83,577.25 L213.14,577.24 L213.45,577.23 L213.76,577.21 L214.07,577.2 L214.38,577.19 L214.7,577.18 L215.01,577.17 L215.32,577.16 L215.63,577.15 L215.94,577.14 L216.25,577.13 L216.56,577.12 L216.87,577.1 L217.18,577.09 L217.49,577.08 L217.8,577.07 L218.11,577.06 L218.42,577.05 L218.73,577.04 L219.05,577.03 L219.36,577.02 L219.67,577.01 L219.98,577 L220.29,576.98 L220.6,576.97 L220.91,576.96 L221.22,576.95 L221.53,576.94 L221.84,576.93 L222.15,576.92 L222.46,576.91 L222.77,576.9 L223.08,576.89 L223.4,576.88 L223.71,576.86 L224.02,576.85 L224.33,576.84 L224.64,576.83 L224.95,576.82 L225.26,576.81 L225.57,576.8 L225.88,576.79 L226.19,576.78 L226.5,576.77 L226.81,576.76 L227.12,576.74 L227.44,576.73 L227.75,576.72 L228.06,576.71 L228.37,576.7 L228.68,576.69 L228.99,576.68 L229.3,576.67 L229.61,576.66 L229.92,576.65 L230.23,576.63 L230.54,576.62 L230.85,576.61 L231.16,576.6 L231.47,576.59 L231.79,576.58 L232.1,576.57 L232.41,576.56 L232.72,576.55 L233.03,576.54 L233.34,576.53 L233.65,576.51 L233.96,576.5 L234.27,576.49 L234.58,576.48 L234.89,576.47 L235.2,576.46 L235.51,576.45 L235.82,576.44 L236.14,576.43 L236.45,576.42 L236.76,576.41 L237.07,576.39 L237.38,576.38 L237.69,576.37 L238,576.36" fill="none" stroke="#5b9bd5" stroke-width="2.2" stroke-dasharray="0.01 4.4" stroke-linejoin="round" stroke-linecap="round"/>
<path d="M20.8,584 L21.11,583.99 L21.42,583.98 L21.73,583.97 L22.04,583.96 L22.35,583.95 L22.66,583.93 L22.98,583.92 L23.29,583.91 L23.6,583.9 L23.91,583.89 L24.22,583.88 L24.53,583.87 L24.84,583.86 L25.15,583.85 L25.46,583.84 L25.77,583.83 L26.08,583.81 L26.39,583.8 L26.7,583.79 L27.01,583.78 L27.33,583.77 L27.64,583.76 L27.95,583.75 L28.26,583.74 L28.57,583.73 L28.88,583.72 L29.19,583.7 L29.5,583.69 L29.81,583.68 L30.12,583.67 L30.43,583.66 L30.74,583.65 L31.05,583.64 L31.36,583.63 L31.68,583.62 L31.99,583.61 L32.3,583.6 L32.61,583.58 L32.92,583.57 L33.23,583.56 L33.54,583.55 L33.85,583.54 L34.16,583.53 L34.47,583.52 L34.78,583.51 L35.09,583.5 L35.4,583.49 L35.72,583.48 L36.03,583.46 L36.34,583.45 L36.65,583.44 L36.96,583.43 L37.27,583.42 L37.58,583.41 L37.89,583.4 L38.2,583.39 L38.51,583.38 L38.82,583.37 L39.13,583.36 L39.44,583.34 L39.75,583.33 L40.07,583.32 L40.38,583.31 L40.69,583.3 L41,583.29 L41.31,583.28 L41.62,583.27 L41.93,583.26 L42.24,583.25 L42.55,583.24 L42.86,583.22 L43.17,583.21 L43.48,583.2 L43.79,583.19 L44.1,583.18 L44.42,583.17 L44.73,583.16 L45.04,583.15 L45.35,583.14 L45.66,583.13 L45.97,583.11 L46.28,583.1 L46.59,583.09 L46.9,583.08 L47.21,583.07 L47.52,583.06 L47.83,583.05 L48.14,583.04 L48.45,583.03 L48.77,583.02 L49.08,583.01 L49.39,582.99 L49.7,582.98 L50.01,582.97 L50.32,582.96 L50.63,582.95 L50.94,582.94 L51.25,582.93 L51.56,582.92 L51.87,582.91 L52.18,582.9 L52.49,582.89 L52.81,582.87 L53.12,582.86 L53.43,582.85 L53.74,582.84 L54.05,582.83 L54.36,582.82 L54.67,582.81 L54.98,582.8 L55.29,582.79 L55.6,582.78 L55.91,582.77 L56.22,582.75 L56.53,582.74 L56.84,582.73 L57.16,582.72 L57.47,582.71 L57.78,582.7 L58.09,582.69 L58.4,582.68 L58.71,582.67 L59.02,582.66 L59.33,582.65 L59.64,582.63 L59.95,582.62 L60.26,582.61 L60.57,582.6 L60.88,582.59 L61.19,582.58 L61.51,582.57 L61.82,582.56 L62.13,582.55 L62.44,582.54 L62.75,582.52 L63.06,582.51 L63.37,582.5 L63.68,582.49 L63.99,582.48 L64.3,582.47 L64.61,582.46 L64.92,582.45 L65.23,582.44 L65.55,582.43 L65.86,582.42 L66.17,582.4 L66.48,582.39 L66.79,582.38 L67.1,582.37 L67.41,582.36 L67.72,582.35 L68.03,582.34 L68.34,582.33 L68.65,582.32 L68.96,582.31 L69.27,582.3 L69.58,582.28 L69.9,582.27 L70.21,582.26 L70.52,582.25 L70.83,582.24 L71.14,582.23 L71.45,582.22 L71.76,582.21 L72.07,582.2 L72.38,582.19 L72.69,582.18 L73,582.16 L73.31,582.15 L73.62,582.14 L73.93,582.13 L74.25,582.12 L74.56,582.11 L74.87,582.1 L75.18,582.09 L75.49,582.08 L75.8,582.07 L76.11,582.05 L76.42,582.04 L76.73,582.03 L77.04,582.02 L77.35,582.01 L77.66,582 L77.97,581.99 L78.28,581.98 L78.6,581.97 L78.91,581.96 L79.22,581.95 L79.53,581.93 L79.84,581.92 L80.15,581.91 L80.46,581.9 L80.77,581.89 L81.08,581.88 L81.39,581.87 L81.7,581.86 L82.01,581.85 L82.32,581.84 L82.64,581.83 L82.95,581.81 L83.26,581.8 L83.57,581.79 L83.88,581.78 L84.19,581.77 L84.5,581.76 L84.81,581.75 L85.12,581.74 L85.43,581.73 L85.74,581.72 L86.05,581.71 L86.36,581.69 L86.67,581.68 L86.99,581.67 L87.3,581.66 L87.61,581.65 L87.92,581.64 L88.23,581.63 L88.54,581.62 L88.85,581.61 L89.16,581.6 L89.47,581.59 L89.78,581.57 L90.09,581.56 L90.4,581.55 L90.71,581.54 L91.02,581.53 L91.34,581.52 L91.65,581.51 L91.96,581.5 L92.27,581.49 L92.58,581.48 L92.89,581.46 L93.2,581.45 L93.51,581.44 L93.82,581.43 L94.13,581.42 L94.44,581.41 L94.75,581.4 L95.06,581.39 L95.38,581.38 L95.69,581.37 L96,581.36 L96.31,581.34 L96.62,581.33 L96.93,581.32 L97.24,581.31 L97.55,581.3 L97.86,581.29 L98.17,581.28 L98.48,581.27 L98.79,581.26 L99.1,581.25 L99.41,581.24 L99.73,581.22 L100.04,581.21 L100.35,581.2 L100.66,581.19 L100.97,581.18 L101.28,581.17 L101.59,581.16 L101.9,581.15 L102.21,581.14 L102.52,581.13 L102.83,581.12 L103.14,581.1 L103.45,581.09 L103.76,581.08 L104.08,581.07 L104.39,581.06 L104.7,581.05 L105.01,581.04 L105.32,581.03 L105.63,581.02 L105.94,581.01 L106.25,580.99 L106.56,580.98 L106.87,580.97 L107.18,580.96 L107.49,580.95 L107.8,580.94 L108.12,580.93 L108.43,580.92 L108.74,580.91 L109.05,580.9 L109.36,580.89 L109.67,580.87 L109.98,580.86 L110.29,580.85 L110.6,580.84 L110.91,580.83 L111.22,580.82 L111.53,580.81 L111.84,580.8 L112.15,580.79 L112.47,580.78 L112.78,580.77 L113.09,580.75 L113.4,580.74 L113.71,580.73 L114.02,580.72 L114.33,580.71 L114.64,580.7 L114.95,580.69 L115.26,580.68 L115.57,580.67 L115.88,580.66 L116.19,580.65 L116.5,580.63 L116.82,580.62 L117.13,580.61 L117.44,580.6 L117.75,580.59 L118.06,580.58 L118.37,580.57 L118.68,580.56 L118.99,580.55 L119.3,580.54 L119.61,580.53 L119.92,580.51 L120.23,580.5 L120.54,580.49 L120.85,580.48 L121.17,580.47 L121.48,580.46 L121.79,580.45 L122.1,580.44 L122.41,580.43 L122.72,580.42 L123.03,580.4 L123.34,580.39 L123.65,580.38 L123.96,580.37 L124.27,580.36 L124.58,580.35 L124.89,580.34 L125.21,580.33 L125.52,580.32 L125.83,580.31 L126.14,580.3 L126.45,580.28 L126.76,580.27 L127.07,580.26 L127.38,580.25 L127.69,580.24 L128,580.23 L128.31,580.22 L128.62,580.21 L128.93,580.2 L129.24,580.19 L129.56,580.18 L129.87,580.16 L130.18,580.15 L130.49,580.14 L130.8,580.13 L131.11,580.12 L131.42,580.11 L131.73,580.1 L132.04,580.09 L132.35,580.08 L132.66,580.07 L132.97,580.06 L133.28,580.04 L133.59,580.03 L133.91,580.02 L134.22,580.01 L134.53,580 L134.84,579.99 L135.15,579.98 L135.46,579.97 L135.77,579.96 L136.08,579.95 L136.39,579.94 L136.7,579.92 L137.01,579.91 L137.32,579.9 L137.63,579.89 L137.95,579.88 L138.26,579.87 L138.57,579.86 L138.88,579.85 L139.19,579.84 L139.5,579.83 L139.81,579.81 L140.12,579.8 L140.43,579.79 L140.74,579.78 L141.05,579.77 L141.36,579.76 L141.67,579.75 L141.98,579.74 L142.3,579.73 L142.61,579.72 L142.92,579.71 L143.23,579.69 L143.54,579.68 L143.85,579.67 L144.16,579.66 L144.47,579.65 L144.78,579.64 L145.09,579.63 L145.4,579.62 L145.71,579.61 L146.02,579.6 L146.33,579.59 L146.65,579.57 L146.96,579.56 L147.27,579.55 L147.58,579.54 L147.89,579.53 L148.2,579.52 L148.51,579.51 L148.82,579.5 L149.13,579.49 L149.44,579.48 L149.75,579.47 L150.06,579.45 L150.37,579.44 L150.68,579.43 L151,579.42 L151.31,579.41 L151.62,579.4 L151.93,579.39 L152.24,579.38 L152.55,579.37 L152.86,579.36 L153.17,579.34 L153.48,579.33 L153.79,579.32 L154.1,579.31 L154.41,579.3 L154.72,579.29 L155.04,579.28 L155.35,579.27 L155.66,579.26 L155.97,579.25 L156.28,579.24 L156.59,579.22 L156.9,579.21 L157.21,579.2 L157.52,579.19 L157.83,579.18 L158.14,579.17 L158.45,579.16 L158.76,579.15 L159.07,579.14 L159.39,579.13 L159.7,579.11 L160.01,579.1 L160.32,579.09 L160.63,579.08 L160.94,579.07 L161.25,579.06 L161.56,579.05 L161.87,579.04 L162.18,579.03 L162.49,579.01 L162.8,579 L163.11,578.99 L163.42,578.98 L163.74,578.97 L164.05,578.96 L164.36,578.94 L164.67,578.93 L164.98,578.92 L165.29,578.91 L165.6,578.89 L165.91,578.88 L166.22,578.87 L166.53,578.85 L166.84,578.84 L167.15,578.82 L167.46,578.81 L167.78,578.79 L168.09,578.77 L168.4,578.75 L168.71,578.73 L169.02,578.71 L169.33,578.69 L169.64,578.67 L169.95,578.64 L170.26,578.62 L170.57,578.59 L170.88,578.56 L171.19,578.52 L171.5,578.49 L171.81,578.45 L172.13,578.4 L172.44,578.36 L172.75,578.31 L173.06,578.25 L173.37,578.19 L173.68,578.12 L173.99,578.05 L174.3,577.97 L174.61,577.88 L174.92,577.79 L175.23,577.69 L175.54,577.57 L175.85,577.45 L176.16,577.31 L176.48,577.17 L176.79,577.01 L177.1,576.83 L177.41,576.64 L177.72,576.43 L178.03,576.21 L178.34,575.97 L178.65,575.7 L178.96,575.42 L179.27,575.11 L179.58,574.78 L179.89,574.42 L180.2,574.04 L180.52,573.63 L180.83,573.18 L181.14,572.71 L181.45,572.2 L181.76,571.66 L182.07,571.08 L182.38,570.46 L182.69,569.8 L183,569.1 L183.31,568.36 L183.62,567.58 L183.93,566.75 L184.24,565.88 L184.55,564.96 L184.87,563.99 L185.18,562.97 L185.49,561.9 L185.8,560.79 L186.11,559.62 L186.42,558.4 L186.73,557.13 L187.04,555.82 L187.35,554.45 L187.66,553.03 L187.97,551.57 L188.28,550.06 L188.59,548.51 L188.9,546.91 L189.22,545.27 L189.53,543.59 L189.84,541.87 L190.15,540.12 L190.46,538.35 L190.77,536.54 L191.08,534.71 L191.39,532.86 L191.7,531 L192.01,529.12 L192.32,527.24 L192.63,525.36 L192.94,523.48 L193.25,521.61 L193.57,519.76 L193.88,517.92 L194.19,516.11 L194.5,514.34 L194.81,512.59 L195.12,510.9 L195.43,509.24 L195.74,507.65 L196.05,506.11 L196.36,504.64 L196.67,503.23 L196.98,501.9 L197.29,500.65 L197.61,499.49 L197.92,498.42 L198.23,497.43 L198.54,496.55 L198.85,495.76 L199.16,495.08 L199.47,494.5 L199.78,494.04 L200.09,493.68 L200.4,493.43 L200.71,493.29 L201.02,493.27 L201.33,493.36 L201.64,493.56 L201.96,493.88 L202.27,494.3 L202.58,494.83 L202.89,495.47 L203.2,496.22 L203.51,497.06 L203.82,498 L204.13,499.03 L204.44,500.16 L204.75,501.37 L205.06,502.66 L205.37,504.02 L205.68,505.46 L205.99,506.96 L206.31,508.53 L206.62,510.15 L206.93,511.81 L207.24,513.53 L207.55,515.28 L207.86,517.06 L208.17,518.87 L208.48,520.69 L208.79,522.54 L209.1,524.39 L209.41,526.25 L209.72,528.11 L210.03,529.97 L210.35,531.81 L210.66,533.64 L210.97,535.45 L211.28,537.24 L211.59,539.01 L211.9,540.74 L212.21,542.44 L212.52,544.11 L212.83,545.73 L213.14,547.32 L213.45,548.86 L213.76,550.36 L214.07,551.81 L214.38,553.21 L214.7,554.57 L215.01,555.87 L215.32,557.13 L215.63,558.34 L215.94,559.49 L216.25,560.6 L216.56,561.65 L216.87,562.66 L217.18,563.61 L217.49,564.52 L217.8,565.39 L218.11,566.2 L218.42,566.97 L218.73,567.7 L219.05,568.38 L219.36,569.03 L219.67,569.63 L219.98,570.2 L220.29,570.73 L220.6,571.22 L220.91,571.68 L221.22,572.11 L221.53,572.5 L221.84,572.87 L222.15,573.21 L222.46,573.53 L222.77,573.82 L223.08,574.09 L223.4,574.33 L223.71,574.56 L224.02,574.76 L224.33,574.95 L224.64,575.12 L224.95,575.28 L225.26,575.42 L225.57,575.55 L225.88,575.66 L226.19,575.77 L226.5,575.86 L226.81,575.95 L227.12,576.02 L227.44,576.09 L227.75,576.15 L228.06,576.2 L228.37,576.24 L228.68,576.28 L228.99,576.32 L229.3,576.35 L229.61,576.38 L229.92,576.4 L230.23,576.42 L230.54,576.43 L230.85,576.44 L231.16,576.45 L231.47,576.46 L231.79,576.47 L232.1,576.47 L232.41,576.47 L232.72,576.47 L233.03,576.47 L233.34,576.47 L233.65,576.46 L233.96,576.46 L234.27,576.45 L234.58,576.45 L234.89,576.44 L235.2,576.44 L235.51,576.43 L235.82,576.42 L236.14,576.41 L236.45,576.4 L236.76,576.39 L237.07,576.38 L237.38,576.38 L237.69,576.37 L238,576.36" fill="none" stroke="#3d85c6" stroke-width="2.2" stroke-dasharray="0.01 4.0" stroke-linejoin="round" stroke-linecap="round"/>
<path d="M20.8,584 L21.11,583.99 L21.42,583.98 L21.73,583.97 L22.04,583.96 L22.35,583.95 L22.66,583.93 L22.98,583.92 L23.29,583.91 L23.6,583.9 L23.91,583.89 L24.22,583.88 L24.53,583.87 L24.84,583.86 L25.15,583.85 L25.46,583.84 L25.77,583.83 L26.08,583.81 L26.39,583.8 L26.7,583.79 L27.01,583.78 L27.33,583.77 L27.64,583.76 L27.95,583.75 L28.26,583.74 L28.57,583.73 L28.88,583.72 L29.19,583.7 L29.5,583.69 L29.81,583.68 L30.12,583.67 L30.43,583.66 L30.74,583.65 L31.05,583.64 L31.36,583.63 L31.68,583.62 L31.99,583.61 L32.3,583.6 L32.61,583.58 L32.92,583.57 L33.23,583.56 L33.54,583.55 L33.85,583.54 L34.16,583.53 L34.47,583.52 L34.78,583.51 L35.09,583.5 L35.4,583.49 L35.72,583.48 L36.03,583.46 L36.34,583.45 L36.65,583.44 L36.96,583.43 L37.27,583.42 L37.58,583.41 L37.89,583.4 L38.2,583.39 L38.51,583.38 L38.82,583.37 L39.13,583.36 L39.44,583.34 L39.75,583.33 L40.07,583.32 L40.38,583.31 L40.69,583.3 L41,583.29 L41.31,583.28 L41.62,583.27 L41.93,583.26 L42.24,583.25 L42.55,583.24 L42.86,583.22 L43.17,583.21 L43.48,583.2 L43.79,583.19 L44.1,583.18 L44.42,583.17 L44.73,583.16 L45.04,583.15 L45.35,583.14 L45.66,583.13 L45.97,583.11 L46.28,583.1 L46.59,583.09 L46.9,583.08 L47.21,583.07 L47.52,583.06 L47.83,583.05 L48.14,583.04 L48.45,583.03 L48.77,583.02 L49.08,583.01 L49.39,582.99 L49.7,582.98 L50.01,582.97 L50.32,582.96 L50.63,582.95 L50.94,582.94 L51.25,582.93 L51.56,582.92 L51.87,582.91 L52.18,582.9 L52.49,582.89 L52.81,582.87 L53.12,582.86 L53.43,582.85 L53.74,582.84 L54.05,582.83 L54.36,582.82 L54.67,582.81 L54.98,582.8 L55.29,582.79 L55.6,582.78 L55.91,582.77 L56.22,582.75 L56.53,582.74 L56.84,582.73 L57.16,582.72 L57.47,582.71 L57.78,582.7 L58.09,582.69 L58.4,582.68 L58.71,582.67 L59.02,582.66 L59.33,582.65 L59.64,582.63 L59.95,582.62 L60.26,582.61 L60.57,582.6 L60.88,582.59 L61.19,582.58 L61.51,582.57 L61.82,582.56 L62.13,582.55 L62.44,582.54 L62.75,582.52 L63.06,582.51 L63.37,582.5 L63.68,582.49 L63.99,582.48 L64.3,582.47 L64.61,582.46 L64.92,582.45 L65.23,582.44 L65.55,582.43 L65.86,582.42 L66.17,582.4 L66.48,582.39 L66.79,582.38 L67.1,582.37 L67.41,582.36 L67.72,582.35 L68.03,582.34 L68.34,582.33 L68.65,582.32 L68.96,582.31 L69.27,582.3 L69.58,582.28 L69.9,582.27 L70.21,582.26 L70.52,582.25 L70.83,582.24 L71.14,582.23 L71.45,582.22 L71.76,582.21 L72.07,582.2 L72.38,582.19 L72.69,582.17 L73,582.16 L73.31,582.15 L73.62,582.14 L73.93,582.13 L74.25,582.12 L74.56,582.11 L74.87,582.1 L75.18,582.09 L75.49,582.08 L75.8,582.07 L76.11,582.05 L76.42,582.04 L76.73,582.03 L77.04,582.02 L77.35,582.01 L77.66,582 L77.97,581.99 L78.28,581.98 L78.6,581.97 L78.91,581.96 L79.22,581.94 L79.53,581.93 L79.84,581.92 L80.15,581.91 L80.46,581.9 L80.77,581.89 L81.08,581.88 L81.39,581.87 L81.7,581.86 L82.01,581.84 L82.32,581.83 L82.64,581.82 L82.95,581.81 L83.26,581.8 L83.57,581.79 L83.88,581.78 L84.19,581.76 L84.5,581.75 L84.81,581.74 L85.12,581.73 L85.43,581.72 L85.74,581.71 L86.05,581.7 L86.36,581.68 L86.67,581.67 L86.99,581.66 L87.3,581.65 L87.61,581.64 L87.92,581.63 L88.23,581.61 L88.54,581.6 L88.85,581.59 L89.16,581.58 L89.47,581.56 L89.78,581.55 L90.09,581.54 L90.4,581.53 L90.71,581.51 L91.02,581.5 L91.34,581.49 L91.65,581.47 L91.96,581.46 L92.27,581.45 L92.58,581.43 L92.89,581.42 L93.2,581.41 L93.51,581.39 L93.82,581.38 L94.13,581.36 L94.44,581.35 L94.75,581.33 L95.06,581.32 L95.38,581.3 L95.69,581.28 L96,581.27 L96.31,581.25 L96.62,581.23 L96.93,581.22 L97.24,581.2 L97.55,581.18 L97.86,581.16 L98.17,581.14 L98.48,581.12 L98.79,581.1 L99.1,581.08 L99.41,581.06 L99.73,581.04 L100.04,581.02 L100.35,580.99 L100.66,580.97 L100.97,580.94 L101.28,580.92 L101.59,580.89 L101.9,580.86 L102.21,580.84 L102.52,580.81 L102.83,580.78 L103.14,580.75 L103.45,580.71 L103.76,580.68 L104.08,580.64 L104.39,580.61 L104.7,580.57 L105.01,580.53 L105.32,580.49 L105.63,580.45 L105.94,580.41 L106.25,580.36 L106.56,580.32 L106.87,580.27 L107.18,580.22 L107.49,580.17 L107.8,580.11 L108.12,580.05 L108.43,580 L108.74,579.93 L109.05,579.87 L109.36,579.81 L109.67,579.74 L109.98,579.67 L110.29,579.59 L110.6,579.51 L110.91,579.43 L111.22,579.35 L111.53,579.26 L111.84,579.17 L112.15,579.08 L112.47,578.98 L112.78,578.88 L113.09,578.78 L113.4,578.67 L113.71,578.56 L114.02,578.44 L114.33,578.32 L114.64,578.19 L114.95,578.06 L115.26,577.92 L115.57,577.78 L115.88,577.63 L116.19,577.48 L116.5,577.32 L116.82,577.16 L117.13,576.99 L117.44,576.81 L117.75,576.63 L118.06,576.44 L118.37,576.25 L118.68,576.05 L118.99,575.84 L119.3,575.62 L119.61,575.4 L119.92,575.16 L120.23,574.92 L120.54,574.68 L120.85,574.42 L121.17,574.16 L121.48,573.88 L121.79,573.6 L122.1,573.31 L122.41,573.01 L122.72,572.7 L123.03,572.38 L123.34,572.05 L123.65,571.72 L123.96,571.37 L124.27,571.01 L124.58,570.64 L124.89,570.26 L125.21,569.86 L125.52,569.46 L125.83,569.05 L126.14,568.62 L126.45,568.18 L126.76,567.74 L127.07,567.27 L127.38,566.8 L127.69,566.32 L128,565.82 L128.31,565.31 L128.62,564.78 L128.93,564.25 L129.24,563.7 L129.56,563.14 L129.87,562.56 L130.18,561.97 L130.49,561.37 L130.8,560.75 L131.11,560.12 L131.42,559.48 L131.73,558.82 L132.04,558.15 L132.35,557.47 L132.66,556.77 L132.97,556.06 L133.28,555.34 L133.59,554.6 L133.91,553.85 L134.22,553.08 L134.53,552.3 L134.84,551.51 L135.15,550.7 L135.46,549.88 L135.77,549.05 L136.08,548.21 L136.39,547.35 L136.7,546.48 L137.01,545.6 L137.32,544.7 L137.63,543.79 L137.95,542.87 L138.26,541.94 L138.57,541 L138.88,540.05 L139.19,539.08 L139.5,538.11 L139.81,537.13 L140.12,536.13 L140.43,535.13 L140.74,534.12 L141.05,533.1 L141.36,532.07 L141.67,531.03 L141.98,529.99 L142.3,528.94 L142.61,527.88 L142.92,526.82 L143.23,525.75 L143.54,524.68 L143.85,523.6 L144.16,522.52 L144.47,521.44 L144.78,520.35 L145.09,519.27 L145.4,518.18 L145.71,517.09 L146.02,516 L146.33,514.91 L146.65,513.82 L146.96,512.74 L147.27,511.66 L147.58,510.58 L147.89,509.5 L148.2,508.43 L148.51,507.37 L148.82,506.31 L149.13,505.26 L149.44,504.21 L149.75,503.18 L150.06,502.15 L150.37,501.13 L150.68,500.13 L151,499.13 L151.31,498.15 L151.62,497.18 L151.93,496.22 L152.24,495.28 L152.55,494.35 L152.86,493.44 L153.17,492.54 L153.48,491.66 L153.79,490.8 L154.1,489.96 L154.41,489.14 L154.72,488.33 L155.04,487.55 L155.35,486.79 L155.66,486.04 L155.97,485.33 L156.28,484.63 L156.59,483.96 L156.9,483.31 L157.21,482.68 L157.52,482.09 L157.83,481.51 L158.14,480.96 L158.45,480.44 L158.76,479.95 L159.07,479.48 L159.39,479.04 L159.7,478.63 L160.01,478.25 L160.32,477.9 L160.63,477.57 L160.94,477.28 L161.25,477.01 L161.56,476.77 L161.87,476.57 L162.18,476.39 L162.49,476.25 L162.8,476.13 L163.11,476.05 L163.42,476 L163.74,475.97 L164.05,475.98 L164.36,476.02 L164.67,476.09 L164.98,476.19 L165.29,476.32 L165.6,476.48 L165.91,476.67 L166.22,476.89 L166.53,477.14 L166.84,477.42 L167.15,477.73 L167.46,478.07 L167.78,478.44 L168.09,478.83 L168.4,479.26 L168.71,479.71 L169.02,480.19 L169.33,480.69 L169.64,481.22 L169.95,481.78 L170.26,482.36 L170.57,482.97 L170.88,483.6 L171.19,484.26 L171.5,484.94 L171.81,485.64 L172.13,486.37 L172.44,487.11 L172.75,487.88 L173.06,488.66 L173.37,489.47 L173.68,490.3 L173.99,491.14 L174.3,492 L174.61,492.88 L174.92,493.77 L175.23,494.68 L175.54,495.61 L175.85,496.54 L176.16,497.5 L176.48,498.46 L176.79,499.43 L177.1,500.42 L177.41,501.42 L177.72,502.43 L178.03,503.44 L178.34,504.47 L178.65,505.5 L178.96,506.54 L179.27,507.58 L179.58,508.63 L179.89,509.68 L180.2,510.74 L180.52,511.8 L180.83,512.87 L181.14,513.93 L181.45,515 L181.76,516.07 L182.07,517.14 L182.38,518.2 L182.69,519.27 L183,520.33 L183.31,521.39 L183.62,522.45 L183.93,523.5 L184.24,524.55 L184.55,525.6 L184.87,526.64 L185.18,527.67 L185.49,528.7 L185.8,529.72 L186.11,530.73 L186.42,531.73 L186.73,532.73 L187.04,533.72 L187.35,534.7 L187.66,535.67 L187.97,536.63 L188.28,537.58 L188.59,538.52 L188.9,539.45 L189.22,540.36 L189.53,541.27 L189.84,542.16 L190.15,543.05 L190.46,543.92 L190.77,544.78 L191.08,545.62 L191.39,546.45 L191.7,547.28 L192.01,548.08 L192.32,548.88 L192.63,549.66 L192.94,550.43 L193.25,551.18 L193.57,551.92 L193.88,552.65 L194.19,553.36 L194.5,554.06 L194.81,554.75 L195.12,555.42 L195.43,556.08 L195.74,556.72 L196.05,557.35 L196.36,557.97 L196.67,558.58 L196.98,559.17 L197.29,559.74 L197.61,560.31 L197.92,560.86 L198.23,561.4 L198.54,561.92 L198.85,562.43 L199.16,562.93 L199.47,563.42 L199.78,563.89 L200.09,564.35 L200.4,564.8 L200.71,565.24 L201.02,565.66 L201.33,566.07 L201.64,566.47 L201.96,566.86 L202.27,567.24 L202.58,567.61 L202.89,567.97 L203.2,568.31 L203.51,568.65 L203.82,568.97 L204.13,569.29 L204.44,569.59 L204.75,569.89 L205.06,570.17 L205.37,570.45 L205.68,570.71 L205.99,570.97 L206.31,571.22 L206.62,571.46 L206.93,571.69 L207.24,571.92 L207.55,572.13 L207.86,572.34 L208.17,572.54 L208.48,572.73 L208.79,572.92 L209.1,573.1 L209.41,573.27 L209.72,573.44 L210.03,573.6 L210.35,573.75 L210.66,573.89 L210.97,574.04 L211.28,574.17 L211.59,574.3 L211.9,574.42 L212.21,574.54 L212.52,574.65 L212.83,574.76 L213.14,574.87 L213.45,574.97 L213.76,575.06 L214.07,575.15 L214.38,575.24 L214.7,575.32 L215.01,575.4 L215.32,575.47 L215.63,575.54 L215.94,575.61 L216.25,575.67 L216.56,575.73 L216.87,575.79 L217.18,575.85 L217.49,575.9 L217.8,575.95 L218.11,575.99 L218.42,576.04 L218.73,576.08 L219.05,576.12 L219.36,576.15 L219.67,576.19 L219.98,576.22 L220.29,576.25 L220.6,576.28 L220.91,576.3 L221.22,576.33 L221.53,576.35 L221.84,576.37 L222.15,576.39 L222.46,576.41 L222.77,576.43 L223.08,576.44 L223.4,576.45 L223.71,576.47 L224.02,576.48 L224.33,576.49 L224.64,576.5 L224.95,576.51 L225.26,576.51 L225.57,576.52 L225.88,576.52 L226.19,576.53 L226.5,576.53 L226.81,576.53 L227.12,576.54 L227.44,576.54 L227.75,576.54 L228.06,576.54 L228.37,576.54 L228.68,576.54 L228.99,576.54 L229.3,576.53 L229.61,576.53 L229.92,576.53 L230.23,576.52 L230.54,576.52 L230.85,576.52 L231.16,576.51 L231.47,576.51 L231.79,576.5 L232.1,576.49 L232.41,576.49 L232.72,576.48 L233.03,576.47 L233.34,576.47 L233.65,576.46 L233.96,576.45 L234.27,576.45 L234.58,576.44 L234.89,576.43 L235.2,576.42 L235.51,576.41 L235.82,576.4 L236.14,576.4 L236.45,576.39 L236.76,576.38 L237.07,576.37 L237.38,576.36 L237.69,576.35 L238,576.34" fill="none" stroke="#ed7d31" stroke-width="2.2" stroke-dasharray="0.01 4.0" stroke-linejoin="round" stroke-linecap="round"/>
<path d="M20.8,582.64 L21.11,582.59 L21.42,582.54 L21.73,582.49 L22.04,582.43 L22.35,582.38 L22.66,582.33 L22.98,582.27 L23.29,582.21 L23.6,582.16 L23.91,582.1 L24.22,582.04 L24.53,581.98 L24.84,581.92 L25.15,581.85 L25.46,581.79 L25.77,581.72 L26.08,581.66 L26.39,581.59 L26.7,581.52 L27.01,581.45 L27.33,581.38 L27.64,581.3 L27.95,581.23 L28.26,581.15 L28.57,581.08 L28.88,581 L29.19,580.92 L29.5,580.84 L29.81,580.76 L30.12,580.67 L30.43,580.58 L30.74,580.5 L31.05,580.41 L31.36,580.32 L31.68,580.23 L31.99,580.13 L32.3,580.04 L32.61,579.94 L32.92,579.84 L33.23,579.74 L33.54,579.64 L33.85,579.53 L34.16,579.43 L34.47,579.32 L34.78,579.21 L35.09,579.1 L35.4,578.99 L35.72,578.87 L36.03,578.76 L36.34,578.64 L36.65,578.52 L36.96,578.39 L37.27,578.27 L37.58,578.14 L37.89,578.02 L38.2,577.88 L38.51,577.75 L38.82,577.62 L39.13,577.48 L39.44,577.34 L39.75,577.2 L40.07,577.06 L40.38,576.91 L40.69,576.76 L41,576.61 L41.31,576.46 L41.62,576.31 L41.93,576.15 L42.24,575.99 L42.55,575.83 L42.86,575.67 L43.17,575.5 L43.48,575.34 L43.79,575.17 L44.1,574.99 L44.42,574.82 L44.73,574.64 L45.04,574.46 L45.35,574.28 L45.66,574.09 L45.97,573.91 L46.28,573.72 L46.59,573.53 L46.9,573.33 L47.21,573.14 L47.52,572.94 L47.83,572.74 L48.14,572.53 L48.45,572.33 L48.77,572.12 L49.08,571.91 L49.39,571.69 L49.7,571.47 L50.01,571.26 L50.32,571.03 L50.63,570.81 L50.94,570.58 L51.25,570.36 L51.56,570.13 L51.87,569.89 L52.18,569.66 L52.49,569.42 L52.81,569.18 L53.12,568.93 L53.43,568.69 L53.74,568.44 L54.05,568.19 L54.36,567.93 L54.67,567.68 L54.98,567.42 L55.29,567.16 L55.6,566.9 L55.91,566.63 L56.22,566.37 L56.53,566.1 L56.84,565.83 L57.16,565.55 L57.47,565.28 L57.78,565 L58.09,564.72 L58.4,564.44 L58.71,564.15 L59.02,563.86 L59.33,563.57 L59.64,563.28 L59.95,562.99 L60.26,562.7 L60.57,562.4 L60.88,562.1 L61.19,561.8 L61.51,561.5 L61.82,561.19 L62.13,560.89 L62.44,560.58 L62.75,560.27 L63.06,559.96 L63.37,559.65 L63.68,559.33 L63.99,559.02 L64.3,558.7 L64.61,558.38 L64.92,558.06 L65.23,557.74 L65.55,557.42 L65.86,557.09 L66.17,556.77 L66.48,556.44 L66.79,556.12 L67.1,555.79 L67.41,555.46 L67.72,555.13 L68.03,554.8 L68.34,554.47 L68.65,554.13 L68.96,553.8 L69.27,553.47 L69.58,553.13 L69.9,552.8 L70.21,552.47 L70.52,552.13 L70.83,551.79 L71.14,551.46 L71.45,551.12 L71.76,550.79 L72.07,550.45 L72.38,550.12 L72.69,549.78 L73,549.45 L73.31,549.11 L73.62,548.78 L73.93,548.44 L74.25,548.11 L74.56,547.78 L74.87,547.44 L75.18,547.11 L75.49,546.78 L75.8,546.45 L76.11,546.12 L76.42,545.79 L76.73,545.47 L77.04,545.14 L77.35,544.82 L77.66,544.49 L77.97,544.17 L78.28,543.85 L78.6,543.54 L78.91,543.22 L79.22,542.9 L79.53,542.59 L79.84,542.28 L80.15,541.97 L80.46,541.66 L80.77,541.36 L81.08,541.06 L81.39,540.76 L81.7,540.46 L82.01,540.16 L82.32,539.87 L82.64,539.58 L82.95,539.29 L83.26,539.01 L83.57,538.72 L83.88,538.44 L84.19,538.17 L84.5,537.9 L84.81,537.63 L85.12,537.36 L85.43,537.1 L85.74,536.84 L86.05,536.58 L86.36,536.33 L86.67,536.08 L86.99,535.83 L87.3,535.59 L87.61,535.35 L87.92,535.12 L88.23,534.89 L88.54,534.66 L88.85,534.44 L89.16,534.22 L89.47,534.01 L89.78,533.8 L90.09,533.59 L90.4,533.39 L90.71,533.19 L91.02,533 L91.34,532.81 L91.65,532.63 L91.96,532.45 L92.27,532.28 L92.58,532.11 L92.89,531.95 L93.2,531.79 L93.51,531.63 L93.82,531.48 L94.13,531.34 L94.44,531.2 L94.75,531.07 L95.06,530.94 L95.38,530.81 L95.69,530.7 L96,530.58 L96.31,530.47 L96.62,530.37 L96.93,530.27 L97.24,530.18 L97.55,530.09 L97.86,530.01 L98.17,529.94 L98.48,529.86 L98.79,529.8 L99.1,529.74 L99.41,529.69 L99.73,529.64 L100.04,529.59 L100.35,529.56 L100.66,529.52 L100.97,529.5 L101.28,529.47 L101.59,529.46 L101.9,529.45 L102.21,529.44 L102.52,529.45 L102.83,529.45 L103.14,529.46 L103.45,529.48 L103.76,529.5 L104.08,529.53 L104.39,529.57 L104.7,529.61 L105.01,529.65 L105.32,529.7 L105.63,529.76 L105.94,529.82 L106.25,529.89 L106.56,529.96 L106.87,530.04 L107.18,530.12 L107.49,530.21 L107.8,530.3 L108.12,530.4 L108.43,530.5 L108.74,530.61 L109.05,530.72 L109.36,530.84 L109.67,530.97 L109.98,531.1 L110.29,531.23 L110.6,531.37 L110.91,531.51 L111.22,531.66 L111.53,531.81 L111.84,531.97 L112.15,532.13 L112.47,532.3 L112.78,532.47 L113.09,532.65 L113.4,532.83 L113.71,533.01 L114.02,533.2 L114.33,533.4 L114.64,533.59 L114.95,533.79 L115.26,534 L115.57,534.21 L115.88,534.42 L116.19,534.64 L116.5,534.86 L116.82,535.09 L117.13,535.31 L117.44,535.55 L117.75,535.78 L118.06,536.02 L118.37,536.26 L118.68,536.51 L118.99,536.76 L119.3,537.01 L119.61,537.27 L119.92,537.52 L120.23,537.78 L120.54,538.05 L120.85,538.32 L121.17,538.58 L121.48,538.86 L121.79,539.13 L122.1,539.41 L122.41,539.69 L122.72,539.97 L123.03,540.25 L123.34,540.54 L123.65,540.83 L123.96,541.12 L124.27,541.41 L124.58,541.7 L124.89,542 L125.21,542.29 L125.52,542.59 L125.83,542.89 L126.14,543.19 L126.45,543.5 L126.76,543.8 L127.07,544.1 L127.38,544.41 L127.69,544.72 L128,545.03 L128.31,545.34 L128.62,545.65 L128.93,545.96 L129.24,546.27 L129.56,546.58 L129.87,546.89 L130.18,547.21 L130.49,547.52 L130.8,547.83 L131.11,548.15 L131.42,548.46 L131.73,548.77 L132.04,549.09 L132.35,549.4 L132.66,549.71 L132.97,550.03 L133.28,550.34 L133.59,550.65 L133.91,550.97 L134.22,551.28 L134.53,551.59 L134.84,551.9 L135.15,552.21 L135.46,552.52 L135.77,552.83 L136.08,553.14 L136.39,553.44 L136.7,553.75 L137.01,554.05 L137.32,554.36 L137.63,554.66 L137.95,554.96 L138.26,555.26 L138.57,555.56 L138.88,555.86 L139.19,556.15 L139.5,556.45 L139.81,556.74 L140.12,557.03 L140.43,557.33 L140.74,557.61 L141.05,557.9 L141.36,558.19 L141.67,558.47 L141.98,558.75 L142.3,559.03 L142.61,559.31 L142.92,559.59 L143.23,559.86 L143.54,560.13 L143.85,560.4 L144.16,560.67 L144.47,560.94 L144.78,561.2 L145.09,561.47 L145.4,561.73 L145.71,561.98 L146.02,562.24 L146.33,562.49 L146.65,562.74 L146.96,562.99 L147.27,563.24 L147.58,563.48 L147.89,563.73 L148.2,563.97 L148.51,564.2 L148.82,564.44 L149.13,564.67 L149.44,564.9 L149.75,565.13 L150.06,565.36 L150.37,565.58 L150.68,565.8 L151,566.02 L151.31,566.24 L151.62,566.45 L151.93,566.66 L152.24,566.87 L152.55,567.07 L152.86,567.28 L153.17,567.48 L153.48,567.68 L153.79,567.87 L154.1,568.07 L154.41,568.26 L154.72,568.45 L155.04,568.63 L155.35,568.82 L155.66,569 L155.97,569.18 L156.28,569.35 L156.59,569.53 L156.9,569.7 L157.21,569.87 L157.52,570.04 L157.83,570.2 L158.14,570.36 L158.45,570.52 L158.76,570.68 L159.07,570.83 L159.39,570.99 L159.7,571.14 L160.01,571.28 L160.32,571.43 L160.63,571.57 L160.94,571.71 L161.25,571.85 L161.56,571.99 L161.87,572.12 L162.18,572.25 L162.49,572.38 L162.8,572.51 L163.11,572.64 L163.42,572.76 L163.74,572.88 L164.05,573 L164.36,573.11 L164.67,573.23 L164.98,573.34 L165.29,573.45 L165.6,573.56 L165.91,573.66 L166.22,573.77 L166.53,573.87 L166.84,573.97 L167.15,574.07 L167.46,574.17 L167.78,574.26 L168.09,574.35 L168.4,574.44 L168.71,574.53 L169.02,574.62 L169.33,574.7 L169.64,574.79 L169.95,574.87 L170.26,574.95 L170.57,575.03 L170.88,575.1 L171.19,575.18 L171.5,575.25 L171.81,575.32 L172.13,575.39 L172.44,575.46 L172.75,575.53 L173.06,575.59 L173.37,575.65 L173.68,575.72 L173.99,575.78 L174.3,575.84 L174.61,575.89 L174.92,575.95 L175.23,576.01 L175.54,576.06 L175.85,576.11 L176.16,576.16 L176.48,576.21 L176.79,576.26 L177.1,576.31 L177.41,576.35 L177.72,576.4 L178.03,576.44 L178.34,576.48 L178.65,576.52 L178.96,576.56 L179.27,576.6 L179.58,576.64 L179.89,576.67 L180.2,576.71 L180.52,576.74 L180.83,576.78 L181.14,576.81 L181.45,576.84 L181.76,576.87 L182.07,576.9 L182.38,576.93 L182.69,576.96 L183,576.98 L183.31,577.01 L183.62,577.03 L183.93,577.06 L184.24,577.08 L184.55,577.1 L184.87,577.12 L185.18,577.14 L185.49,577.16 L185.8,577.18 L186.11,577.2 L186.42,577.22 L186.73,577.23 L187.04,577.25 L187.35,577.26 L187.66,577.28 L187.97,577.29 L188.28,577.31 L188.59,577.32 L188.9,577.33 L189.22,577.34 L189.53,577.35 L189.84,577.36 L190.15,577.37 L190.46,577.38 L190.77,577.39 L191.08,577.4 L191.39,577.41 L191.7,577.42 L192.01,577.42 L192.32,577.43 L192.63,577.43 L192.94,577.44 L193.25,577.44 L193.57,577.45 L193.88,577.45 L194.19,577.46 L194.5,577.46 L194.81,577.46 L195.12,577.46 L195.43,577.47 L195.74,577.47 L196.05,577.47 L196.36,577.47 L196.67,577.47 L196.98,577.47 L197.29,577.47 L197.61,577.47 L197.92,577.47 L198.23,577.47 L198.54,577.47 L198.85,577.47 L199.16,577.46 L199.47,577.46 L199.78,577.46 L200.09,577.46 L200.4,577.45 L200.71,577.45 L201.02,577.45 L201.33,577.44 L201.64,577.44 L201.96,577.44 L202.27,577.43 L202.58,577.43 L202.89,577.42 L203.2,577.42 L203.51,577.41 L203.82,577.41 L204.13,577.4 L204.44,577.4 L204.75,577.39 L205.06,577.38 L205.37,577.38 L205.68,577.37 L205.99,577.36 L206.31,577.36 L206.62,577.35 L206.93,577.34 L207.24,577.34 L207.55,577.33 L207.86,577.32 L208.17,577.32 L208.48,577.31 L208.79,577.3 L209.1,577.29 L209.41,577.29 L209.72,577.28 L210.03,577.27 L210.35,577.26 L210.66,577.25 L210.97,577.24 L211.28,577.24 L211.59,577.23 L211.9,577.22 L212.21,577.21 L212.52,577.2 L212.83,577.19 L213.14,577.18 L213.45,577.17 L213.76,577.17 L214.07,577.16 L214.38,577.15 L214.7,577.14 L215.01,577.13 L215.32,577.12 L215.63,577.11 L215.94,577.1 L216.25,577.09 L216.56,577.08 L216.87,577.07 L217.18,577.06 L217.49,577.05 L217.8,577.04 L218.11,577.03 L218.42,577.02 L218.73,577.01 L219.05,577 L219.36,576.99 L219.67,576.98 L219.98,576.97 L220.29,576.96 L220.6,576.95 L220.91,576.94 L221.22,576.93 L221.53,576.92 L221.84,576.91 L222.15,576.9 L222.46,576.89 L222.77,576.88 L223.08,576.87 L223.4,576.86 L223.71,576.85 L224.02,576.84 L224.33,576.83 L224.64,576.82 L224.95,576.81 L225.26,576.8 L225.57,576.79 L225.88,576.78 L226.19,576.77 L226.5,576.76 L226.81,576.75 L227.12,576.74 L227.44,576.73 L227.75,576.71 L228.06,576.7 L228.37,576.69 L228.68,576.68 L228.99,576.67 L229.3,576.66 L229.61,576.65 L229.92,576.64 L230.23,576.63 L230.54,576.62 L230.85,576.61 L231.16,576.6 L231.47,576.59 L231.79,576.58 L232.1,576.57 L232.41,576.55 L232.72,576.54 L233.03,576.53 L233.34,576.52 L233.65,576.51 L233.96,576.5 L234.27,576.49 L234.58,576.48 L234.89,576.47 L235.2,576.46 L235.51,576.45 L235.82,576.44 L236.14,576.43 L236.45,576.41 L236.76,576.4 L237.07,576.39 L237.38,576.38 L237.69,576.37 L238,576.36" fill="none" stroke="#c00000" stroke-width="2.2" stroke-dasharray="0.01 4.0" stroke-linejoin="round" stroke-linecap="round"/>
<path d="M20.8,582.2 C21.68,581.68 24.7,578.25 26.1,579.1 C27.5,579.95 28.17,586.95 29.2,587.3 C30.23,587.65 31.17,582.75 32.3,581.2 C33.43,579.65 34.82,578.87 36,578 C37.18,577.13 38.32,576.5 39.4,576 C40.48,575.5 41.3,576.35 42.5,575 C43.7,573.65 45.42,568.75 46.6,567.9 C47.78,567.05 48.42,571.43 49.6,569.9 C50.78,568.37 52.17,561.08 53.7,558.7 C55.23,556.32 57.43,556.97 58.8,555.6 C60.17,554.23 61.05,550.67 61.9,550.5 C62.75,550.33 62.88,553.75 63.9,554.6 C64.92,555.45 66.63,556.8 68,555.6 C69.37,554.4 71.07,549.62 72.1,547.4 C73.13,545.18 73.52,542.12 74.2,542.3 C74.88,542.48 75.35,549.68 76.2,548.5 C77.05,547.32 78.28,536.73 79.3,535.2 C80.32,533.67 80.95,539.3 82.3,539.3 C83.65,539.3 85.68,536.73 87.4,535.2 C89.12,533.67 91.23,531.63 92.6,530.1 C93.97,528.57 94.68,527.37 95.6,526 C96.52,524.63 97.25,520.72 98.1,521.9 C98.95,523.08 99.75,530.72 100.7,533.1 C101.65,535.48 102.77,536.53 103.8,536.2 C104.83,535.87 105.88,532.3 106.9,531.1 C107.92,529.9 108.72,529.35 109.9,529 C111.08,528.65 112.63,528.82 114,529 C115.37,529.18 116.73,530.27 118.1,530.1 C119.47,529.93 120.83,528.18 122.2,528 C123.57,527.82 124.93,530.02 126.3,529 C127.67,527.98 129.05,523.6 130.4,521.9 C131.75,520.2 133.05,521.35 134.4,518.8 C135.75,516.25 137.33,509.53 138.5,506.6 C139.67,503.67 140.37,501.88 141.4,501.2 C142.43,500.52 143.65,503.48 144.7,502.5 C145.75,501.52 146.73,497.35 147.7,495.3 C148.67,493.25 149.57,494.4 150.5,490.2 C151.43,486 152.53,473.6 153.3,470.1 C154.07,466.6 154.5,469.03 155.1,469.2 C155.7,469.37 156.13,471.7 156.9,471.1 C157.67,470.5 158.93,466.22 159.7,465.6 C160.47,464.98 160.75,467.55 161.5,467.4 C162.25,467.25 163.43,464.85 164.2,464.7 C164.97,464.55 165.48,465.43 166.1,466.5 C166.72,467.57 166.85,469.12 167.9,471.1 C168.95,473.08 171.03,475.52 172.4,478.4 C173.77,481.28 174.88,484.15 176.1,488.4 C177.32,492.65 178.63,502.83 179.7,503.9 C180.77,504.97 181.58,496.17 182.5,494.8 C183.42,493.43 184.28,495.25 185.2,495.7 C186.12,496.15 187.08,499.02 188,497.5 C188.92,495.98 189.65,489.03 190.7,486.6 C191.75,484.17 193.23,484.43 194.3,482.9 C195.37,481.37 196.18,478.92 197.1,477.4 C198.02,475.88 198.88,473.48 199.8,473.8 C200.72,474.12 201.68,476.87 202.6,479.3 C203.52,481.73 204.48,487.18 205.3,488.4 C206.12,489.62 206.88,484.17 207.5,486.6 C208.12,489.03 208.45,497.23 209,503 C209.55,508.77 210.2,515.42 210.8,521.2 C211.4,526.98 212.02,533.23 212.6,537.7 C213.18,542.17 213.43,543.95 214.3,548 C215.17,552.05 216.63,558.47 217.8,562 C218.97,565.53 219.75,567.62 221.3,569.2 C222.85,570.78 225.15,571.2 227.1,571.5 C229.05,571.8 231.63,570.68 233,571 C234.37,571.32 234.65,571.77 235.3,573.4 C235.95,575.03 236.63,579.57 236.9,580.8" fill="none" stroke="#1a1a1a" stroke-width="1.2" stroke-linejoin="round" />
<path d="M20.8,582.64 L21.11,582.59 L21.42,582.54 L21.73,582.49 L22.04,582.43 L22.35,582.38 L22.66,582.33 L22.98,582.27 L23.29,582.21 L23.6,582.16 L23.91,582.1 L24.22,582.04 L24.53,581.98 L24.84,581.92 L25.15,581.85 L25.46,581.79 L25.77,581.72 L26.08,581.66 L26.39,581.59 L26.7,581.52 L27.01,581.45 L27.33,581.38 L27.64,581.3 L27.95,581.23 L28.26,581.15 L28.57,581.08 L28.88,581 L29.19,580.92 L29.5,580.84 L29.81,580.76 L30.12,580.67 L30.43,580.58 L30.74,580.5 L31.05,580.41 L31.36,580.32 L31.68,580.23 L31.99,580.13 L32.3,580.04 L32.61,579.94 L32.92,579.84 L33.23,579.74 L33.54,579.64 L33.85,579.53 L34.16,579.43 L34.47,579.32 L34.78,579.21 L35.09,579.1 L35.4,578.99 L35.72,578.87 L36.03,578.76 L36.34,578.64 L36.65,578.52 L36.96,578.39 L37.27,578.27 L37.58,578.14 L37.89,578.02 L38.2,577.88 L38.51,577.75 L38.82,577.62 L39.13,577.48 L39.44,577.34 L39.75,577.2 L40.07,577.06 L40.38,576.91 L40.69,576.76 L41,576.61 L41.31,576.46 L41.62,576.31 L41.93,576.15 L42.24,575.99 L42.55,575.83 L42.86,575.67 L43.17,575.5 L43.48,575.34 L43.79,575.17 L44.1,574.99 L44.42,574.82 L44.73,574.64 L45.04,574.46 L45.35,574.28 L45.66,574.09 L45.97,573.91 L46.28,573.72 L46.59,573.53 L46.9,573.33 L47.21,573.14 L47.52,572.94 L47.83,572.74 L48.14,572.53 L48.45,572.33 L48.77,572.12 L49.08,571.91 L49.39,571.69 L49.7,571.47 L50.01,571.26 L50.32,571.03 L50.63,570.81 L50.94,570.58 L51.25,570.36 L51.56,570.13 L51.87,569.89 L52.18,569.66 L52.49,569.42 L52.81,569.18 L53.12,568.93 L53.43,568.69 L53.74,568.44 L54.05,568.19 L54.36,567.93 L54.67,567.68 L54.98,567.42 L55.29,567.16 L55.6,566.9 L55.91,566.63 L56.22,566.37 L56.53,566.1 L56.84,565.83 L57.16,565.55 L57.47,565.28 L57.78,565 L58.09,564.72 L58.4,564.43 L58.71,564.15 L59.02,563.86 L59.33,563.57 L59.64,563.28 L59.95,562.99 L60.26,562.7 L60.57,562.4 L60.88,562.1 L61.19,561.8 L61.51,561.5 L61.82,561.19 L62.13,560.89 L62.44,560.58 L62.75,560.27 L63.06,559.96 L63.37,559.65 L63.68,559.33 L63.99,559.02 L64.3,558.7 L64.61,558.38 L64.92,558.06 L65.23,557.74 L65.55,557.42 L65.86,557.09 L66.17,556.77 L66.48,556.44 L66.79,556.12 L67.1,555.79 L67.41,555.46 L67.72,555.13 L68.03,554.8 L68.34,554.47 L68.65,554.13 L68.96,553.8 L69.27,553.47 L69.58,553.13 L69.9,552.8 L70.21,552.47 L70.52,552.13 L70.83,551.79 L71.14,551.46 L71.45,551.12 L71.76,550.79 L72.07,550.45 L72.38,550.12 L72.69,549.78 L73,549.45 L73.31,549.11 L73.62,548.78 L73.93,548.44 L74.25,548.11 L74.56,547.78 L74.87,547.44 L75.18,547.11 L75.49,546.78 L75.8,546.45 L76.11,546.12 L76.42,545.79 L76.73,545.47 L77.04,545.14 L77.35,544.82 L77.66,544.49 L77.97,544.17 L78.28,543.85 L78.6,543.53 L78.91,543.22 L79.22,542.9 L79.53,542.59 L79.84,542.28 L80.15,541.97 L80.46,541.66 L80.77,541.36 L81.08,541.05 L81.39,540.75 L81.7,540.45 L82.01,540.16 L82.32,539.87 L82.64,539.57 L82.95,539.29 L83.26,539 L83.57,538.72 L83.88,538.44 L84.19,538.16 L84.5,537.89 L84.81,537.62 L85.12,537.35 L85.43,537.09 L85.74,536.83 L86.05,536.57 L86.36,536.32 L86.67,536.07 L86.99,535.82 L87.3,535.58 L87.61,535.34 L87.92,535.1 L88.23,534.87 L88.54,534.64 L88.85,534.42 L89.16,534.2 L89.47,533.99 L89.78,533.77 L90.09,533.57 L90.4,533.36 L90.71,533.17 L91.02,532.97 L91.34,532.78 L91.65,532.6 L91.96,532.42 L92.27,532.24 L92.58,532.07 L92.89,531.9 L93.2,531.74 L93.51,531.58 L93.82,531.43 L94.13,531.28 L94.44,531.14 L94.75,531 L95.06,530.87 L95.38,530.74 L95.69,530.61 L96,530.49 L96.31,530.38 L96.62,530.27 L96.93,530.17 L97.24,530.07 L97.55,529.97 L97.86,529.88 L98.17,529.8 L98.48,529.72 L98.79,529.64 L99.1,529.57 L99.41,529.51 L99.73,529.45 L100.04,529.4 L100.35,529.34 L100.66,529.3 L100.97,529.26 L101.28,529.22 L101.59,529.19 L101.9,529.17 L102.21,529.14 L102.52,529.13 L102.83,529.11 L103.14,529.11 L103.45,529.1 L103.76,529.1 L104.08,529.11 L104.39,529.12 L104.7,529.13 L105.01,529.15 L105.32,529.17 L105.63,529.19 L105.94,529.22 L106.25,529.25 L106.56,529.29 L106.87,529.33 L107.18,529.37 L107.49,529.42 L107.8,529.47 L108.12,529.52 L108.43,529.58 L108.74,529.64 L109.05,529.7 L109.36,529.76 L109.67,529.83 L109.98,529.9 L110.29,529.97 L110.6,530.04 L110.91,530.11 L111.22,530.19 L111.53,530.27 L111.84,530.35 L112.15,530.43 L112.47,530.51 L112.78,530.59 L113.09,530.67 L113.4,530.75 L113.71,530.84 L114.02,530.92 L114.33,531 L114.64,531.08 L114.95,531.16 L115.26,531.24 L115.57,531.32 L115.88,531.4 L116.19,531.48 L116.5,531.55 L116.82,531.62 L117.13,531.69 L117.44,531.76 L117.75,531.82 L118.06,531.88 L118.37,531.94 L118.68,532 L118.99,532.05 L119.3,532.09 L119.61,532.14 L119.92,532.17 L120.23,532.21 L120.54,532.23 L120.85,532.25 L121.17,532.27 L121.48,532.28 L121.79,532.28 L122.1,532.28 L122.41,532.27 L122.72,532.25 L123.03,532.23 L123.34,532.2 L123.65,532.16 L123.96,532.11 L124.27,532.05 L124.58,531.99 L124.89,531.91 L125.21,531.83 L125.52,531.74 L125.83,531.63 L126.14,531.52 L126.45,531.4 L126.76,531.26 L127.07,531.12 L127.38,530.96 L127.69,530.79 L128,530.61 L128.31,530.42 L128.62,530.22 L128.93,530.01 L129.24,529.78 L129.56,529.54 L129.87,529.29 L130.18,529.02 L130.49,528.74 L130.8,528.45 L131.11,528.15 L131.42,527.83 L131.73,527.5 L132.04,527.15 L132.35,526.79 L132.66,526.42 L132.97,526.04 L133.28,525.63 L133.59,525.22 L133.91,524.79 L134.22,524.35 L134.53,523.89 L134.84,523.42 L135.15,522.94 L135.46,522.44 L135.77,521.92 L136.08,521.4 L136.39,520.86 L136.7,520.3 L137.01,519.74 L137.32,519.16 L137.63,518.56 L137.95,517.96 L138.26,517.34 L138.57,516.7 L138.88,516.06 L139.19,515.4 L139.5,514.73 L139.81,514.05 L140.12,513.36 L140.43,512.66 L140.74,511.95 L141.05,511.23 L141.36,510.49 L141.67,509.75 L141.98,509 L142.3,508.24 L142.61,507.48 L142.92,506.7 L143.23,505.92 L143.54,505.13 L143.85,504.33 L144.16,503.53 L144.47,502.73 L144.78,501.92 L145.09,501.1 L145.4,500.28 L145.71,499.46 L146.02,498.64 L146.33,497.82 L146.65,496.99 L146.96,496.17 L147.27,495.34 L147.58,494.52 L147.89,493.7 L148.2,492.88 L148.51,492.06 L148.82,491.25 L149.13,490.44 L149.44,489.64 L149.75,488.84 L150.06,488.05 L150.37,487.27 L150.68,486.49 L151,485.73 L151.31,484.97 L151.62,484.23 L151.93,483.49 L152.24,482.77 L152.55,482.06 L152.86,481.36 L153.17,480.68 L153.48,480.01 L153.79,479.35 L154.1,478.71 L154.41,478.09 L154.72,477.49 L155.04,476.9 L155.35,476.33 L155.66,475.79 L155.97,475.26 L156.28,474.75 L156.59,474.26 L156.9,473.8 L157.21,473.35 L157.52,472.93 L157.83,472.53 L158.14,472.16 L158.45,471.81 L158.76,471.48 L159.07,471.18 L159.39,470.9 L159.7,470.65 L160.01,470.43 L160.32,470.23 L160.63,470.06 L160.94,469.92 L161.25,469.8 L161.56,469.71 L161.87,469.65 L162.18,469.62 L162.49,469.61 L162.8,469.63 L163.11,469.69 L163.42,469.76 L163.74,469.87 L164.05,470.01 L164.36,470.17 L164.67,470.37 L164.98,470.59 L165.29,470.84 L165.6,471.12 L165.91,471.42 L166.22,471.75 L166.53,472.11 L166.84,472.5 L167.15,472.92 L167.46,473.36 L167.78,473.82 L168.09,474.32 L168.4,474.83 L168.71,475.38 L169.02,475.94 L169.33,476.53 L169.64,477.15 L169.95,477.78 L170.26,478.44 L170.57,479.12 L170.88,479.82 L171.19,480.54 L171.5,481.28 L171.81,482.03 L172.13,482.8 L172.44,483.59 L172.75,484.4 L173.06,485.21 L173.37,486.05 L173.68,486.89 L173.99,487.74 L174.3,488.6 L174.61,489.47 L174.92,490.35 L175.23,491.23 L175.54,492.12 L175.85,493.01 L176.16,493.9 L176.48,494.79 L176.79,495.67 L177.1,496.55 L177.41,497.43 L177.72,498.29 L178.03,499.15 L178.34,500 L178.65,500.83 L178.96,501.64 L179.27,502.44 L179.58,503.22 L179.89,503.97 L180.2,504.7 L180.52,505.41 L180.83,506.08 L181.14,506.73 L181.45,507.34 L181.76,507.91 L182.07,508.45 L182.38,508.95 L182.69,509.41 L183,509.82 L183.31,510.19 L183.62,510.51 L183.93,510.78 L184.24,511 L184.55,511.17 L184.87,511.28 L185.18,511.34 L185.49,511.34 L185.8,511.29 L186.11,511.17 L186.42,511 L186.73,510.77 L187.04,510.48 L187.35,510.13 L187.66,509.72 L187.97,509.25 L188.28,508.73 L188.59,508.14 L188.9,507.51 L189.22,506.82 L189.53,506.08 L189.84,505.29 L190.15,504.46 L190.46,503.58 L190.77,502.66 L191.08,501.71 L191.39,500.72 L191.7,499.71 L192.01,498.67 L192.32,497.61 L192.63,496.54 L192.94,495.45 L193.25,494.37 L193.57,493.28 L193.88,492.2 L194.19,491.13 L194.5,490.07 L194.81,489.04 L195.12,488.04 L195.43,487.07 L195.74,486.14 L196.05,485.26 L196.36,484.43 L196.67,483.65 L196.98,482.93 L197.29,482.28 L197.61,481.7 L197.92,481.2 L198.23,480.78 L198.54,480.44 L198.85,480.18 L199.16,480.02 L199.47,479.95 L199.78,479.97 L200.09,480.09 L200.4,480.31 L200.71,480.63 L201.02,481.05 L201.33,481.58 L201.64,482.2 L201.96,482.92 L202.27,483.74 L202.58,484.66 L202.89,485.67 L203.2,486.77 L203.51,487.97 L203.82,489.25 L204.13,490.62 L204.44,492.06 L204.75,493.58 L205.06,495.17 L205.37,496.83 L205.68,498.55 L205.99,500.33 L206.31,502.15 L206.62,504.03 L206.93,505.94 L207.24,507.89 L207.55,509.87 L207.86,511.88 L208.17,513.9 L208.48,515.94 L208.79,517.98 L209.1,520.03 L209.41,522.08 L209.72,524.11 L210.03,526.14 L210.35,528.15 L210.66,530.14 L210.97,532.11 L211.28,534.05 L211.59,535.95 L211.9,537.82 L212.21,539.65 L212.52,541.45 L212.83,543.19 L213.14,544.9 L213.45,546.55 L213.76,548.16 L214.07,549.71 L214.38,551.21 L214.7,552.66 L215.01,554.06 L215.32,555.4 L215.63,556.69 L215.94,557.93 L216.25,559.11 L216.56,560.24 L216.87,561.31 L217.18,562.34 L217.49,563.31 L217.8,564.23 L218.11,565.11 L218.42,565.93 L218.73,566.71 L219.05,567.45 L219.36,568.14 L219.67,568.79 L219.98,569.4 L220.29,569.97 L220.6,570.5 L220.91,571 L221.22,571.46 L221.53,571.9 L221.84,572.3 L222.15,572.67 L222.46,573.01 L222.77,573.33 L223.08,573.63 L223.4,573.9 L223.71,574.15 L224.02,574.38 L224.33,574.58 L224.64,574.78 L224.95,574.95 L225.26,575.11 L225.57,575.26 L225.88,575.39 L226.19,575.51 L226.5,575.62 L226.81,575.72 L227.12,575.81 L227.44,575.88 L227.75,575.96 L228.06,576.02 L228.37,576.08 L228.68,576.13 L228.99,576.17 L229.3,576.21 L229.61,576.24 L229.92,576.27 L230.23,576.3 L230.54,576.32 L230.85,576.34 L231.16,576.36 L231.47,576.37 L231.79,576.38 L232.1,576.39 L232.41,576.4 L232.72,576.4 L233.03,576.4 L233.34,576.41 L233.65,576.41 L233.96,576.41 L234.27,576.4 L234.58,576.4 L234.89,576.4 L235.2,576.39 L235.51,576.39 L235.82,576.38 L236.14,576.38 L236.45,576.37 L236.76,576.36 L237.07,576.36 L237.38,576.35 L237.69,576.34 L238,576.33" fill="none" stroke="#70ad47" stroke-width="1.9" stroke-dasharray="0.01 4.2" stroke-linejoin="round" stroke-linecap="round"/>
<rect x="20.8" y="445.2" width="221.8" height="159.6" stroke="#231f20" stroke-width="1.2" fill="none" />
<line x1="20.8" y1="604.8" x2="20.8" y2="607.8" stroke="#231f20" stroke-width="1.0" />
<line x1="33.12" y1="604.8" x2="33.12" y2="607.8" stroke="#231f20" stroke-width="1.0" />
<line x1="45.44" y1="604.8" x2="45.44" y2="607.8" stroke="#231f20" stroke-width="1.0" />
<line x1="57.77" y1="604.8" x2="57.77" y2="607.8" stroke="#231f20" stroke-width="1.0" />
<line x1="70.09" y1="604.8" x2="70.09" y2="607.8" stroke="#231f20" stroke-width="1.0" />
<line x1="82.41" y1="604.8" x2="82.41" y2="607.8" stroke="#231f20" stroke-width="1.0" />
<line x1="94.73" y1="604.8" x2="94.73" y2="607.8" stroke="#231f20" stroke-width="1.0" />
<line x1="107.06" y1="604.8" x2="107.06" y2="607.8" stroke="#231f20" stroke-width="1.0" />
<line x1="119.38" y1="604.8" x2="119.38" y2="607.8" stroke="#231f20" stroke-width="1.0" />
<line x1="131.7" y1="604.8" x2="131.7" y2="607.8" stroke="#231f20" stroke-width="1.0" />
<line x1="144.02" y1="604.8" x2="144.02" y2="607.8" stroke="#231f20" stroke-width="1.0" />
<line x1="156.34" y1="604.8" x2="156.34" y2="607.8" stroke="#231f20" stroke-width="1.0" />
<line x1="168.67" y1="604.8" x2="168.67" y2="607.8" stroke="#231f20" stroke-width="1.0" />
<line x1="180.99" y1="604.8" x2="180.99" y2="607.8" stroke="#231f20" stroke-width="1.0" />
<line x1="193.31" y1="604.8" x2="193.31" y2="607.8" stroke="#231f20" stroke-width="1.0" />
<line x1="205.63" y1="604.8" x2="205.63" y2="607.8" stroke="#231f20" stroke-width="1.0" />
<line x1="217.96" y1="604.8" x2="217.96" y2="607.8" stroke="#231f20" stroke-width="1.0" />
<line x1="230.28" y1="604.8" x2="230.28" y2="607.8" stroke="#231f20" stroke-width="1.0" />
<line x1="242.6" y1="604.8" x2="242.6" y2="607.8" stroke="#231f20" stroke-width="1.0" />
<text x="20.8" y="621" font-size="10.6" text-anchor="middle" fill="#231f20" font-weight="normal" stroke="#231f20" stroke-width="0.22" >867</text>
<text x="57.77" y="621" font-size="10.6" text-anchor="middle" fill="#231f20" font-weight="normal" stroke="#231f20" stroke-width="0.22" >864</text>
<text x="94.73" y="621" font-size="10.6" text-anchor="middle" fill="#231f20" font-weight="normal" stroke="#231f20" stroke-width="0.22" >861</text>
<text x="131.7" y="621" font-size="10.6" text-anchor="middle" fill="#231f20" font-weight="normal" stroke="#231f20" stroke-width="0.22" >858</text>
<text x="168.67" y="621" font-size="10.6" text-anchor="middle" fill="#231f20" font-weight="normal" stroke="#231f20" stroke-width="0.22" >855</text>
<text x="205.63" y="621" font-size="10.6" text-anchor="middle" fill="#231f20" font-weight="normal" stroke="#231f20" stroke-width="0.22" >852</text>
<text x="242.6" y="621" font-size="10.6" text-anchor="middle" fill="#231f20" font-weight="normal" stroke="#231f20" stroke-width="0.22" >849</text>
<text x="132.5" y="639.8" font-size="10.3" text-anchor="middle" fill="#231f20" font-weight="normal" stroke="#231f20" stroke-width="0.22" >Binding energy (eV)</text>
<text x="0" y="0" font-size="10.65" text-anchor="middle" fill="#231f20" font-weight="normal" stroke="#231f20" stroke-width="0.22" transform="translate(8.5,530.3) rotate(-90)">Intensity (arb. units)</text>
<text x="222.5" y="466.2" font-size="9.3" text-anchor="middle" fill="#4472c4" font-weight="normal" stroke="#4472c4" stroke-width="0.22" >Ni<tspan font-size="6.3" dy="-3.6">0</tspan><tspan dy="3.6"> 2</tspan><tspan font-style="italic">p</tspan><tspan font-size="6.3" dy="2">3/2</tspan></text>
<text x="222" y="476.3" font-size="9.3" text-anchor="middle" fill="#4472c4" font-weight="normal" stroke="#4472c4" stroke-width="0.22" >852.4 eV</text>
<text x="117" y="497.3" font-size="9.3" text-anchor="middle" fill="#ed7d31" font-weight="normal" stroke="#ed7d31" stroke-width="0.22" >Ni<tspan font-size="6.3" dy="-3.6">2+</tspan><tspan dy="3.6"> 2</tspan><tspan font-style="italic">p</tspan><tspan font-size="6.3" dy="2">3/2</tspan></text>
<text x="117" y="508.2" font-size="9.3" text-anchor="middle" fill="#ed7d31" font-weight="normal" stroke="#ed7d31" stroke-width="0.22" >855.4 eV</text>
<text x="43.3" y="533.4" font-size="9.3" text-anchor="middle" fill="#d0222c" font-weight="normal" stroke="#d0222c" stroke-width="0.22" >Satellite</text>
<text x="43.3" y="543.8" font-size="9.3" text-anchor="middle" fill="#d0222c" font-weight="normal" stroke="#d0222c" stroke-width="0.22" >860.6 eV</text>
<text x="260.6" y="10" font-size="13" text-anchor="start" fill="#000" font-weight="bold" >d</text>
<path d="M287.4,135.8 C291.87,135.1 308.43,132.58 314.2,131.6 C319.97,130.62 319.87,131.08 322,129.9 C324.13,128.72 325.67,126.82 327,124.5 C328.33,122.18 329,119.58 330,116 C331,112.42 331.83,109 333,103 C334.17,97 335.33,88 337,80 C338.67,72 341.35,61.23 343,55 C344.65,48.77 345.9,44.88 346.9,42.6 C347.9,40.32 348.23,41.57 349,41.3 C349.77,41.03 350.67,40.8 351.5,41 C352.33,41.2 353.08,41.67 354,42.5 C354.92,43.33 355.8,44.88 357,46 C358.2,47.12 359.87,48.95 361.2,49.2 C362.53,49.45 363.52,48.98 365,47.5 C366.48,46.02 368.6,42.8 370.1,40.3 C371.6,37.8 372.77,34.42 374,32.5 C375.23,30.58 376.33,28.97 377.5,28.8 C378.67,28.63 379.72,29.58 381,31.5 C382.28,33.42 384.03,37.88 385.2,40.3 C386.37,42.72 387,44.52 388,46 C389,47.48 390.03,48.62 391.2,49.2 C392.37,49.78 393.77,49.73 395,49.5 C396.23,49.27 397.1,48.63 398.6,47.8 C400.1,46.97 402.03,45.75 404,44.5 C405.97,43.25 408.57,41.72 410.4,40.3 C412.23,38.88 413.32,37.32 415,36 C416.68,34.68 418.47,32.52 420.5,32.4 C422.53,32.28 425.45,34.12 427.2,35.3 C428.95,36.48 429.6,38.25 431,39.5 C432.4,40.75 433.72,41.97 435.6,42.8 C437.48,43.63 440.4,44.22 442.3,44.5 C444.2,44.78 445.32,44.78 447,44.5 C448.68,44.22 450.7,43.22 452.4,42.8 C454.1,42.38 456.4,42.13 457.2,42" fill="none" stroke="#72b54e" stroke-width="1.2" stroke-linejoin="round" />
<path d="M287.4,136.9 C291.87,136.23 308.38,133.83 314.2,132.9 C320.02,131.97 319.88,132.37 322.3,131.3 C324.72,130.23 327.1,128.5 328.7,126.5 C330.3,124.5 330.97,122.12 331.9,119.3 C332.83,116.48 333.63,112.82 334.3,109.6 C334.97,106.38 335.17,104.97 335.9,100 C336.63,95.03 337.2,87.32 338.7,79.8 C340.2,72.28 343.48,61.12 344.9,54.9 C346.32,48.68 346.47,46.65 347.2,42.5 C347.93,38.35 348.68,32.72 349.3,30 C349.92,27.28 350.2,26.6 350.9,26.2 C351.6,25.8 352.47,27.08 353.5,27.6 C354.53,28.12 355.9,28.85 357.1,29.3 C358.3,29.75 359.38,29.6 360.7,30.3 C362.02,31 363.3,31.88 365,33.5 C366.7,35.12 368.9,38.17 370.9,40 C372.9,41.83 374.93,43.13 377,44.5 C379.07,45.87 380.92,47.67 383.3,48.2 C385.68,48.73 389.58,47.9 391.3,47.7 C393.02,47.5 392.15,47.77 393.6,47 C395.05,46.23 398.03,44.22 400,43.1 C401.97,41.98 402.55,41.75 405.4,40.3 C408.25,38.85 413.75,34.97 417.1,34.4 C420.45,33.83 422.7,36.2 425.5,36.9 C428.3,37.6 430.55,38.37 433.9,38.6 C437.25,38.83 441.72,37.88 445.6,38.3 C449.48,38.72 455.27,40.63 457.2,41.1" fill="none" stroke="#4a78d4" stroke-width="1.2" stroke-linejoin="round" />
<path d="M287.4,135.3 C290,134.9 298.53,133.7 303,132.9 C307.47,132.1 311.25,131.17 314.2,130.5 C317.15,129.83 318.82,129.83 320.7,128.9 C322.58,127.97 324.17,126.77 325.5,124.9 C326.83,123.03 327.87,120.18 328.7,117.7 C329.53,115.22 329.7,113.12 330.5,110 C331.3,106.88 332.55,104.03 333.5,99 C334.45,93.97 334.72,87.15 336.2,79.8 C337.68,72.45 340.73,60.5 342.4,54.9 C344.07,49.3 344.95,48.68 346.2,46.2 C347.45,43.72 348.68,41.2 349.9,40 C351.12,38.8 351.82,39 353.5,39 C355.18,39 356.95,39.37 360,40 C363.05,40.63 367.03,41.77 371.8,42.8 C376.57,43.83 384.68,45.78 388.6,46.2 C392.52,46.62 392.5,45.87 395.3,45.3 C398.1,44.73 401.2,43.72 405.4,42.8 C409.6,41.88 416.03,40.13 420.5,39.8 C424.97,39.47 428.28,40.35 432.2,40.8 C436.12,41.25 439.83,42.17 444,42.5 C448.17,42.83 455,42.75 457.2,42.8" fill="none" stroke="#d0232b" stroke-width="1.2" stroke-linejoin="round" />
<rect x="287.4" y="7.7" width="169.8" height="129.3" stroke="#231f20" stroke-width="1.2" fill="none" />
<line x1="287.4" y1="137" x2="287.4" y2="140" stroke="#231f20" stroke-width="1.0" />
<text x="287.4" y="152.6" font-size="10.6" text-anchor="middle" fill="#231f20" font-weight="normal" stroke="#231f20" stroke-width="0.22" >24300</text>
<line x1="321.36" y1="137" x2="321.36" y2="140" stroke="#231f20" stroke-width="1.0" />
<text x="321.36" y="152.6" font-size="10.6" text-anchor="middle" fill="#231f20" font-weight="normal" stroke="#231f20" stroke-width="0.22" >24330</text>
<line x1="355.32" y1="137" x2="355.32" y2="140" stroke="#231f20" stroke-width="1.0" />
<text x="355.32" y="152.6" font-size="10.6" text-anchor="middle" fill="#231f20" font-weight="normal" stroke="#231f20" stroke-width="0.22" >24360</text>
<line x1="389.28" y1="137" x2="389.28" y2="140" stroke="#231f20" stroke-width="1.0" />
<text x="389.28" y="152.6" font-size="10.6" text-anchor="middle" fill="#231f20" font-weight="normal" stroke="#231f20" stroke-width="0.22" >24390</text>
<line x1="423.24" y1="137" x2="423.24" y2="140" stroke="#231f20" stroke-width="1.0" />
<text x="423.24" y="152.6" font-size="10.6" text-anchor="middle" fill="#231f20" font-weight="normal" stroke="#231f20" stroke-width="0.22" >24420</text>
<line x1="457.2" y1="137" x2="457.2" y2="140" stroke="#231f20" stroke-width="1.0" />
<text x="457.2" y="152.6" font-size="10.6" text-anchor="middle" fill="#231f20" font-weight="normal" stroke="#231f20" stroke-width="0.22" >24450</text>
<text x="373.5" y="171.8" font-size="10.3" text-anchor="middle" fill="#231f20" font-weight="normal" stroke="#231f20" stroke-width="0.22" >Photon energy (eV)</text>
<text x="0" y="0" font-size="10.3" text-anchor="middle" fill="#231f20" font-weight="normal" stroke="#231f20" stroke-width="0.22" transform="translate(268.9,70.5) rotate(-90)">Normalized intensity</text>
<text x="0" y="0" font-size="10.3" text-anchor="middle" fill="#231f20" font-weight="normal" stroke="#231f20" stroke-width="0.22" transform="translate(280.4,70.3) rotate(-90)">(arb. units)</text>
<line x1="295" y1="16.9" x2="295" y2="34.5" stroke="#231f20" stroke-width="1.2" />
<text x="297.7" y="29.4" font-size="10.3" text-anchor="start" fill="#231f20" font-weight="normal" stroke="#231f20" stroke-width="0.22" >0.2</text>
<line x1="365" y1="78" x2="379.5" y2="78" stroke="#72b54e" stroke-width="1.3" />
<text x="383.8" y="82.1" font-size="9.5" text-anchor="start" fill="#231f20" font-weight="normal" stroke="#231f20" stroke-width="0.22" >Pd foil</text>
<line x1="365" y1="92.6" x2="379.5" y2="92.6" stroke="#4a78d4" stroke-width="1.3" />
<text x="383.8" y="96.7" font-size="9.5" text-anchor="start" fill="#231f20" font-weight="normal" stroke="#231f20" stroke-width="0.22" >PdO</text>
<line x1="365" y1="106.8" x2="379.5" y2="106.8" stroke="#d0232b" stroke-width="1.3" />
<text x="383.8" y="110.9" font-size="9.5" text-anchor="start" fill="#231f20" font-weight="normal" stroke="#231f20" stroke-width="0.22" >Ni<tspan font-size="6.5" dy="2">1</tspan><tspan dy="-2">Pd</tspan><tspan font-size="6.5" dy="2">1</tspan><tspan dy="-2">/CeO</tspan><tspan font-size="6.5" dy="2">2</tspan></text>
<text x="474.6" y="10" font-size="13" text-anchor="start" fill="#000" font-weight="bold" >e</text>
<path d="M502.5,136.8 C503.75,136.7 508.05,136.58 510,136.2 C511.95,135.82 513.03,135.53 514.2,134.5 C515.37,133.47 516.17,131.85 517,130 C517.83,128.15 518.32,126.52 519.2,123.4 C520.08,120.28 521.28,114 522.3,111.3 C523.32,108.6 523.62,109.23 525.3,107.2 C526.98,105.17 530.37,101.97 532.4,99.1 C534.43,96.23 535.98,94.05 537.5,90 C539.02,85.95 540.15,79.18 541.5,74.8 C542.85,70.42 544.42,65.9 545.6,63.7 C546.78,61.5 547.62,61.8 548.6,61.6 C549.58,61.4 550.48,62.15 551.5,62.5 C552.52,62.85 553.62,64.03 554.7,63.7 C555.78,63.37 556.65,61.52 558,60.5 C559.35,59.48 560.8,57.65 562.8,57.6 C564.8,57.55 567.8,59.22 570,60.2 C572.2,61.18 573.9,62.65 576,63.5 C578.1,64.35 579.77,65.88 582.6,65.3 C585.43,64.72 590.43,61.55 593,60 C595.57,58.45 596.1,57.08 598,56 C599.9,54.92 602.4,53.42 604.4,53.5 C606.4,53.58 607.9,55.23 610,56.5 C612.1,57.77 614.15,59.63 617,61.1 C619.85,62.57 622.9,64.6 627.1,65.3 C631.3,66 637.45,65.58 642.2,65.3 C646.95,65.02 650.37,64.73 655.6,63.6 C660.83,62.47 670.6,59.35 673.6,58.5" fill="none" stroke="#72b54e" stroke-width="1.2" stroke-linejoin="round" />
<path d="M502.5,136.8 C504.08,136.63 509.03,136.35 512,135.8 C514.97,135.25 517.92,134.22 520.3,133.5 C522.68,132.78 524.77,132.75 526.3,131.5 C527.83,130.25 528.48,128.37 529.5,126 C530.52,123.63 531.07,122.47 532.4,117.3 C533.73,112.13 535.82,104.45 537.5,95 C539.18,85.55 540.98,72.07 542.5,60.6 C544.02,49.13 545.48,32.95 546.6,26.2 C547.72,19.45 548.27,19.77 549.2,20.1 C550.13,20.43 550.95,23.13 552.2,28.2 C553.45,33.27 555.4,45.03 556.7,50.5 C558,55.97 558.82,57.97 560,61 C561.18,64.03 562.72,66.53 563.8,68.7 C564.88,70.87 565.65,72.82 566.5,74 C567.35,75.18 568.15,75.8 568.9,75.8 C569.65,75.8 570.23,75.13 571,74 C571.77,72.87 572.55,70.45 573.5,69 C574.45,67.55 575.62,65.55 576.7,65.3 C577.78,65.05 578.6,66.53 580,67.5 C581.4,68.47 582.57,69.73 585.1,71.1 C587.63,72.47 592.12,75.55 595.2,75.7 C598.28,75.85 600.53,73.4 603.6,72 C606.67,70.6 610.8,69.27 613.6,67.3 C616.4,65.33 618.17,62.33 620.4,60.2 C622.63,58.07 624.77,56.03 627,54.5 C629.23,52.97 631.63,51.25 633.8,51 C635.97,50.75 638.05,51.88 640,53 C641.95,54.12 642.9,55.65 645.5,57.7 C648.1,59.75 652.23,63.25 655.6,65.3 C658.97,67.35 662.7,69.17 665.7,70 C668.7,70.83 672.28,70.25 673.6,70.3" fill="none" stroke="#4a78d4" stroke-width="1.2" stroke-linejoin="round" />
<path d="M502.5,136.8 C504.08,136.63 509.03,136.35 512,135.8 C514.97,135.25 517.57,134.55 520.3,133.5 C523.03,132.45 526.45,131.5 528.4,129.5 C530.35,127.5 530.83,124.53 532,121.5 C533.17,118.47 533.98,119.08 535.4,111.3 C536.82,103.52 538.97,86.62 540.5,74.8 C542.03,62.98 543.6,47.28 544.6,40.4 C545.6,33.52 545.9,35.02 546.5,33.5 C547.1,31.98 547.62,31.42 548.2,31.3 C548.78,31.18 549.43,31.97 550,32.8 C550.57,33.63 550.77,34.1 551.6,36.3 C552.43,38.5 553.82,42.45 555,46 C556.18,49.55 557.07,53.82 558.7,57.6 C560.33,61.38 562.92,66.45 564.8,68.7 C566.68,70.95 567.47,69.72 570,71.1 C572.53,72.48 576.65,75.23 580,77 C583.35,78.77 586.73,81.42 590.1,81.7 C593.47,81.98 596.83,80.47 600.2,78.7 C603.57,76.93 606.38,73.53 610.3,71.1 C614.22,68.67 619.5,65.58 623.7,64.1 C627.9,62.62 631.3,62.2 635.5,62.2 C639.7,62.2 644.72,63.45 648.9,64.1 C653.08,64.75 656.48,65.4 660.6,66.1 C664.72,66.8 671.43,67.93 673.6,68.3" fill="none" stroke="#d0232b" stroke-width="1.2" stroke-linejoin="round" />
<rect x="502.5" y="7.3" width="171.1" height="130" stroke="#231f20" stroke-width="1.2" fill="none" />
<line x1="502.5" y1="137.3" x2="502.5" y2="140.3" stroke="#231f20" stroke-width="1.0" />
<text x="502.5" y="152.6" font-size="10.6" text-anchor="middle" fill="#231f20" font-weight="normal" stroke="#231f20" stroke-width="0.22" >8320</text>
<line x1="536.72" y1="137.3" x2="536.72" y2="140.3" stroke="#231f20" stroke-width="1.0" />
<text x="536.72" y="152.6" font-size="10.6" text-anchor="middle" fill="#231f20" font-weight="normal" stroke="#231f20" stroke-width="0.22" >8340</text>
<line x1="570.94" y1="137.3" x2="570.94" y2="140.3" stroke="#231f20" stroke-width="1.0" />
<text x="570.94" y="152.6" font-size="10.6" text-anchor="middle" fill="#231f20" font-weight="normal" stroke="#231f20" stroke-width="0.22" >8360</text>
<line x1="605.16" y1="137.3" x2="605.16" y2="140.3" stroke="#231f20" stroke-width="1.0" />
<text x="605.16" y="152.6" font-size="10.6" text-anchor="middle" fill="#231f20" font-weight="normal" stroke="#231f20" stroke-width="0.22" >8380</text>
<line x1="639.38" y1="137.3" x2="639.38" y2="140.3" stroke="#231f20" stroke-width="1.0" />
<text x="639.38" y="152.6" font-size="10.6" text-anchor="middle" fill="#231f20" font-weight="normal" stroke="#231f20" stroke-width="0.22" >8400</text>
<line x1="673.6" y1="137.3" x2="673.6" y2="140.3" stroke="#231f20" stroke-width="1.0" />
<text x="673.6" y="152.6" font-size="10.6" text-anchor="middle" fill="#231f20" font-weight="normal" stroke="#231f20" stroke-width="0.22" >8420</text>
<text x="593.25" y="171.8" font-size="10.3" text-anchor="middle" fill="#231f20" font-weight="normal" stroke="#231f20" stroke-width="0.22" >Photon energy (eV)</text>
<text x="0" y="0" font-size="10.3" text-anchor="middle" fill="#231f20" font-weight="normal" stroke="#231f20" stroke-width="0.22" transform="translate(483.8,72) rotate(-90)">Normalized intensity</text>
<text x="0" y="0" font-size="10.3" text-anchor="middle" fill="#231f20" font-weight="normal" stroke="#231f20" stroke-width="0.22" transform="translate(495.3,71.8) rotate(-90)">(arb. units)</text>
<line x1="510.4" y1="16" x2="510.4" y2="30.2" stroke="#231f20" stroke-width="1.2" />
<text x="513.1" y="26.8" font-size="10.3" text-anchor="start" fill="#231f20" font-weight="normal" stroke="#231f20" stroke-width="0.22" >0.2</text>
<line x1="597.6" y1="96.5" x2="612.5" y2="96.5" stroke="#72b54e" stroke-width="1.3" />
<text x="614" y="100.6" font-size="9.5" text-anchor="start" fill="#231f20" font-weight="normal" stroke="#231f20" stroke-width="0.22" >Ni foil</text>
<line x1="597.6" y1="108.8" x2="612.5" y2="108.8" stroke="#4a78d4" stroke-width="1.3" />
<text x="614" y="112.9" font-size="9.5" text-anchor="start" fill="#231f20" font-weight="normal" stroke="#231f20" stroke-width="0.22" >NiO</text>
<line x1="597.6" y1="121" x2="612.5" y2="121" stroke="#d0232b" stroke-width="1.3" />
<text x="614" y="125.1" font-size="9.5" text-anchor="start" fill="#231f20" font-weight="normal" stroke="#231f20" stroke-width="0.22" >Ni<tspan font-size="6.5" dy="2">1</tspan><tspan dy="-2">Pd</tspan><tspan font-size="6.5" dy="2">1</tspan><tspan dy="-2">/CeO</tspan><tspan font-size="6.5" dy="2">2</tspan></text>
<rect x="528.78" y="353.91" width="11.16" height="1.99" stroke="#231f20" stroke-width="1.1" fill="#fff" />
<rect x="539.95" y="347.52" width="11.16" height="8.38" stroke="#231f20" stroke-width="1.1" fill="#fff" />
<rect x="551.11" y="328.33" width="11.16" height="27.57" stroke="#231f20" stroke-width="1.1" fill="#fff" />
<rect x="562.28" y="222.67" width="11.16" height="133.23" stroke="#231f20" stroke-width="1.1" fill="#fff" />
<rect x="573.44" y="238.11" width="11.16" height="117.79" stroke="#231f20" stroke-width="1.1" fill="#fff" />
<rect x="584.61" y="272.97" width="11.16" height="82.93" stroke="#231f20" stroke-width="1.1" fill="#fff" />
<rect x="595.77" y="328.33" width="11.16" height="27.57" stroke="#231f20" stroke-width="1.1" fill="#fff" />
<rect x="606.94" y="330.09" width="11.16" height="25.81" stroke="#231f20" stroke-width="1.1" fill="#fff" />
<rect x="618.1" y="353.91" width="11.16" height="1.99" stroke="#231f20" stroke-width="1.1" fill="#fff" />
<rect x="629.27" y="345.75" width="11.16" height="10.15" stroke="#231f20" stroke-width="1.1" fill="#fff" />
<rect x="651.6" y="354.14" width="11.16" height="1.76" stroke="#231f20" stroke-width="1.1" fill="#fff" />
<rect x="662.76" y="354.14" width="11.16" height="1.76" stroke="#231f20" stroke-width="1.1" fill="#fff" />
<rect x="517.7" y="201.5" width="156.3" height="154.4" stroke="#231f20" stroke-width="1.2" fill="none" />
<line x1="514.7" y1="355.9" x2="517.7" y2="355.9" stroke="#231f20" stroke-width="1.0" />
<text x="506.4" y="359.5" font-size="10.6" text-anchor="end" fill="#231f20" font-weight="normal" stroke="#231f20" stroke-width="0.22" >0</text>
<line x1="514.7" y1="333.84" x2="517.7" y2="333.84" stroke="#231f20" stroke-width="1.0" />
<text x="506.4" y="337.44" font-size="10.6" text-anchor="end" fill="#231f20" font-weight="normal" stroke="#231f20" stroke-width="0.22" >5</text>
<line x1="514.7" y1="311.79" x2="517.7" y2="311.79" stroke="#231f20" stroke-width="1.0" />
<text x="506.4" y="315.39" font-size="10.6" text-anchor="end" fill="#231f20" font-weight="normal" stroke="#231f20" stroke-width="0.22" >10</text>
<line x1="514.7" y1="289.73" x2="517.7" y2="289.73" stroke="#231f20" stroke-width="1.0" />
<text x="506.4" y="293.33" font-size="10.6" text-anchor="end" fill="#231f20" font-weight="normal" stroke="#231f20" stroke-width="0.22" >15</text>
<line x1="514.7" y1="267.67" x2="517.7" y2="267.67" stroke="#231f20" stroke-width="1.0" />
<text x="506.4" y="271.27" font-size="10.6" text-anchor="end" fill="#231f20" font-weight="normal" stroke="#231f20" stroke-width="0.22" >20</text>
<line x1="514.7" y1="245.61" x2="517.7" y2="245.61" stroke="#231f20" stroke-width="1.0" />
<text x="506.4" y="249.21" font-size="10.6" text-anchor="end" fill="#231f20" font-weight="normal" stroke="#231f20" stroke-width="0.22" >25</text>
<line x1="514.7" y1="223.56" x2="517.7" y2="223.56" stroke="#231f20" stroke-width="1.0" />
<text x="506.4" y="227.16" font-size="10.6" text-anchor="end" fill="#231f20" font-weight="normal" stroke="#231f20" stroke-width="0.22" >30</text>
<line x1="514.7" y1="201.5" x2="517.7" y2="201.5" stroke="#231f20" stroke-width="1.0" />
<text x="506.4" y="205.1" font-size="10.6" text-anchor="end" fill="#231f20" font-weight="normal" stroke="#231f20" stroke-width="0.22" >35</text>
<line x1="517.7" y1="355.9" x2="517.7" y2="358.9" stroke="#231f20" stroke-width="1.0" />
<line x1="540.03" y1="355.9" x2="540.03" y2="358.9" stroke="#231f20" stroke-width="1.0" />
<line x1="562.36" y1="355.9" x2="562.36" y2="358.9" stroke="#231f20" stroke-width="1.0" />
<line x1="584.69" y1="355.9" x2="584.69" y2="358.9" stroke="#231f20" stroke-width="1.0" />
<line x1="607.02" y1="355.9" x2="607.02" y2="358.9" stroke="#231f20" stroke-width="1.0" />
<line x1="629.35" y1="355.9" x2="629.35" y2="358.9" stroke="#231f20" stroke-width="1.0" />
<line x1="651.68" y1="355.9" x2="651.68" y2="358.9" stroke="#231f20" stroke-width="1.0" />
<line x1="674.01" y1="355.9" x2="674.01" y2="358.9" stroke="#231f20" stroke-width="1.0" />
<text x="523.2" y="371.9" font-size="10.6" text-anchor="middle" fill="#231f20" font-weight="normal" stroke="#231f20" stroke-width="0.22" >0</text>
<text x="545.53" y="371.9" font-size="10.6" text-anchor="middle" fill="#231f20" font-weight="normal" stroke="#231f20" stroke-width="0.22" >1</text>
<text x="567.86" y="371.9" font-size="10.6" text-anchor="middle" fill="#231f20" font-weight="normal" stroke="#231f20" stroke-width="0.22" >2</text>
<text x="590.19" y="371.9" font-size="10.6" text-anchor="middle" fill="#231f20" font-weight="normal" stroke="#231f20" stroke-width="0.22" >3</text>
<text x="612.52" y="371.9" font-size="10.6" text-anchor="middle" fill="#231f20" font-weight="normal" stroke="#231f20" stroke-width="0.22" >4</text>
<text x="634.85" y="371.9" font-size="10.6" text-anchor="middle" fill="#231f20" font-weight="normal" stroke="#231f20" stroke-width="0.22" >5</text>
<text x="657.18" y="371.9" font-size="10.6" text-anchor="middle" fill="#231f20" font-weight="normal" stroke="#231f20" stroke-width="0.22" >6</text>
<text x="594.5" y="387.8" font-size="10.3" text-anchor="middle" fill="#231f20" font-weight="normal" stroke="#231f20" stroke-width="0.22" >Size (nm)</text>
<text x="0" y="0" font-size="10.5" text-anchor="middle" fill="#231f20" font-weight="normal" stroke="#231f20" stroke-width="0.22" transform="translate(485.2,273.4) rotate(-90)">Frequency (%)</text>
<text x="271.8" y="202" font-size="13" text-anchor="start" fill="#000" font-weight="bold" >f</text>
<text x="270.3" y="405.2" font-size="13" text-anchor="start" fill="#000" font-weight="bold" >g</text>
<g clip-path="url(#cf)"><g filter="url(#bf)"><rect x="279.2" y="187.2" width="194.3" height="193.1" fill="#151515"/><polygon points="336,214 360,208 398,218 412,240 418,262 404,270 398,250 390,232 345,222" fill="#303030" filter="url(#bf4)"/><polygon points="280,190 331,190 336,205 337,225 334,245 328,258 318,264 302,260 280,254" fill="#7e7e7e" /><ellipse cx="291" cy="228" rx="5" ry="28" fill="#5e5e5e" filter="url(#bf4)" transform="rotate(0,291,228)"/><ellipse cx="295" cy="201" rx="8" ry="5" fill="#a4a4a4" filter="url(#bf4)" transform="rotate(0,295,201)"/><ellipse cx="316" cy="210" rx="5" ry="5" fill="#b8b8b8" filter="url(#bf2)" transform="rotate(0,316,210)"/><ellipse cx="306" cy="232" rx="10" ry="8" fill="#939393" filter="url(#bf4)" transform="rotate(0,306,232)"/><ellipse cx="312" cy="252" rx="10" ry="6" fill="#8e8e8e" filter="url(#bf4)" transform="rotate(0,312,252)"/><polygon points="280,322 318,318 336,330 366,336 366,380 280,380" fill="#a6a6a6" /><ellipse cx="302" cy="350" rx="9" ry="8" fill="#bcbcbc" filter="url(#bf4)" transform="rotate(0,302,350)"/><ellipse cx="330" cy="352" rx="8" ry="7" fill="#b4b4b4" filter="url(#bf4)" transform="rotate(0,330,352)"/><ellipse cx="350" cy="345" rx="7" ry="6" fill="#aeaeae" filter="url(#bf4)" transform="rotate(0,350,345)"/><polygon points="280,255 302,260 316,266 323,276 326,295 323,312 316,324 302,330 280,332" fill="#e2e2e2" /><ellipse cx="303" cy="284" rx="7" ry="6" fill="#ffffff" filter="url(#bf2)" transform="rotate(0,303,284)"/><ellipse cx="300.5" cy="317.5" rx="9" ry="5" fill="#ffffff" filter="url(#bf2)" transform="rotate(-30,300.5,317.5)"/><ellipse cx="301" cy="287" rx="4" ry="4" fill="#ffffff" filter="url(#bf2)" transform="rotate(0,301,287)"/><ellipse cx="300" cy="318" rx="5" ry="3" fill="#ffffff" filter="url(#bf2)" transform="rotate(-30,300,318)"/><ellipse cx="321" cy="268" rx="3.5" ry="9" fill="#3a3a3a" filter="url(#bf4)" transform="rotate(0,321,268)"/><polygon points="323,284 401,304 394,313.6 383.8,331 366,336 336,330 320,318 318,300" fill="#868686" /><ellipse cx="333.7" cy="313" rx="7" ry="7" fill="#3c3c3c" filter="url(#bf2)" transform="rotate(0,333.7,313)"/><ellipse cx="350" cy="298" rx="9" ry="3" fill="#606060" filter="url(#bf2)" transform="rotate(0,350,298)"/><polygon points="364,300 396,308 388,328 368,334 364,320" fill="#626262" filter="url(#bf2)"/><circle cx="353.5" cy="316" r="11.8" fill="#a8a8a8"/><polygon points="394,313.6 421.8,306.3 440,294.6 446,292 446,319 421.8,322.3 383.8,331 378,333" fill="#2a2a2a" filter="url(#bf2)"/><polygon points="400.8,270 422,262 433,264 439.5,273 437,282 428,292 421.8,306.3 394,313.6 396,300" fill="#8c8c8c" /><polygon points="333,226 345,219 396,229 401,297 397,302 391,307 323,288.5 325,272 331,244" fill="#b0b0b0" /><ellipse cx="400.2" cy="245" rx="2.5" ry="3" fill="#8a8a8a" filter="url(#bf2)" transform="rotate(0,400.2,245)"/><polygon points="333,226 345,219 362,222 364,250 355,262 336,258" fill="#bdbdbd" filter="url(#bf4)"/><ellipse cx="392" cy="296" rx="4" ry="4" fill="#c8c8c8" filter="url(#bf4)" transform="rotate(0,392,296)"/><polygon points="366,338 418,325 419,380 366,380" fill="#b6b6b6" /><ellipse cx="425" cy="332" rx="6" ry="10" fill="#606060" filter="url(#bf2)" transform="rotate(0,425,332)"/></g></g>
<rect x="293.4" y="365.6" width="25.5" height="1.6" fill="#f4f4f4"/>
<text x="293.4" y="364.2" font-size="6.2" text-anchor="start" fill="#ececec" font-weight="normal" stroke="#ececec" stroke-width="0.22" letter-spacing="0.4">10 nm</text>
<g clip-path="url(#ch)"><rect x="289.3" y="402" width="111.6" height="110.9" fill="#000"/><g transform="translate(289.3,402) scale(1.0054,0.9991)"><g filter="url(#fh)"><rect x="-10" y="-10" width="131" height="131" fill="#171717"/><polygon points="-5,-5 52,-5 58,4 15.5,37 -5,44" fill="url(#gul)" /><polygon points="62,-5 116,-5 116,38 97,40 92,48 60,3" fill="#989898" /><ellipse cx="104" cy="6" rx="16" ry="14" fill="#acacac" /><polygon points="10,38 15.5,37 58,5 56,-2 44,6 26,20 8,32" fill="#505050" /><polygon points="92,48 97,40 116,38 116,70 100,62" fill="#262626" /><polygon points="15.5,37 30,22 45,12 60,3 70,14 82,32 92,48 75,62 58,76 39,90 27,79 19,63 15,49" fill="#c6c6c6" /><ellipse cx="50" cy="50" rx="22" ry="20" fill="#d0d0d0" filter="url(#bm)"/></g></g></g>
<rect x="289.7" y="402.4" width="110.8" height="110.1" fill="none" stroke="#0a0a0a" stroke-width="0.8"/>
<text x="295.9" y="504.3" font-size="10" text-anchor="start" fill="#fff" font-weight="bold" >HAADF-STEM</text>
<text x="385.4" y="503.1" font-size="8.2" text-anchor="middle" fill="#fff" font-weight="bold" >5 nm</text>
<rect x="377.4" y="505.1" width="16.3" height="1.4" fill="#fff"/>
<g clip-path="url(#cn)"><rect x="427" y="402" width="111.2" height="110.9" fill="#000"/><g transform="translate(427,402) scale(1.0018,0.9991)"><g filter="url(#dn)"><rect x="-10" y="-10" width="131" height="131" fill="#101010"/><polygon points="-5,-5 116,-5 116,38 97,40 92,48 60,3 15.5,37 -5,44" fill="#1e1e1e" /><polygon points="15.5,37 30,22 45,12 60,3 70,14 82,32 92,48 75,62 58,76 39,90 27,79 19,63 15,49" fill="#2a2a2a" /><polyline points="20,27 34,17 48,8" fill="none" stroke="#6a6a6a" stroke-width="6" stroke-linejoin="round" stroke-linecap="round" /></g></g></g>
<rect x="427.4" y="402.4" width="110.4" height="110.1" fill="none" stroke="#0a0a0a" stroke-width="0.8"/>
<text x="433.6" y="504.3" font-size="10" text-anchor="start" fill="#fff" font-weight="bold" >Ni</text>
<text x="522.7" y="503.1" font-size="8.2" text-anchor="middle" fill="#fff" font-weight="bold" >5 nm</text>
<rect x="514.7" y="505.1" width="16.3" height="1.4" fill="#fff"/>
<g clip-path="url(#cp)"><rect x="563" y="402" width="111.4" height="110.9" fill="#000"/><g transform="translate(563,402) scale(1.0036,0.9991)"><g filter="url(#dp)"><rect x="-10" y="-10" width="131" height="131" fill="#080808"/><polygon points="-5,-5 116,-5 116,38 97,40 92,48 60,3 15.5,37 -5,44" fill="#0e0e0e" /><polygon points="15.5,37 30,22 45,12 60,3 70,14 82,32 92,48 75,62 58,76 39,90 27,79 19,63 15,49" fill="#181818" /><polyline points="14,42 22,30 36,18 50,8 60,3 72,14 84,32 92,48 78,60 60,74 40,89 28,80 19,64 14,50 14,42" fill="none" stroke="#242424" stroke-width="7" stroke-linejoin="round" stroke-linecap="round" /><polyline points="25,22 36,16 47,11" fill="none" stroke="#686868" stroke-width="6" stroke-linejoin="round" stroke-linecap="round" /><ellipse cx="88" cy="24" rx="5" ry="6" fill="#686868" /><ellipse cx="18" cy="62" rx="5" ry="9" fill="#5a5a5a" /><ellipse cx="46" cy="63" rx="10" ry="5" fill="#484848" /><ellipse cx="65" cy="78" rx="4" ry="4" fill="#505050" /><ellipse cx="93" cy="44" rx="3" ry="5" fill="#484848" /><ellipse cx="83" cy="62" rx="4" ry="4" fill="#404040" /><ellipse cx="65" cy="6" rx="8" ry="4" fill="#404040" /></g></g></g>
<rect x="563.4" y="402.4" width="110.6" height="110.1" fill="none" stroke="#0a0a0a" stroke-width="0.8"/>
<text x="569.6" y="504.3" font-size="10" text-anchor="start" fill="#fff" font-weight="bold" >Pd</text>
<text x="658.9" y="503.1" font-size="8.2" text-anchor="middle" fill="#fff" font-weight="bold" >5 nm</text>
<rect x="650.9" y="505.1" width="16.3" height="1.4" fill="#fff"/>
<g clip-path="url(#cc)"><rect x="289" y="529.3" width="111" height="110.8" fill="#000"/><g transform="translate(289,529.3) scale(1.0000,0.9982)"><g filter="url(#fc)"><rect x="-10" y="-10" width="131" height="131" fill="#030808"/><polygon points="-5,-5 116,-5 116,38 97,40 92,48 60,3 15.5,37 -5,44" fill="#189694" /><polygon points="10,38 15.5,37 58,5 56,-2 44,6 26,20 8,32" fill="#0f6462" /><polygon points="92,48 97,40 116,38 116,70 100,62" fill="#052020" /><polygon points="15.5,37 30,22 45,12 60,3 70,14 82,32 92,48 75,62 58,76 39,90 27,79 19,63 15,49" fill="#1ca8a6" /></g></g></g>
<rect x="289.4" y="529.7" width="110.2" height="110" fill="none" stroke="#0a0a0a" stroke-width="0.8"/>
<text x="295.6" y="631.5" font-size="10" text-anchor="start" fill="#fff" font-weight="bold" >Ce</text>
<text x="384.5" y="630.3" font-size="8.2" text-anchor="middle" fill="#fff" font-weight="bold" >5 nm</text>
<rect x="376.5" y="632.3" width="16.3" height="1.4" fill="#fff"/>
<g clip-path="url(#co)"><rect x="427" y="529.3" width="111.2" height="110.2" fill="#000"/><g transform="translate(427,529.3) scale(1.0018,0.9928)"><g filter="url(#fo)"><rect x="-10" y="-10" width="131" height="131" fill="#030a03"/><polygon points="92,48 97,40 116,38 116,80 80,92 50,100 60,76" fill="#0c440c" /><polygon points="92,48 97,40 116,38 116,72 100,64" fill="#0f560f" /><polygon points="-5,-5 116,-5 116,38 97,40 92,48 60,3 15.5,37 -5,44" fill="#168416" /><polygon points="10,38 15.5,37 58,5 56,-2 44,6 26,20 8,32" fill="#0e5a0e" /><polygon points="86,34 97,38 98,48 92,50" fill="#0e5a0e" /><polygon points="15.5,37 30,22 45,12 60,3 70,14 82,32 92,48 75,62 58,76 39,90 27,79 19,63 15,49" fill="#1c961c" /></g></g></g>
<rect x="427.4" y="529.7" width="110.4" height="109.4" fill="none" stroke="#0a0a0a" stroke-width="0.8"/>
<text x="433.6" y="630.9" font-size="10" text-anchor="start" fill="#fff" font-weight="bold" >O</text>
<text x="522.7" y="629.7" font-size="8.2" text-anchor="middle" fill="#fff" font-weight="bold" >5 nm</text>
<rect x="514.7" y="631.7" width="16.3" height="1.4" fill="#fff"/>
<g clip-path="url(#cv)"><rect x="563.8" y="528.2" width="112" height="111.2" fill="#000"/><g transform="translate(563.8,528.2) scale(1.0090,1.0018)"><g filter="url(#fv)"><rect x="-10" y="-10" width="131" height="131" fill="#050508"/><polygon points="-5,-5 116,-5 116,38 97,40 92,48 60,3 15.5,37 -5,44" fill="#22969a" /><polygon points="-5,-5 52,-5 58,4 15.5,37 -5,44" fill="#1e8e92" /><polygon points="10,38 15.5,37 58,5 56,-2 44,6 26,20 8,32" fill="#0e4a4e" /><polygon points="86,34 97,38 98,48 92,50" fill="#125a5e" /><polygon points="92,48 97,40 116,38 116,70 100,62" fill="#061c1e" /><polygon points="15.5,37 30,22 45,12 60,3 70,14 82,32 92,48 75,62 58,76 39,90 27,79 19,63 15,49" fill="#2eacb0" /></g><g filter="url(#dn2)"><rect x="-10" y="-10" width="131" height="131" fill="#0a0a0a"/><polygon points="15.5,37 30,22 45,12 60,3 70,14 82,32 92,48 75,62 58,76 39,90 27,79 19,63 15,49" fill="#101010" /><polyline points="20,27 34,17 48,8" fill="none" stroke="#505050" stroke-width="6" stroke-linejoin="round" stroke-linecap="round" /></g><g filter="url(#dp2)"><rect x="-10" y="-10" width="131" height="131" fill="#000000"/><polygon points="15.5,37 30,22 45,12 60,3 70,14 82,32 92,48 75,62 58,76 39,90 27,79 19,63 15,49" fill="#0a0a0a" /><polyline points="14,42 22,30 36,18 50,8 60,3 72,14 84,32 92,48 78,60 60,74 40,89 28,80 19,64 14,50 14,42" fill="none" stroke="#282828" stroke-width="7" stroke-linejoin="round" stroke-linecap="round" /><polyline points="25,22 36,16 47,11" fill="none" stroke="#505050" stroke-width="6" stroke-linejoin="round" stroke-linecap="round" /><ellipse cx="88" cy="24" rx="5" ry="6" fill="#707070" /><ellipse cx="18" cy="62" rx="5" ry="9" fill="#5a5a5a" /><ellipse cx="65" cy="78" rx="4" ry="4" fill="#4a4a4a" /></g></g></g>
<rect x="564.2" y="528.6" width="111.2" height="110.4" fill="none" stroke="#0a0a0a" stroke-width="0.8"/>
<text x="567.9" y="630.8" font-size="10" text-anchor="start" fill="#fff" font-weight="bold" textLength="38.2">Overlap</text>
<text x="660.3" y="629.6" font-size="8.2" text-anchor="middle" fill="#fff" font-weight="bold" >5 nm</text>
<rect x="652.3" y="631.6" width="16.3" height="1.4" fill="#fff"/>
</svg>
</body></html>
